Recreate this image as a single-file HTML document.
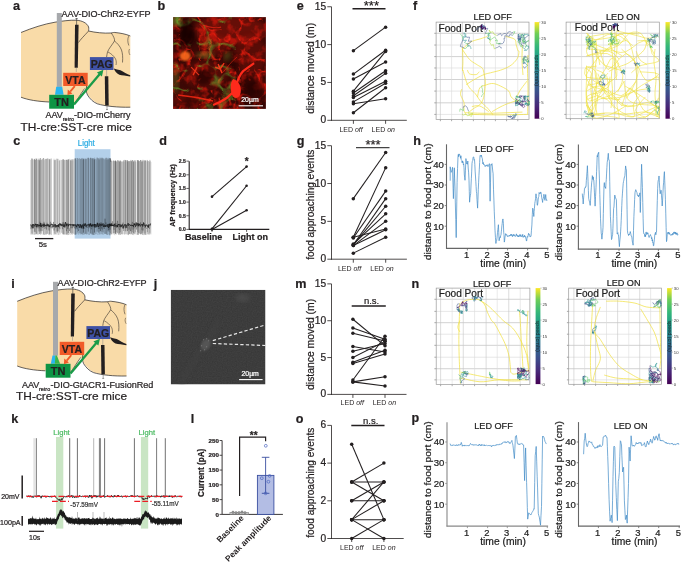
<!DOCTYPE html>
<html><head><meta charset="utf-8"><title>Figure</title>
<style>
html,body{margin:0;padding:0;background:#fff;}
body{width:685px;height:563px;overflow:hidden;}
svg{display:block;font-family:"Liberation Sans", sans-serif;}
</style></head>
<body>
<svg width="685" height="563" viewBox="0 0 685 563">
<defs>
<linearGradient id="vir" x1="0" y1="1" x2="0" y2="0">
<stop offset="0" stop-color="#440154"/><stop offset="0.13" stop-color="#482878"/><stop offset="0.25" stop-color="#3e4989"/>
<stop offset="0.38" stop-color="#31688e"/><stop offset="0.5" stop-color="#26828e"/><stop offset="0.63" stop-color="#1f9e89"/>
<stop offset="0.75" stop-color="#35b779"/><stop offset="0.88" stop-color="#6ece58"/><stop offset="1" stop-color="#fde725"/>
</linearGradient>
<clipPath id="clipB"><rect x="173.1" y="17.1" width="92.8" height="91.8"/></clipPath>
<clipPath id="clipJ"><rect x="170.7" y="289.8" width="94.8" height="94.7"/></clipPath>
<filter id="turbR" x="0" y="0" width="1" height="1" filterUnits="objectBoundingBox" color-interpolation-filters="sRGB">
<feTurbulence type="fractalNoise" baseFrequency="0.11" numOctaves="3" seed="4" result="n"/>
<feColorMatrix in="n" type="matrix" values="0 0 0 0 0.9  0 0 0 0 0.1  0 0 0 0 0.05  3.4 0 0 0 -1.6" result="c"/>
<feGaussianBlur in="c" stdDeviation="0.6"/>
</filter>
<filter id="turbG" x="0" y="0" width="1" height="1" filterUnits="objectBoundingBox" color-interpolation-filters="sRGB">
<feTurbulence type="fractalNoise" baseFrequency="0.07" numOctaves="2" seed="9" result="n"/>
<feColorMatrix in="n" type="matrix" values="0 0 0 0 0.45  0 0 0 0 0.7  0 0 0 0 0.15  0 3.0 0 0 -1.7" result="c"/>
<feGaussianBlur in="c" stdDeviation="0.8"/>
</filter>
<filter id="veinR" x="0" y="0" width="1" height="1" filterUnits="objectBoundingBox" color-interpolation-filters="sRGB">
<feTurbulence type="turbulence" baseFrequency="0.05" numOctaves="3" seed="4" result="n"/>
<feColorMatrix in="n" type="matrix" values="0 0 0 0 0.95  0 0 0 0 0.12  0 0 0 0 0.06  -8 0 0 0 1.25" result="c"/>
<feGaussianBlur in="c" stdDeviation="0.35"/>
</filter>
<filter id="veinG" x="0" y="0" width="1" height="1" filterUnits="objectBoundingBox" color-interpolation-filters="sRGB">
<feTurbulence type="turbulence" baseFrequency="0.045" numOctaves="2" seed="11" result="n"/>
<feColorMatrix in="n" type="matrix" values="0 0 0 0 0.4  0 0 0 0 0.75  0 0 0 0 0.2  -7 0 0 0 1.0" result="c"/>
<feGaussianBlur in="c" stdDeviation="0.4"/>
</filter>
<filter id="turbJ" x="0" y="0" width="1" height="1" filterUnits="objectBoundingBox" color-interpolation-filters="sRGB">
<feTurbulence type="fractalNoise" baseFrequency="0.8" numOctaves="1" seed="2" result="n"/>
<feColorMatrix in="n" type="matrix" values="0 0 0 0 1  0 0 0 0 1  0 0 0 0 1  1 0 0 0 0"/>
</filter>
<filter id="blur05"><feGaussianBlur stdDeviation="0.5"/></filter>
<filter id="blur1"><feGaussianBlur stdDeviation="1"/></filter>
<filter id="blur2"><feGaussianBlur stdDeviation="2"/></filter>
</defs>
<rect x="0" y="0" width="685" height="563" fill="#ffffff"/>
<g transform="translate(0,0)">
<path d="M21,32.5 C32,28 44,24 55,22.2 C62,21 70,20 76,20.2 C82,20.5 87,23 88.6,27 C89,29 88.5,30.5 88.6,31 C95,32.5 104,33.5 111,33 C113,32.6 114,32.3 115,32.5 C120,33 126,34 130.3,36 L130.3,107.2 C118,107.5 105,106 97.3,103.5 C92,100 88,96 86.7,92.4 L84.6,88.5 C80,96 76,101 74,104 L49.2,102 C38,101.5 28,100 21,97.2 Z" fill="#f9dba8" stroke="none"/>
<path d="M21,32.5 C32,28 44,24 55,22.2 C62,21 70,20 76,20.2 C82,20.5 87,23 88.6,27 C89,29 88.5,30.5 88.6,31 C95,32.5 104,33.5 111,33 C113,32.6 114,32.3 115,32.5 C120,33 126,34 130.3,36" fill="none" stroke="#231f20" stroke-width="0.7"/>
<path d="M21,97.2 C28,100 38,101.5 49.2,102" fill="none" stroke="#231f20" stroke-width="0.7"/>
<path d="M74,104 C77,100 80,95 84.6,88.5" fill="none" stroke="#231f20" stroke-width="0.6"/>
<path d="M86.7,86 C86,89 86,92 87.5,95 C90,99 93,102 97.3,103.8 C105,106.2 118,107.5 130.3,107.2" fill="none" stroke="#231f20" stroke-width="0.7"/>
<path d="M88.6,31 C84,36 80,40 78.5,42.5" fill="none" stroke="#231f20" stroke-width="0.6"/>
<path d="M111.3,33 C113.3,36 115,39 114.5,41 C112,45 108.5,49 107.5,52 C107,54 106.8,55.5 106.6,57" fill="none" stroke="#231f20" stroke-width="0.55"/>
<path d="M114.5,41 C117,43 120,46 121.5,50 C122.5,53 123,57 122.5,62.5" fill="none" stroke="#231f20" stroke-width="0.55"/>
<path d="M108,52 C111,53.5 114,56 115.6,59 C116.3,61 116.5,63 116,65" fill="none" stroke="#231f20" stroke-width="0.5"/>
<path d="M128.6,36.2 C127.5,39 127.5,42 128.8,45.5" fill="none" stroke="#231f20" stroke-width="0.5"/>
<path d="M129.5,49 C128.5,51 128.8,53 130,55" fill="none" stroke="#231f20" stroke-width="0.45"/>
<path d="M113.8,68.4 L117,69.5 L120.5,70.2 C123.5,72 127,74 130.2,75.2 L130.2,76.4 C126,75.9 122,75.3 119.3,74.8 C116.5,73 114.6,71 113.8,68.4 Z" fill="#231f20"/>
<line x1="76.60" y1="18.40" x2="76.60" y2="25.00" stroke="#333" stroke-width="0.6" />
<line x1="75.50" y1="18.60" x2="77.70" y2="18.60" stroke="#333" stroke-width="0.7" />
<path d="M75,24.8 L78.6,24.8 L77.8,67.7 L74.6,67.7 Z" fill="#231f20"/>
<line x1="76.30" y1="67.70" x2="76.30" y2="72.00" stroke="#888" stroke-width="0.5" />
<line x1="106.60" y1="70.00" x2="106.60" y2="76.20" stroke="#888" stroke-width="0.5" />
<path d="M104.8,76.2 L108.3,76.2 L108.7,105.4 L105.2,105.4 Z" fill="#231f20"/>
<line x1="107.00" y1="105.40" x2="107.00" y2="110.00" stroke="#555" stroke-width="0.5" />
<line x1="106.00" y1="109.60" x2="108.00" y2="109.60" stroke="#555" stroke-width="0.5" />
<rect x="56.80" y="13.00" width="5.00" height="73.90" fill="#a7a9ac" />
</g>
<g transform="translate(0,0)">
<path d="M56.2,86.8 L62.2,86.8 L63.6,94.8 L55.0,94.8 Z" fill="#29b6f0"/>
<rect x="63.20" y="72.80" width="24.50" height="13.20" fill="#f15a29" />
<text x="75.45" y="83.60" font-size="10.5" text-anchor="middle" font-weight="bold" fill="#231f20" stroke="#231f20" stroke-width="0.22" >VTA</text>
<rect x="89.90" y="57.10" width="23.60" height="12.90" fill="#3f51a5" />
<text x="101.70" y="67.60" font-size="10.5" text-anchor="middle" font-weight="bold" fill="#231f20" stroke="#231f20" stroke-width="0.22" >PAG</text>
<rect x="49.20" y="94.80" width="24.80" height="13.90" fill="#0d9444" />
<text x="61.60" y="106.20" font-size="11" text-anchor="middle" font-weight="bold" fill="#231f20" stroke="#231f20" stroke-width="0.22" >TN</text>
<line x1="74.8" y1="86.2" x2="70.2" y2="91.6" stroke="#f15a29" stroke-width="1.8"/>
<path d="M67.4,95.2 L67.8,89.6 L72.4,93.4 Z" fill="#f15a29"/>
<line x1="74.0" y1="104.6" x2="100.0" y2="73.7" stroke="#1a9b48" stroke-width="2.3"/>
<path d="M103.4,69.7 L101.9,76.6 L96.9,72.4 Z" fill="#1a9b48"/>
</g>
<text x="12.90" y="10.30" font-size="12.6" text-anchor="start" font-weight="bold" fill="#231f20" stroke="#231f20" stroke-width="0.22" >a</text>
<text x="61.50" y="17.40" font-size="9" text-anchor="start" font-weight="normal" fill="#231f20" stroke="#231f20" stroke-width="0.22" textLength="89" lengthAdjust="spacingAndGlyphs" >AAV-DIO-ChR2-EYFP</text>
<text x="45.40" y="117.70" font-size="9" text-anchor="start" font-weight="normal" fill="#231f20" stroke="#231f20" stroke-width="0.22" >AAV</text>
<text x="62.80" y="120.90" font-size="5.4" text-anchor="start" font-weight="normal" fill="#231f20" stroke="#231f20" stroke-width="0.22" textLength="11.2" lengthAdjust="spacingAndGlyphs" >retro</text>
<text x="74.00" y="117.70" font-size="9" text-anchor="start" font-weight="normal" fill="#231f20" stroke="#231f20" stroke-width="0.22" >-DIO-mCherry</text>
<text x="20.60" y="130.90" font-size="11.6" text-anchor="start" font-weight="normal" fill="#231f20" stroke="#231f20" stroke-width="0.22" textLength="111.2" lengthAdjust="spacingAndGlyphs" >TH-cre:SST-cre mice</text>
<g transform="translate(-3.8,268.8)">
<path d="M21,32.5 C32,28 44,24 55,22.2 C62,21 70,20 76,20.2 C82,20.5 87,23 88.6,27 C89,29 88.5,30.5 88.6,31 C95,32.5 104,33.5 111,33 C113,32.6 114,32.3 115,32.5 C120,33 126,34 130.3,36 L130.3,107.2 C118,107.5 105,106 97.3,103.5 C92,100 88,96 86.7,92.4 L84.6,88.5 C80,96 76,101 74,104 L49.2,102 C38,101.5 28,100 21,97.2 Z" fill="#f9dba8" stroke="none"/>
<path d="M21,32.5 C32,28 44,24 55,22.2 C62,21 70,20 76,20.2 C82,20.5 87,23 88.6,27 C89,29 88.5,30.5 88.6,31 C95,32.5 104,33.5 111,33 C113,32.6 114,32.3 115,32.5 C120,33 126,34 130.3,36" fill="none" stroke="#231f20" stroke-width="0.7"/>
<path d="M21,97.2 C28,100 38,101.5 49.2,102" fill="none" stroke="#231f20" stroke-width="0.7"/>
<path d="M74,104 C77,100 80,95 84.6,88.5" fill="none" stroke="#231f20" stroke-width="0.6"/>
<path d="M86.7,86 C86,89 86,92 87.5,95 C90,99 93,102 97.3,103.8 C105,106.2 118,107.5 130.3,107.2" fill="none" stroke="#231f20" stroke-width="0.7"/>
<path d="M88.6,31 C84,36 80,40 78.5,42.5" fill="none" stroke="#231f20" stroke-width="0.6"/>
<path d="M111.3,33 C113.3,36 115,39 114.5,41 C112,45 108.5,49 107.5,52 C107,54 106.8,55.5 106.6,57" fill="none" stroke="#231f20" stroke-width="0.55"/>
<path d="M114.5,41 C117,43 120,46 121.5,50 C122.5,53 123,57 122.5,62.5" fill="none" stroke="#231f20" stroke-width="0.55"/>
<path d="M108,52 C111,53.5 114,56 115.6,59 C116.3,61 116.5,63 116,65" fill="none" stroke="#231f20" stroke-width="0.5"/>
<path d="M128.6,36.2 C127.5,39 127.5,42 128.8,45.5" fill="none" stroke="#231f20" stroke-width="0.5"/>
<path d="M129.5,49 C128.5,51 128.8,53 130,55" fill="none" stroke="#231f20" stroke-width="0.45"/>
<path d="M113.8,68.4 L117,69.5 L120.5,70.2 C123.5,72 127,74 130.2,75.2 L130.2,76.4 C126,75.9 122,75.3 119.3,74.8 C116.5,73 114.6,71 113.8,68.4 Z" fill="#231f20"/>
<line x1="76.60" y1="18.40" x2="76.60" y2="25.00" stroke="#333" stroke-width="0.6" />
<line x1="75.50" y1="18.60" x2="77.70" y2="18.60" stroke="#333" stroke-width="0.7" />
<path d="M75,24.8 L78.6,24.8 L77.8,67.7 L74.6,67.7 Z" fill="#231f20"/>
<line x1="76.30" y1="67.70" x2="76.30" y2="72.00" stroke="#888" stroke-width="0.5" />
<line x1="106.60" y1="70.00" x2="106.60" y2="76.20" stroke="#888" stroke-width="0.5" />
<path d="M104.8,76.2 L108.3,76.2 L108.7,105.4 L105.2,105.4 Z" fill="#231f20"/>
<line x1="107.00" y1="105.40" x2="107.00" y2="110.00" stroke="#555" stroke-width="0.5" />
<line x1="106.00" y1="109.60" x2="108.00" y2="109.60" stroke="#555" stroke-width="0.5" />
<rect x="56.80" y="13.00" width="5.00" height="73.90" fill="#a7a9ac" />
</g>
<g transform="translate(-3.5,269.0)">
<path d="M56.0,86.6 L59.0,86.6 L58.4,94.8 L54.3,94.8 Z" fill="#29b6f0"/>
<path d="M58.9,86.6 L60.4,86.6 L63.6,94.8 L58.3,94.8 Z" fill="#39b54a"/>
<rect x="63.20" y="72.80" width="24.50" height="13.20" fill="#f15a29" />
<text x="75.45" y="83.60" font-size="10.5" text-anchor="middle" font-weight="bold" fill="#231f20" stroke="#231f20" stroke-width="0.22" >VTA</text>
<rect x="89.90" y="57.10" width="23.60" height="12.90" fill="#3f51a5" />
<text x="101.70" y="67.60" font-size="10.5" text-anchor="middle" font-weight="bold" fill="#231f20" stroke="#231f20" stroke-width="0.22" >PAG</text>
<rect x="49.20" y="94.80" width="24.80" height="13.90" fill="#0d9444" />
<text x="61.60" y="106.20" font-size="11" text-anchor="middle" font-weight="bold" fill="#231f20" stroke="#231f20" stroke-width="0.22" >TN</text>
<line x1="74.8" y1="86.2" x2="70.2" y2="91.6" stroke="#f15a29" stroke-width="1.8"/>
<path d="M67.4,95.2 L67.8,89.6 L72.4,93.4 Z" fill="#f15a29"/>
<line x1="74.0" y1="104.6" x2="100.0" y2="73.7" stroke="#1a9b48" stroke-width="2.3"/>
<path d="M103.4,69.7 L101.9,76.6 L96.9,72.4 Z" fill="#1a9b48"/>
</g>
<text x="11.30" y="288.00" font-size="12.6" text-anchor="start" font-weight="bold" fill="#231f20" stroke="#231f20" stroke-width="0.22" >i</text>
<text x="57.60" y="286.10" font-size="9" text-anchor="start" font-weight="normal" fill="#231f20" stroke="#231f20" stroke-width="0.22" textLength="89" lengthAdjust="spacingAndGlyphs" >AAV-DIO-ChR2-EYFP</text>
<text x="22.00" y="387.80" font-size="9" text-anchor="start" font-weight="normal" fill="#231f20" stroke="#231f20" stroke-width="0.22" >AAV</text>
<text x="39.00" y="390.60" font-size="5.4" text-anchor="start" font-weight="normal" fill="#231f20" stroke="#231f20" stroke-width="0.22" textLength="11.2" lengthAdjust="spacingAndGlyphs" >retro</text>
<text x="50.60" y="387.80" font-size="9" text-anchor="start" font-weight="normal" fill="#231f20" stroke="#231f20" stroke-width="0.22" textLength="102.8" lengthAdjust="spacingAndGlyphs" >-DIO-GtACR1-FusionRed</text>
<text x="16.10" y="400.30" font-size="11.6" text-anchor="start" font-weight="normal" fill="#231f20" stroke="#231f20" stroke-width="0.22" textLength="111" lengthAdjust="spacingAndGlyphs" >TH-cre:SST-cre mice</text>
<line x1="331.50" y1="6.75" x2="331.50" y2="120.70" stroke="#231f20" stroke-width="0.8" />
<line x1="331.10" y1="120.30" x2="406.80" y2="120.30" stroke="#231f20" stroke-width="0.8" />
<line x1="327.30" y1="120.30" x2="331.50" y2="120.30" stroke="#231f20" stroke-width="0.8" />
<text x="326.20" y="123.30" font-size="10.2" text-anchor="end" font-weight="normal" fill="#231f20" stroke="#231f20" stroke-width="0.22" >0</text>
<line x1="327.30" y1="82.45" x2="331.50" y2="82.45" stroke="#231f20" stroke-width="0.8" />
<text x="326.20" y="85.45" font-size="10.2" text-anchor="end" font-weight="normal" fill="#231f20" stroke="#231f20" stroke-width="0.22" >5</text>
<line x1="327.30" y1="44.60" x2="331.50" y2="44.60" stroke="#231f20" stroke-width="0.8" />
<text x="326.20" y="47.60" font-size="10.2" text-anchor="end" font-weight="normal" fill="#231f20" stroke="#231f20" stroke-width="0.22" >10</text>
<line x1="327.30" y1="6.75" x2="331.50" y2="6.75" stroke="#231f20" stroke-width="0.8" />
<text x="326.20" y="9.75" font-size="10.2" text-anchor="end" font-weight="normal" fill="#231f20" stroke="#231f20" stroke-width="0.22" >15</text>
<line x1="353.40" y1="120.30" x2="353.40" y2="123.80" stroke="#231f20" stroke-width="0.8" />
<line x1="385.60" y1="120.30" x2="385.60" y2="123.80" stroke="#231f20" stroke-width="0.8" />
<text x="351.10" y="131.70" font-size="7" text-anchor="middle" fill="#231f20">LED <tspan font-style="italic">off</tspan></text>
<text x="383.30" y="131.70" font-size="7" text-anchor="middle" fill="#231f20">LED <tspan font-style="italic">on</tspan></text>
<line x1="353.40" y1="50.66" x2="385.60" y2="27.19" stroke="#231f20" stroke-width="1.05" />
<line x1="353.40" y1="74.12" x2="385.60" y2="50.28" stroke="#231f20" stroke-width="1.05" />
<line x1="353.40" y1="79.04" x2="385.60" y2="62.01" stroke="#231f20" stroke-width="1.05" />
<line x1="353.40" y1="91.16" x2="385.60" y2="51.41" stroke="#231f20" stroke-width="1.05" />
<line x1="353.40" y1="93.05" x2="385.60" y2="70.72" stroke="#231f20" stroke-width="1.05" />
<line x1="353.40" y1="95.70" x2="385.60" y2="73.37" stroke="#231f20" stroke-width="1.05" />
<line x1="353.40" y1="97.59" x2="385.60" y2="81.31" stroke="#231f20" stroke-width="1.05" />
<line x1="353.40" y1="101.90" x2="385.60" y2="83.21" stroke="#231f20" stroke-width="1.05" />
<line x1="353.40" y1="103.65" x2="385.60" y2="98.73" stroke="#231f20" stroke-width="1.05" />
<line x1="353.40" y1="112.73" x2="385.60" y2="87.75" stroke="#231f20" stroke-width="1.05" />
<circle cx="353.40" cy="50.66" r="1.75" fill="#231f20"/>
<circle cx="385.60" cy="27.19" r="1.75" fill="#231f20"/>
<circle cx="353.40" cy="74.12" r="1.75" fill="#231f20"/>
<circle cx="385.60" cy="50.28" r="1.75" fill="#231f20"/>
<circle cx="353.40" cy="79.04" r="1.75" fill="#231f20"/>
<circle cx="385.60" cy="62.01" r="1.75" fill="#231f20"/>
<circle cx="353.40" cy="91.16" r="1.75" fill="#231f20"/>
<circle cx="385.60" cy="51.41" r="1.75" fill="#231f20"/>
<circle cx="353.40" cy="93.05" r="1.75" fill="#231f20"/>
<circle cx="385.60" cy="70.72" r="1.75" fill="#231f20"/>
<circle cx="353.40" cy="95.70" r="1.75" fill="#231f20"/>
<circle cx="385.60" cy="73.37" r="1.75" fill="#231f20"/>
<circle cx="353.40" cy="97.59" r="1.75" fill="#231f20"/>
<circle cx="385.60" cy="81.31" r="1.75" fill="#231f20"/>
<circle cx="353.40" cy="101.90" r="1.75" fill="#231f20"/>
<circle cx="385.60" cy="83.21" r="1.75" fill="#231f20"/>
<circle cx="353.40" cy="103.65" r="1.75" fill="#231f20"/>
<circle cx="385.60" cy="98.73" r="1.75" fill="#231f20"/>
<circle cx="353.40" cy="112.73" r="1.75" fill="#231f20"/>
<circle cx="385.60" cy="87.75" r="1.75" fill="#231f20"/>
<line x1="352.50" y1="8.70" x2="385.50" y2="8.70" stroke="#231f20" stroke-width="1.35" />
<text x="371.40" y="10.40" font-size="13" text-anchor="middle" font-weight="normal" fill="#231f20" stroke="#231f20" stroke-width="0.22" >***</text>
<text transform="translate(314.20,68.30) scale(1.1,1) rotate(-90)" x="0" y="0" font-size="10.4" text-anchor="middle" font-weight="normal" fill="#231f20" stroke="#231f20" stroke-width="0.22" textLength="91" lengthAdjust="spacingAndGlyphs">distance moved (m)</text>
<text x="296.80" y="10.20" font-size="12.6" text-anchor="start" font-weight="bold" fill="#231f20" stroke="#231f20" stroke-width="0.22" >e</text>
<line x1="331.50" y1="145.69" x2="331.50" y2="259.60" stroke="#231f20" stroke-width="0.8" />
<line x1="331.10" y1="259.20" x2="406.90" y2="259.20" stroke="#231f20" stroke-width="0.8" />
<line x1="327.30" y1="259.20" x2="331.50" y2="259.20" stroke="#231f20" stroke-width="0.8" />
<text x="326.20" y="262.20" font-size="10.2" text-anchor="end" font-weight="normal" fill="#231f20" stroke="#231f20" stroke-width="0.22" >0</text>
<line x1="327.30" y1="221.36" x2="331.50" y2="221.36" stroke="#231f20" stroke-width="0.8" />
<text x="326.20" y="224.36" font-size="10.2" text-anchor="end" font-weight="normal" fill="#231f20" stroke="#231f20" stroke-width="0.22" >5</text>
<line x1="327.30" y1="183.53" x2="331.50" y2="183.53" stroke="#231f20" stroke-width="0.8" />
<text x="326.20" y="186.53" font-size="10.2" text-anchor="end" font-weight="normal" fill="#231f20" stroke="#231f20" stroke-width="0.22" >10</text>
<line x1="327.30" y1="145.69" x2="331.50" y2="145.69" stroke="#231f20" stroke-width="0.8" />
<text x="326.20" y="148.69" font-size="10.2" text-anchor="end" font-weight="normal" fill="#231f20" stroke="#231f20" stroke-width="0.22" >15</text>
<line x1="353.30" y1="259.20" x2="353.30" y2="262.70" stroke="#231f20" stroke-width="0.8" />
<line x1="385.70" y1="259.20" x2="385.70" y2="262.70" stroke="#231f20" stroke-width="0.8" />
<text x="349.60" y="271.20" font-size="7" text-anchor="middle" fill="#231f20">LED <tspan font-style="italic">off</tspan></text>
<text x="382.00" y="271.20" font-size="7" text-anchor="middle" fill="#231f20">LED <tspan font-style="italic">on</tspan></text>
<line x1="353.30" y1="198.66" x2="385.70" y2="152.51" stroke="#231f20" stroke-width="1.05" />
<line x1="353.30" y1="237.26" x2="385.70" y2="167.64" stroke="#231f20" stroke-width="1.05" />
<line x1="353.30" y1="238.01" x2="385.70" y2="191.10" stroke="#231f20" stroke-width="1.05" />
<line x1="353.30" y1="244.82" x2="385.70" y2="198.66" stroke="#231f20" stroke-width="1.05" />
<line x1="353.30" y1="244.82" x2="385.70" y2="206.23" stroke="#231f20" stroke-width="1.05" />
<line x1="353.30" y1="244.07" x2="385.70" y2="213.80" stroke="#231f20" stroke-width="1.05" />
<line x1="353.30" y1="245.58" x2="385.70" y2="221.36" stroke="#231f20" stroke-width="1.05" />
<line x1="353.30" y1="237.26" x2="385.70" y2="228.93" stroke="#231f20" stroke-width="1.05" />
<line x1="353.30" y1="245.58" x2="385.70" y2="229.69" stroke="#231f20" stroke-width="1.05" />
<line x1="353.30" y1="253.15" x2="385.70" y2="237.26" stroke="#231f20" stroke-width="1.05" />
<circle cx="353.30" cy="198.66" r="1.75" fill="#231f20"/>
<circle cx="385.70" cy="152.51" r="1.75" fill="#231f20"/>
<circle cx="353.30" cy="237.26" r="1.75" fill="#231f20"/>
<circle cx="385.70" cy="167.64" r="1.75" fill="#231f20"/>
<circle cx="353.30" cy="238.01" r="1.75" fill="#231f20"/>
<circle cx="385.70" cy="191.10" r="1.75" fill="#231f20"/>
<circle cx="353.30" cy="244.82" r="1.75" fill="#231f20"/>
<circle cx="385.70" cy="198.66" r="1.75" fill="#231f20"/>
<circle cx="353.30" cy="244.82" r="1.75" fill="#231f20"/>
<circle cx="385.70" cy="206.23" r="1.75" fill="#231f20"/>
<circle cx="353.30" cy="244.07" r="1.75" fill="#231f20"/>
<circle cx="385.70" cy="213.80" r="1.75" fill="#231f20"/>
<circle cx="353.30" cy="245.58" r="1.75" fill="#231f20"/>
<circle cx="385.70" cy="221.36" r="1.75" fill="#231f20"/>
<circle cx="353.30" cy="237.26" r="1.75" fill="#231f20"/>
<circle cx="385.70" cy="228.93" r="1.75" fill="#231f20"/>
<circle cx="353.30" cy="245.58" r="1.75" fill="#231f20"/>
<circle cx="385.70" cy="229.69" r="1.75" fill="#231f20"/>
<circle cx="353.30" cy="253.15" r="1.75" fill="#231f20"/>
<circle cx="385.70" cy="237.26" r="1.75" fill="#231f20"/>
<line x1="356.00" y1="147.60" x2="389.50" y2="147.60" stroke="#444" stroke-width="1.1" />
<text x="373.05" y="149.30" font-size="13" text-anchor="middle" font-weight="normal" fill="#231f20" stroke="#231f20" stroke-width="0.22" >***</text>
<text transform="translate(314.20,204.80) scale(1.1,1) rotate(-90)" x="0" y="0" font-size="10.4" text-anchor="middle" font-weight="normal" fill="#231f20" stroke="#231f20" stroke-width="0.22" textLength="110" lengthAdjust="spacingAndGlyphs">food approaching events</text>
<text x="296.80" y="144.60" font-size="12.6" text-anchor="start" font-weight="bold" fill="#231f20" stroke="#231f20" stroke-width="0.22" >g</text>
<line x1="331.50" y1="283.89" x2="331.50" y2="394.80" stroke="#231f20" stroke-width="0.8" />
<line x1="331.10" y1="394.40" x2="406.50" y2="394.40" stroke="#231f20" stroke-width="0.8" />
<line x1="327.30" y1="394.40" x2="331.50" y2="394.40" stroke="#231f20" stroke-width="0.8" />
<text x="326.20" y="397.40" font-size="10.2" text-anchor="end" font-weight="normal" fill="#231f20" stroke="#231f20" stroke-width="0.22" >0</text>
<line x1="327.30" y1="357.56" x2="331.50" y2="357.56" stroke="#231f20" stroke-width="0.8" />
<text x="326.20" y="360.56" font-size="10.2" text-anchor="end" font-weight="normal" fill="#231f20" stroke="#231f20" stroke-width="0.22" >5</text>
<line x1="327.30" y1="320.73" x2="331.50" y2="320.73" stroke="#231f20" stroke-width="0.8" />
<text x="326.20" y="323.73" font-size="10.2" text-anchor="end" font-weight="normal" fill="#231f20" stroke="#231f20" stroke-width="0.22" >10</text>
<line x1="327.30" y1="283.89" x2="331.50" y2="283.89" stroke="#231f20" stroke-width="0.8" />
<text x="326.20" y="286.89" font-size="10.2" text-anchor="end" font-weight="normal" fill="#231f20" stroke="#231f20" stroke-width="0.22" >15</text>
<line x1="352.90" y1="394.40" x2="352.90" y2="397.90" stroke="#231f20" stroke-width="0.8" />
<line x1="385.00" y1="394.40" x2="385.00" y2="397.90" stroke="#231f20" stroke-width="0.8" />
<text x="352.30" y="404.80" font-size="7" text-anchor="middle" fill="#231f20">LED <tspan font-style="italic">off</tspan></text>
<text x="384.40" y="404.80" font-size="7" text-anchor="middle" fill="#231f20">LED <tspan font-style="italic">on</tspan></text>
<line x1="352.90" y1="319.26" x2="385.00" y2="345.78" stroke="#231f20" stroke-width="1.05" />
<line x1="352.90" y1="328.10" x2="385.00" y2="339.15" stroke="#231f20" stroke-width="1.05" />
<line x1="352.90" y1="333.25" x2="385.00" y2="340.99" stroke="#231f20" stroke-width="1.05" />
<line x1="352.90" y1="346.51" x2="385.00" y2="352.04" stroke="#231f20" stroke-width="1.05" />
<line x1="352.90" y1="351.30" x2="385.00" y2="343.57" stroke="#231f20" stroke-width="1.05" />
<line x1="352.90" y1="357.56" x2="385.00" y2="341.36" stroke="#231f20" stroke-width="1.05" />
<line x1="352.90" y1="362.35" x2="385.00" y2="350.20" stroke="#231f20" stroke-width="1.05" />
<line x1="352.90" y1="363.46" x2="385.00" y2="353.88" stroke="#231f20" stroke-width="1.05" />
<line x1="352.90" y1="380.03" x2="385.00" y2="336.20" stroke="#231f20" stroke-width="1.05" />
<line x1="352.90" y1="381.88" x2="385.00" y2="376.72" stroke="#231f20" stroke-width="1.05" />
<line x1="352.90" y1="381.88" x2="385.00" y2="385.93" stroke="#231f20" stroke-width="1.05" />
<circle cx="352.90" cy="319.26" r="1.75" fill="#231f20"/>
<circle cx="385.00" cy="345.78" r="1.75" fill="#231f20"/>
<circle cx="352.90" cy="328.10" r="1.75" fill="#231f20"/>
<circle cx="385.00" cy="339.15" r="1.75" fill="#231f20"/>
<circle cx="352.90" cy="333.25" r="1.75" fill="#231f20"/>
<circle cx="385.00" cy="340.99" r="1.75" fill="#231f20"/>
<circle cx="352.90" cy="346.51" r="1.75" fill="#231f20"/>
<circle cx="385.00" cy="352.04" r="1.75" fill="#231f20"/>
<circle cx="352.90" cy="351.30" r="1.75" fill="#231f20"/>
<circle cx="385.00" cy="343.57" r="1.75" fill="#231f20"/>
<circle cx="352.90" cy="357.56" r="1.75" fill="#231f20"/>
<circle cx="385.00" cy="341.36" r="1.75" fill="#231f20"/>
<circle cx="352.90" cy="362.35" r="1.75" fill="#231f20"/>
<circle cx="385.00" cy="350.20" r="1.75" fill="#231f20"/>
<circle cx="352.90" cy="363.46" r="1.75" fill="#231f20"/>
<circle cx="385.00" cy="353.88" r="1.75" fill="#231f20"/>
<circle cx="352.90" cy="380.03" r="1.75" fill="#231f20"/>
<circle cx="385.00" cy="336.20" r="1.75" fill="#231f20"/>
<circle cx="352.90" cy="381.88" r="1.75" fill="#231f20"/>
<circle cx="385.00" cy="376.72" r="1.75" fill="#231f20"/>
<circle cx="352.90" cy="381.88" r="1.75" fill="#231f20"/>
<circle cx="385.00" cy="385.93" r="1.75" fill="#231f20"/>
<line x1="351.70" y1="306.00" x2="385.80" y2="306.00" stroke="#231f20" stroke-width="1.35" />
<text x="371.55" y="304.00" font-size="9.5" text-anchor="middle" font-weight="normal" fill="#231f20" stroke="#231f20" stroke-width="0.22" >n.s.</text>
<text transform="translate(314.20,344.40) scale(1.1,1) rotate(-90)" x="0" y="0" font-size="10.4" text-anchor="middle" font-weight="normal" fill="#231f20" stroke="#231f20" stroke-width="0.22" textLength="91" lengthAdjust="spacingAndGlyphs">distance moved (m)</text>
<text x="295.20" y="288.30" font-size="12.6" text-anchor="start" font-weight="bold" fill="#231f20" stroke="#231f20" stroke-width="0.22" >m</text>
<line x1="331.50" y1="425.40" x2="331.50" y2="538.90" stroke="#231f20" stroke-width="0.8" />
<line x1="331.10" y1="538.50" x2="403.70" y2="538.50" stroke="#231f20" stroke-width="0.8" />
<line x1="327.30" y1="538.50" x2="331.50" y2="538.50" stroke="#231f20" stroke-width="0.8" />
<text x="326.20" y="541.50" font-size="10.2" text-anchor="end" font-weight="normal" fill="#231f20" stroke="#231f20" stroke-width="0.22" >0</text>
<line x1="327.30" y1="500.80" x2="331.50" y2="500.80" stroke="#231f20" stroke-width="0.8" />
<text x="326.20" y="503.80" font-size="10.2" text-anchor="end" font-weight="normal" fill="#231f20" stroke="#231f20" stroke-width="0.22" >2</text>
<line x1="327.30" y1="463.10" x2="331.50" y2="463.10" stroke="#231f20" stroke-width="0.8" />
<text x="326.20" y="466.10" font-size="10.2" text-anchor="end" font-weight="normal" fill="#231f20" stroke="#231f20" stroke-width="0.22" >4</text>
<line x1="327.30" y1="425.40" x2="331.50" y2="425.40" stroke="#231f20" stroke-width="0.8" />
<text x="326.20" y="428.40" font-size="10.2" text-anchor="end" font-weight="normal" fill="#231f20" stroke="#231f20" stroke-width="0.22" >6</text>
<line x1="351.70" y1="538.50" x2="351.70" y2="542.00" stroke="#231f20" stroke-width="0.8" />
<line x1="383.90" y1="538.50" x2="383.90" y2="542.00" stroke="#231f20" stroke-width="0.8" />
<text x="351.70" y="549.70" font-size="7" text-anchor="middle" fill="#231f20">LED <tspan font-style="italic">off</tspan></text>
<text x="383.90" y="549.70" font-size="7" text-anchor="middle" fill="#231f20">LED <tspan font-style="italic">on</tspan></text>
<line x1="351.70" y1="444.25" x2="383.90" y2="519.65" stroke="#231f20" stroke-width="1.05" />
<line x1="351.70" y1="481.95" x2="383.90" y2="463.10" stroke="#231f20" stroke-width="1.05" />
<line x1="351.70" y1="481.95" x2="383.90" y2="481.95" stroke="#231f20" stroke-width="1.05" />
<line x1="351.70" y1="481.95" x2="383.90" y2="500.80" stroke="#231f20" stroke-width="1.05" />
<line x1="351.70" y1="500.80" x2="383.90" y2="500.80" stroke="#231f20" stroke-width="1.05" />
<line x1="351.70" y1="500.80" x2="383.90" y2="481.95" stroke="#231f20" stroke-width="1.05" />
<line x1="351.70" y1="519.65" x2="383.90" y2="481.95" stroke="#231f20" stroke-width="1.05" />
<line x1="351.70" y1="519.65" x2="383.90" y2="500.80" stroke="#231f20" stroke-width="1.05" />
<line x1="351.70" y1="519.65" x2="383.90" y2="519.65" stroke="#231f20" stroke-width="1.05" />
<line x1="351.70" y1="519.65" x2="383.90" y2="538.50" stroke="#231f20" stroke-width="1.05" />
<line x1="351.70" y1="538.50" x2="383.90" y2="519.65" stroke="#231f20" stroke-width="1.05" />
<circle cx="351.70" cy="444.25" r="1.75" fill="#231f20"/>
<circle cx="383.90" cy="519.65" r="1.75" fill="#231f20"/>
<circle cx="351.70" cy="481.95" r="1.75" fill="#231f20"/>
<circle cx="383.90" cy="463.10" r="1.75" fill="#231f20"/>
<circle cx="351.70" cy="481.95" r="1.75" fill="#231f20"/>
<circle cx="383.90" cy="481.95" r="1.75" fill="#231f20"/>
<circle cx="351.70" cy="481.95" r="1.75" fill="#231f20"/>
<circle cx="383.90" cy="500.80" r="1.75" fill="#231f20"/>
<circle cx="351.70" cy="500.80" r="1.75" fill="#231f20"/>
<circle cx="383.90" cy="500.80" r="1.75" fill="#231f20"/>
<circle cx="351.70" cy="500.80" r="1.75" fill="#231f20"/>
<circle cx="383.90" cy="481.95" r="1.75" fill="#231f20"/>
<circle cx="351.70" cy="519.65" r="1.75" fill="#231f20"/>
<circle cx="383.90" cy="481.95" r="1.75" fill="#231f20"/>
<circle cx="351.70" cy="519.65" r="1.75" fill="#231f20"/>
<circle cx="383.90" cy="500.80" r="1.75" fill="#231f20"/>
<circle cx="351.70" cy="519.65" r="1.75" fill="#231f20"/>
<circle cx="383.90" cy="519.65" r="1.75" fill="#231f20"/>
<circle cx="351.70" cy="519.65" r="1.75" fill="#231f20"/>
<circle cx="383.90" cy="538.50" r="1.75" fill="#231f20"/>
<circle cx="351.70" cy="538.50" r="1.75" fill="#231f20"/>
<circle cx="383.90" cy="519.65" r="1.75" fill="#231f20"/>
<line x1="351.30" y1="425.50" x2="384.50" y2="425.50" stroke="#231f20" stroke-width="1.35" />
<text x="370.70" y="423.50" font-size="9.5" text-anchor="middle" font-weight="normal" fill="#231f20" stroke="#231f20" stroke-width="0.22" >n.s.</text>
<text transform="translate(314.20,482.70) scale(1.1,1) rotate(-90)" x="0" y="0" font-size="10.4" text-anchor="middle" font-weight="normal" fill="#231f20" stroke="#231f20" stroke-width="0.22" textLength="110" lengthAdjust="spacingAndGlyphs">food approaching events</text>
<text x="295.70" y="423.00" font-size="12.6" text-anchor="start" font-weight="bold" fill="#231f20" stroke="#231f20" stroke-width="0.22" >o</text>
<line x1="189.20" y1="161.15" x2="189.20" y2="229.40" stroke="#231f20" stroke-width="1.1" />
<line x1="188.90" y1="229.40" x2="269.30" y2="229.40" stroke="#231f20" stroke-width="1.1" />
<line x1="186.40" y1="229.40" x2="188.90" y2="229.40" stroke="#231f20" stroke-width="0.7" />
<text x="185.70" y="231.20" font-size="5" text-anchor="end" font-weight="bold" fill="#231f20" stroke="#231f20" stroke-width="0.22" >0.0</text>
<line x1="186.40" y1="215.75" x2="188.90" y2="215.75" stroke="#231f20" stroke-width="0.7" />
<text x="185.70" y="217.55" font-size="5" text-anchor="end" font-weight="bold" fill="#231f20" stroke="#231f20" stroke-width="0.22" >0.5</text>
<line x1="186.40" y1="202.10" x2="188.90" y2="202.10" stroke="#231f20" stroke-width="0.7" />
<text x="185.70" y="203.90" font-size="5" text-anchor="end" font-weight="bold" fill="#231f20" stroke="#231f20" stroke-width="0.22" >1.0</text>
<line x1="186.40" y1="188.45" x2="188.90" y2="188.45" stroke="#231f20" stroke-width="0.7" />
<text x="185.70" y="190.25" font-size="5" text-anchor="end" font-weight="bold" fill="#231f20" stroke="#231f20" stroke-width="0.22" >1.5</text>
<line x1="186.40" y1="174.80" x2="188.90" y2="174.80" stroke="#231f20" stroke-width="0.7" />
<text x="185.70" y="176.60" font-size="5" text-anchor="end" font-weight="bold" fill="#231f20" stroke="#231f20" stroke-width="0.22" >2.0</text>
<line x1="186.40" y1="161.15" x2="188.90" y2="161.15" stroke="#231f20" stroke-width="0.7" />
<text x="185.70" y="162.95" font-size="5" text-anchor="end" font-weight="bold" fill="#231f20" stroke="#231f20" stroke-width="0.22" >2.5</text>
<line x1="212.00" y1="229.40" x2="212.00" y2="231.90" stroke="#231f20" stroke-width="0.7" />
<line x1="246.60" y1="229.40" x2="246.60" y2="231.90" stroke="#231f20" stroke-width="0.7" />
<line x1="212.00" y1="196.64" x2="246.60" y2="166.61" stroke="#231f20" stroke-width="1.1" />
<circle cx="212.00" cy="196.64" r="1.3" fill="#231f20"/>
<circle cx="246.60" cy="166.61" r="1.3" fill="#231f20"/>
<line x1="212.00" y1="228.85" x2="246.60" y2="185.72" stroke="#231f20" stroke-width="1.1" />
<circle cx="212.00" cy="228.85" r="1.3" fill="#231f20"/>
<circle cx="246.60" cy="185.72" r="1.3" fill="#231f20"/>
<line x1="212.00" y1="229.40" x2="246.60" y2="210.29" stroke="#231f20" stroke-width="1.1" />
<circle cx="212.00" cy="229.40" r="1.3" fill="#231f20"/>
<circle cx="246.60" cy="210.29" r="1.3" fill="#231f20"/>
<text x="246.60" y="164.60" font-size="10" text-anchor="middle" font-weight="bold" fill="#231f20" stroke="#231f20" stroke-width="0.22" >*</text>
<text x="185.00" y="240.30" font-size="9.2" text-anchor="start" font-weight="bold" fill="#231f20" stroke="#231f20" stroke-width="0.22" textLength="37.4" lengthAdjust="spacingAndGlyphs" >Baseline</text>
<text x="232.60" y="240.30" font-size="9.2" text-anchor="start" font-weight="bold" fill="#231f20" stroke="#231f20" stroke-width="0.22" textLength="35.5" lengthAdjust="spacingAndGlyphs" >Light on</text>
<text transform="translate(174.50,195.40) rotate(-90)" x="0" y="0" font-size="7.3" text-anchor="middle" font-weight="bold" fill="#231f20" stroke="#231f20" stroke-width="0.22" textLength="62.8" lengthAdjust="spacingAndGlyphs">AP frequency (Hz)</text>
<text x="159.20" y="145.30" font-size="12.6" text-anchor="start" font-weight="bold" fill="#231f20" stroke="#231f20" stroke-width="0.22" >d</text>
<text x="13.20" y="144.80" font-size="12.6" text-anchor="start" font-weight="bold" fill="#231f20" stroke="#231f20" stroke-width="0.22" >c</text>
<line x1="31.00" y1="160.02" x2="31.00" y2="234.46" stroke="rgb(140,140,140)" stroke-width="0.5782536776510856" />
<line x1="31.46" y1="159.03" x2="31.46" y2="234.57" stroke="rgb(228,228,228)" stroke-width="1.045291040111195" />
<line x1="32.30" y1="159.21" x2="32.30" y2="234.36" stroke="rgb(160,160,160)" stroke-width="0.8245843313774233" />
<line x1="32.96" y1="159.91" x2="32.96" y2="234.53" stroke="rgb(204,204,204)" stroke-width="0.8809163949711132" />
<line x1="33.66" y1="160.11" x2="33.66" y2="233.86" stroke="rgb(220,220,220)" stroke-width="0.5956399638573687" />
<line x1="34.14" y1="159.58" x2="34.14" y2="235.03" stroke="rgb(196,196,196)" stroke-width="0.7836494531992801" />
<line x1="34.77" y1="159.76" x2="34.77" y2="234.42" stroke="rgb(176,176,176)" stroke-width="0.7369780424004464" />
<line x1="35.36" y1="158.30" x2="35.36" y2="234.10" stroke="rgb(188,188,188)" stroke-width="0.5584725858385263" />
<line x1="35.80" y1="159.88" x2="35.80" y2="234.39" stroke="rgb(176,176,176)" stroke-width="0.9673835514186991" />
<line x1="36.58" y1="158.90" x2="36.58" y2="234.13" stroke="rgb(188,188,188)" stroke-width="0.8204618509936665" />
<line x1="37.23" y1="160.18" x2="37.23" y2="234.74" stroke="rgb(228,228,228)" stroke-width="1.0138403398380533" />
<line x1="38.04" y1="159.99" x2="38.04" y2="234.60" stroke="rgb(188,188,188)" stroke-width="1.078779768385437" />
<line x1="38.91" y1="160.17" x2="38.91" y2="234.17" stroke="rgb(204,204,204)" stroke-width="0.8797855429274198" />
<line x1="39.61" y1="160.18" x2="39.61" y2="233.92" stroke="rgb(160,160,160)" stroke-width="1.0123654930536081" />
<line x1="40.42" y1="158.04" x2="40.42" y2="234.40" stroke="rgb(176,176,176)" stroke-width="1.0382576949183586" />
<line x1="41.25" y1="159.35" x2="41.25" y2="233.86" stroke="rgb(220,220,220)" stroke-width="0.526514036677726" />
<line x1="41.67" y1="160.03" x2="41.67" y2="234.19" stroke="rgb(188,188,188)" stroke-width="0.8305108646194874" />
<line x1="42.34" y1="158.17" x2="42.34" y2="234.64" stroke="rgb(228,228,228)" stroke-width="0.6858020320858035" />
<line x1="43.38" y1="158.09" x2="43.38" y2="235.01" stroke="rgb(196,196,196)" stroke-width="0.5937193946081388" />
<line x1="43.86" y1="158.83" x2="43.86" y2="234.44" stroke="rgb(212,212,212)" stroke-width="1.037995784856561" />
<line x1="44.69" y1="160.14" x2="44.69" y2="234.94" stroke="rgb(140,140,140)" stroke-width="0.5615436954205906" />
<line x1="45.14" y1="158.96" x2="45.14" y2="234.16" stroke="rgb(204,204,204)" stroke-width="1.0618615417231032" />
<line x1="45.99" y1="158.91" x2="45.99" y2="234.61" stroke="rgb(188,188,188)" stroke-width="0.5068744918185314" />
<line x1="47.10" y1="158.73" x2="47.10" y2="234.29" stroke="rgb(228,228,228)" stroke-width="0.8801197094947448" />
<line x1="47.81" y1="158.05" x2="47.81" y2="233.88" stroke="rgb(196,196,196)" stroke-width="0.9428205735512206" />
<line x1="48.56" y1="159.00" x2="48.56" y2="234.63" stroke="rgb(188,188,188)" stroke-width="0.6506733669100822" />
<line x1="49.08" y1="159.67" x2="49.08" y2="234.98" stroke="rgb(188,188,188)" stroke-width="0.6111476271420895" />
<line x1="49.57" y1="159.79" x2="49.57" y2="235.16" stroke="rgb(176,176,176)" stroke-width="0.5629230354976955" />
<line x1="50.02" y1="158.49" x2="50.02" y2="234.93" stroke="rgb(212,212,212)" stroke-width="0.6860100172460558" />
<line x1="50.57" y1="159.43" x2="50.57" y2="233.94" stroke="rgb(212,212,212)" stroke-width="0.9068381671692476" />
<line x1="51.29" y1="158.49" x2="51.29" y2="234.93" stroke="rgb(188,188,188)" stroke-width="0.9049564383933197" />
<line x1="31.96" y1="158.16" x2="31.96" y2="233.60" stroke="#555" stroke-width="0.5" />
<line x1="34.38" y1="158.90" x2="34.38" y2="231.79" stroke="#444" stroke-width="0.5" />
<line x1="35.43" y1="159.92" x2="35.43" y2="232.10" stroke="#777" stroke-width="0.5" />
<line x1="36.72" y1="158.56" x2="36.72" y2="233.83" stroke="#444" stroke-width="0.5" />
<line x1="39.01" y1="158.69" x2="39.01" y2="231.45" stroke="#333" stroke-width="0.5" />
<line x1="40.84" y1="159.70" x2="40.84" y2="232.63" stroke="#666" stroke-width="0.5" />
<line x1="42.31" y1="159.14" x2="42.31" y2="231.12" stroke="#666" stroke-width="0.5" />
<line x1="43.56" y1="158.01" x2="43.56" y2="234.30" stroke="#777" stroke-width="0.5" />
<line x1="46.14" y1="158.87" x2="46.14" y2="234.33" stroke="#555" stroke-width="0.5" />
<line x1="47.19" y1="158.91" x2="47.19" y2="233.64" stroke="#777" stroke-width="0.5" />
<line x1="49.73" y1="159.09" x2="49.73" y2="234.11" stroke="#444" stroke-width="0.5" />
<line x1="54.00" y1="158.70" x2="54.00" y2="235.07" stroke="rgb(220,220,220)" stroke-width="0.986115127404931" />
<line x1="54.79" y1="160.58" x2="54.79" y2="234.61" stroke="rgb(204,204,204)" stroke-width="1.0379402989904292" />
<line x1="56.39" y1="158.64" x2="56.39" y2="234.55" stroke="rgb(196,196,196)" stroke-width="0.6434277236293082" />
<line x1="57.76" y1="160.50" x2="57.76" y2="234.47" stroke="rgb(212,212,212)" stroke-width="0.6514849065482187" />
<line x1="58.28" y1="158.87" x2="58.28" y2="235.04" stroke="rgb(188,188,188)" stroke-width="0.6324819037199035" />
<line x1="58.79" y1="160.63" x2="58.79" y2="234.93" stroke="rgb(204,204,204)" stroke-width="0.9750031513292738" />
<line x1="59.57" y1="159.86" x2="59.57" y2="234.36" stroke="rgb(228,228,228)" stroke-width="0.7925008056846583" />
<line x1="60.20" y1="159.76" x2="60.20" y2="234.39" stroke="rgb(204,204,204)" stroke-width="0.6611516667220999" />
<line x1="60.73" y1="160.31" x2="60.73" y2="233.86" stroke="rgb(228,228,228)" stroke-width="1.0142134653992962" />
<line x1="62.94" y1="159.29" x2="62.94" y2="234.29" stroke="rgb(160,160,160)" stroke-width="0.6895377464162186" />
<line x1="63.49" y1="159.02" x2="63.49" y2="234.26" stroke="rgb(196,196,196)" stroke-width="0.7165007513683906" />
<line x1="64.07" y1="160.19" x2="64.07" y2="234.91" stroke="rgb(140,140,140)" stroke-width="0.5020933511080272" />
<line x1="64.47" y1="159.93" x2="64.47" y2="234.90" stroke="rgb(228,228,228)" stroke-width="0.7239647453761899" />
<line x1="65.05" y1="159.55" x2="65.05" y2="234.32" stroke="rgb(228,228,228)" stroke-width="0.8737559060150548" />
<line x1="65.75" y1="160.13" x2="65.75" y2="234.45" stroke="rgb(188,188,188)" stroke-width="0.7523083386583136" />
<line x1="66.35" y1="159.90" x2="66.35" y2="234.92" stroke="rgb(140,140,140)" stroke-width="0.6620544583879522" />
<line x1="66.88" y1="160.66" x2="66.88" y2="234.32" stroke="rgb(212,212,212)" stroke-width="1.0278015719119955" />
<line x1="67.70" y1="160.12" x2="67.70" y2="235.11" stroke="rgb(196,196,196)" stroke-width="0.5728705829269135" />
<line x1="68.16" y1="160.07" x2="68.16" y2="234.83" stroke="rgb(140,140,140)" stroke-width="0.9754816310544143" />
<line x1="68.94" y1="160.18" x2="68.94" y2="234.46" stroke="rgb(220,220,220)" stroke-width="0.9869724791694825" />
<line x1="69.73" y1="158.80" x2="69.73" y2="233.94" stroke="rgb(176,176,176)" stroke-width="0.5265877166116524" />
<line x1="70.15" y1="159.35" x2="70.15" y2="234.99" stroke="rgb(212,212,212)" stroke-width="0.99166788022289" />
<line x1="71.40" y1="160.36" x2="71.40" y2="233.85" stroke="rgb(196,196,196)" stroke-width="0.8474458514126335" />
<line x1="72.08" y1="159.12" x2="72.08" y2="234.58" stroke="rgb(140,140,140)" stroke-width="0.817404119887164" />
<line x1="73.41" y1="159.13" x2="73.41" y2="234.05" stroke="rgb(212,212,212)" stroke-width="0.996835598695298" />
<line x1="54.25" y1="159.83" x2="54.25" y2="233.64" stroke="#666" stroke-width="0.5" />
<line x1="55.65" y1="159.80" x2="55.65" y2="234.29" stroke="#777" stroke-width="0.5" />
<line x1="57.32" y1="158.77" x2="57.32" y2="232.75" stroke="#666" stroke-width="0.5" />
<line x1="59.67" y1="160.53" x2="59.67" y2="232.45" stroke="#777" stroke-width="0.5" />
<line x1="61.88" y1="159.95" x2="61.88" y2="232.81" stroke="#666" stroke-width="0.5" />
<line x1="63.13" y1="159.40" x2="63.13" y2="234.11" stroke="#555" stroke-width="0.5" />
<line x1="64.29" y1="160.10" x2="64.29" y2="234.21" stroke="#777" stroke-width="0.5" />
<line x1="66.81" y1="159.77" x2="66.81" y2="234.00" stroke="#555" stroke-width="0.5" />
<line x1="68.24" y1="159.00" x2="68.24" y2="233.05" stroke="#333" stroke-width="0.5" />
<line x1="70.73" y1="160.30" x2="70.73" y2="232.88" stroke="#333" stroke-width="0.5" />
<line x1="72.81" y1="160.31" x2="72.81" y2="233.08" stroke="#777" stroke-width="0.5" />
<line x1="74.80" y1="158.19" x2="74.80" y2="234.93" stroke="rgb(204,204,204)" stroke-width="0.6843363926848386" />
<line x1="75.35" y1="158.66" x2="75.35" y2="235.01" stroke="rgb(188,188,188)" stroke-width="0.6432952030988432" />
<line x1="75.86" y1="158.05" x2="75.86" y2="234.61" stroke="rgb(160,160,160)" stroke-width="0.920893229241672" />
<line x1="76.60" y1="159.78" x2="76.60" y2="233.90" stroke="rgb(140,140,140)" stroke-width="0.516662130421248" />
<line x1="77.01" y1="158.11" x2="77.01" y2="234.13" stroke="rgb(228,228,228)" stroke-width="0.7804371248672582" />
<line x1="77.64" y1="159.48" x2="77.64" y2="234.14" stroke="rgb(220,220,220)" stroke-width="1.0752288172425561" />
<line x1="78.50" y1="158.97" x2="78.50" y2="234.75" stroke="rgb(196,196,196)" stroke-width="0.5824878522180873" />
<line x1="79.83" y1="158.53" x2="79.83" y2="234.82" stroke="rgb(228,228,228)" stroke-width="0.6880500548329967" />
<line x1="80.83" y1="158.60" x2="80.83" y2="234.83" stroke="rgb(196,196,196)" stroke-width="0.521675317093705" />
<line x1="81.24" y1="158.56" x2="81.24" y2="234.48" stroke="rgb(228,228,228)" stroke-width="0.7008811622774733" />
<line x1="81.80" y1="158.80" x2="81.80" y2="233.97" stroke="rgb(160,160,160)" stroke-width="0.7345519995335881" />
<line x1="82.39" y1="159.55" x2="82.39" y2="235.07" stroke="rgb(176,176,176)" stroke-width="0.5675174032379057" />
<line x1="83.72" y1="158.25" x2="83.72" y2="234.75" stroke="rgb(188,188,188)" stroke-width="0.9543939968216945" />
<line x1="84.48" y1="159.68" x2="84.48" y2="234.27" stroke="rgb(196,196,196)" stroke-width="0.5642995272019045" />
<line x1="84.93" y1="158.69" x2="84.93" y2="234.29" stroke="rgb(140,140,140)" stroke-width="0.5679776310930357" />
<line x1="85.39" y1="159.21" x2="85.39" y2="234.01" stroke="rgb(212,212,212)" stroke-width="0.8875006302252463" />
<line x1="86.10" y1="159.65" x2="86.10" y2="234.00" stroke="rgb(160,160,160)" stroke-width="0.5738784928987137" />
<line x1="86.56" y1="159.02" x2="86.56" y2="234.44" stroke="rgb(176,176,176)" stroke-width="0.8329542963232084" />
<line x1="87.22" y1="157.84" x2="87.22" y2="234.05" stroke="rgb(212,212,212)" stroke-width="0.923280276664777" />
<line x1="87.96" y1="158.18" x2="87.96" y2="234.34" stroke="rgb(176,176,176)" stroke-width="0.7155334074788748" />
<line x1="88.53" y1="158.20" x2="88.53" y2="234.77" stroke="rgb(228,228,228)" stroke-width="0.7872193969996801" />
<line x1="89.16" y1="158.59" x2="89.16" y2="234.93" stroke="rgb(188,188,188)" stroke-width="1.0670260104686269" />
<line x1="90.66" y1="157.82" x2="90.66" y2="233.96" stroke="rgb(212,212,212)" stroke-width="0.6622925084387608" />
<line x1="91.19" y1="158.02" x2="91.19" y2="234.38" stroke="rgb(220,220,220)" stroke-width="0.6109075577475436" />
<line x1="91.68" y1="157.92" x2="91.68" y2="234.36" stroke="rgb(212,212,212)" stroke-width="0.8551497784609827" />
<line x1="92.37" y1="157.99" x2="92.37" y2="235.02" stroke="rgb(140,140,140)" stroke-width="0.6021987865941295" />
<line x1="92.85" y1="159.37" x2="92.85" y2="235.05" stroke="rgb(196,196,196)" stroke-width="0.5180524729592971" />
<line x1="93.26" y1="159.59" x2="93.26" y2="234.23" stroke="rgb(176,176,176)" stroke-width="0.6895684997108864" />
<line x1="93.82" y1="158.26" x2="93.82" y2="235.00" stroke="rgb(140,140,140)" stroke-width="0.911978081048769" />
<line x1="94.55" y1="157.61" x2="94.55" y2="234.88" stroke="rgb(204,204,204)" stroke-width="0.9361006303163171" />
<line x1="95.29" y1="158.98" x2="95.29" y2="234.08" stroke="rgb(160,160,160)" stroke-width="0.6038647242947206" />
<line x1="95.78" y1="158.70" x2="95.78" y2="234.70" stroke="rgb(204,204,204)" stroke-width="0.5222373581501369" />
<line x1="96.19" y1="159.56" x2="96.19" y2="233.99" stroke="rgb(196,196,196)" stroke-width="1.075413127202589" />
<line x1="97.06" y1="158.96" x2="97.06" y2="234.51" stroke="rgb(228,228,228)" stroke-width="0.5153102697129592" />
<line x1="97.47" y1="158.31" x2="97.47" y2="235.02" stroke="rgb(228,228,228)" stroke-width="1.05789354446368" />
<line x1="98.31" y1="159.45" x2="98.31" y2="234.89" stroke="rgb(212,212,212)" stroke-width="0.5483088636023903" />
<line x1="99.19" y1="159.50" x2="99.19" y2="234.41" stroke="rgb(204,204,204)" stroke-width="1.0590439784378003" />
<line x1="100.04" y1="159.33" x2="100.04" y2="234.37" stroke="rgb(160,160,160)" stroke-width="0.6894860600342846" />
<line x1="100.59" y1="158.64" x2="100.59" y2="233.90" stroke="rgb(212,212,212)" stroke-width="0.7348965085915031" />
<line x1="101.18" y1="158.27" x2="101.18" y2="234.45" stroke="rgb(204,204,204)" stroke-width="0.889545362393642" />
<line x1="101.89" y1="158.60" x2="101.89" y2="233.85" stroke="rgb(176,176,176)" stroke-width="0.7630234115448105" />
<line x1="102.50" y1="158.40" x2="102.50" y2="234.36" stroke="rgb(188,188,188)" stroke-width="0.768647232037773" />
<line x1="103.12" y1="158.41" x2="103.12" y2="235.00" stroke="rgb(204,204,204)" stroke-width="0.6552040075503898" />
<line x1="103.64" y1="157.98" x2="103.64" y2="234.37" stroke="rgb(212,212,212)" stroke-width="0.6255724520484822" />
<line x1="104.14" y1="158.94" x2="104.14" y2="234.42" stroke="rgb(228,228,228)" stroke-width="0.5835553040060522" />
<line x1="104.61" y1="158.30" x2="104.61" y2="233.85" stroke="rgb(228,228,228)" stroke-width="0.741864628112419" />
<line x1="105.20" y1="158.47" x2="105.20" y2="233.84" stroke="rgb(204,204,204)" stroke-width="0.7419819371661663" />
<line x1="105.79" y1="158.46" x2="105.79" y2="234.07" stroke="rgb(204,204,204)" stroke-width="0.6449376617115923" />
<line x1="106.31" y1="157.87" x2="106.31" y2="233.87" stroke="rgb(220,220,220)" stroke-width="0.7078154530198331" />
<line x1="106.88" y1="159.67" x2="106.88" y2="234.90" stroke="rgb(196,196,196)" stroke-width="1.088772504573342" />
<line x1="107.75" y1="158.18" x2="107.75" y2="234.94" stroke="rgb(160,160,160)" stroke-width="0.6499836633851636" />
<line x1="108.27" y1="157.72" x2="108.27" y2="234.41" stroke="rgb(188,188,188)" stroke-width="0.6902265776412899" />
<line x1="109.53" y1="158.71" x2="109.53" y2="234.47" stroke="rgb(220,220,220)" stroke-width="0.5114448391065028" />
<line x1="109.94" y1="158.04" x2="109.94" y2="235.16" stroke="rgb(140,140,140)" stroke-width="1.0401805087830591" />
<line x1="110.77" y1="159.67" x2="110.77" y2="233.85" stroke="rgb(160,160,160)" stroke-width="1.050425371609069" />
<line x1="75.10" y1="158.81" x2="75.10" y2="234.31" stroke="#444" stroke-width="0.5" />
<line x1="77.62" y1="157.97" x2="77.62" y2="232.45" stroke="#777" stroke-width="0.5" />
<line x1="79.24" y1="158.27" x2="79.24" y2="233.38" stroke="#666" stroke-width="0.5" />
<line x1="80.52" y1="159.08" x2="80.52" y2="233.57" stroke="#777" stroke-width="0.5" />
<line x1="82.10" y1="157.97" x2="82.10" y2="233.81" stroke="#666" stroke-width="0.5" />
<line x1="83.47" y1="159.16" x2="83.47" y2="232.68" stroke="#333" stroke-width="0.5" />
<line x1="85.78" y1="158.61" x2="85.78" y2="233.63" stroke="#666" stroke-width="0.5" />
<line x1="88.30" y1="157.69" x2="88.30" y2="231.60" stroke="#444" stroke-width="0.5" />
<line x1="90.61" y1="157.78" x2="90.61" y2="233.42" stroke="#444" stroke-width="0.5" />
<line x1="92.13" y1="158.80" x2="92.13" y2="233.80" stroke="#444" stroke-width="0.5" />
<line x1="94.53" y1="159.34" x2="94.53" y2="232.57" stroke="#333" stroke-width="0.5" />
<line x1="97.13" y1="157.60" x2="97.13" y2="231.68" stroke="#444" stroke-width="0.5" />
<line x1="98.67" y1="158.22" x2="98.67" y2="232.58" stroke="#555" stroke-width="0.5" />
<line x1="100.05" y1="157.70" x2="100.05" y2="231.53" stroke="#555" stroke-width="0.5" />
<line x1="101.99" y1="157.62" x2="101.99" y2="231.80" stroke="#555" stroke-width="0.5" />
<line x1="103.34" y1="158.72" x2="103.34" y2="232.47" stroke="#777" stroke-width="0.5" />
<line x1="104.85" y1="159.37" x2="104.85" y2="233.74" stroke="#666" stroke-width="0.5" />
<line x1="106.14" y1="157.76" x2="106.14" y2="233.89" stroke="#444" stroke-width="0.5" />
<line x1="108.09" y1="159.32" x2="108.09" y2="231.35" stroke="#333" stroke-width="0.5" />
<line x1="109.23" y1="158.53" x2="109.23" y2="231.78" stroke="#777" stroke-width="0.5" />
<line x1="110.41" y1="158.57" x2="110.41" y2="233.34" stroke="#333" stroke-width="0.5" />
<line x1="111.00" y1="161.88" x2="111.00" y2="234.42" stroke="rgb(220,220,220)" stroke-width="0.6751198567541489" />
<line x1="111.54" y1="160.82" x2="111.54" y2="234.82" stroke="rgb(220,220,220)" stroke-width="0.8235092312435283" />
<line x1="112.77" y1="161.31" x2="112.77" y2="234.31" stroke="rgb(220,220,220)" stroke-width="1.0543589750798157" />
<line x1="113.62" y1="160.27" x2="113.62" y2="234.29" stroke="rgb(220,220,220)" stroke-width="0.8635215827168212" />
<line x1="114.31" y1="160.77" x2="114.31" y2="234.15" stroke="rgb(188,188,188)" stroke-width="0.6416843269653454" />
<line x1="114.82" y1="161.72" x2="114.82" y2="235.18" stroke="rgb(204,204,204)" stroke-width="0.9358177626970459" />
<line x1="115.57" y1="160.61" x2="115.57" y2="234.07" stroke="rgb(140,140,140)" stroke-width="1.0115394208672936" />
<line x1="116.38" y1="161.50" x2="116.38" y2="234.37" stroke="rgb(176,176,176)" stroke-width="0.790514425458211" />
<line x1="117.01" y1="161.86" x2="117.01" y2="234.06" stroke="rgb(228,228,228)" stroke-width="0.675226220298474" />
<line x1="118.31" y1="160.84" x2="118.31" y2="234.07" stroke="rgb(140,140,140)" stroke-width="0.5368198393549826" />
<line x1="118.74" y1="160.56" x2="118.74" y2="234.84" stroke="rgb(160,160,160)" stroke-width="0.7594366939557708" />
<line x1="119.35" y1="160.78" x2="119.35" y2="235.07" stroke="rgb(196,196,196)" stroke-width="0.5857743670196607" />
<line x1="119.82" y1="161.48" x2="119.82" y2="234.78" stroke="rgb(204,204,204)" stroke-width="0.591926931533108" />
<line x1="120.29" y1="160.75" x2="120.29" y2="235.12" stroke="rgb(188,188,188)" stroke-width="1.0656897596777037" />
<line x1="121.14" y1="161.90" x2="121.14" y2="234.20" stroke="rgb(140,140,140)" stroke-width="0.633568051575337" />
<line x1="122.24" y1="161.85" x2="122.24" y2="234.53" stroke="rgb(196,196,196)" stroke-width="0.9485066409823444" />
<line x1="123.71" y1="159.91" x2="123.71" y2="234.09" stroke="rgb(228,228,228)" stroke-width="0.5994376418744506" />
<line x1="124.19" y1="161.92" x2="124.19" y2="234.31" stroke="rgb(160,160,160)" stroke-width="0.7129367782739832" />
<line x1="124.76" y1="159.83" x2="124.76" y2="234.41" stroke="rgb(160,160,160)" stroke-width="0.6110235880557029" />
<line x1="125.25" y1="161.58" x2="125.25" y2="234.43" stroke="rgb(228,228,228)" stroke-width="0.8620920637816891" />
<line x1="125.94" y1="160.37" x2="125.94" y2="233.86" stroke="rgb(160,160,160)" stroke-width="0.7509311753044731" />
<line x1="126.54" y1="161.58" x2="126.54" y2="234.15" stroke="rgb(212,212,212)" stroke-width="1.0475313503803891" />
<line x1="127.38" y1="161.63" x2="127.38" y2="234.57" stroke="rgb(176,176,176)" stroke-width="0.8052981127079224" />
<line x1="128.02" y1="160.87" x2="128.02" y2="233.88" stroke="rgb(212,212,212)" stroke-width="0.527217340545565" />
<line x1="128.44" y1="161.26" x2="128.44" y2="235.10" stroke="rgb(160,160,160)" stroke-width="0.7804921620538952" />
<line x1="129.07" y1="160.94" x2="129.07" y2="234.04" stroke="rgb(140,140,140)" stroke-width="0.748656544257945" />
<line x1="129.67" y1="161.00" x2="129.67" y2="234.37" stroke="rgb(212,212,212)" stroke-width="1.0952678896435417" />
<line x1="130.54" y1="160.36" x2="130.54" y2="234.20" stroke="rgb(160,160,160)" stroke-width="0.6670630058777908" />
<line x1="131.08" y1="159.88" x2="131.08" y2="234.48" stroke="rgb(188,188,188)" stroke-width="0.5837906294554401" />
<line x1="131.54" y1="161.15" x2="131.54" y2="233.84" stroke="rgb(160,160,160)" stroke-width="1.0587955277510122" />
<line x1="132.39" y1="160.08" x2="132.39" y2="234.90" stroke="rgb(140,140,140)" stroke-width="0.5696317307096148" />
<line x1="132.85" y1="161.27" x2="132.85" y2="234.32" stroke="rgb(196,196,196)" stroke-width="0.561474484660565" />
<line x1="133.30" y1="161.83" x2="133.30" y2="234.05" stroke="rgb(160,160,160)" stroke-width="0.6170522375913394" />
<line x1="133.79" y1="160.40" x2="133.79" y2="235.13" stroke="rgb(176,176,176)" stroke-width="0.6897177132187746" />
<line x1="134.34" y1="161.02" x2="134.34" y2="233.85" stroke="rgb(188,188,188)" stroke-width="0.8663392114305573" />
<line x1="135.03" y1="159.97" x2="135.03" y2="234.12" stroke="rgb(176,176,176)" stroke-width="1.088102632311145" />
<line x1="135.90" y1="160.05" x2="135.90" y2="234.69" stroke="rgb(220,220,220)" stroke-width="0.9189140492361028" />
<line x1="136.64" y1="161.94" x2="136.64" y2="234.77" stroke="rgb(228,228,228)" stroke-width="1.0652775270440977" />
<line x1="137.49" y1="160.44" x2="137.49" y2="234.58" stroke="rgb(160,160,160)" stroke-width="0.7770594206505858" />
<line x1="138.11" y1="160.12" x2="138.11" y2="235.07" stroke="rgb(160,160,160)" stroke-width="1.0745399318697002" />
<line x1="138.97" y1="161.22" x2="138.97" y2="234.00" stroke="rgb(160,160,160)" stroke-width="0.9047584849489043" />
<line x1="140.48" y1="160.09" x2="140.48" y2="234.01" stroke="rgb(204,204,204)" stroke-width="0.8891883842171422" />
<line x1="141.19" y1="160.64" x2="141.19" y2="233.95" stroke="rgb(212,212,212)" stroke-width="0.8208300182861232" />
<line x1="141.84" y1="160.09" x2="141.84" y2="234.00" stroke="rgb(228,228,228)" stroke-width="0.6684606124660939" />
<line x1="142.38" y1="161.13" x2="142.38" y2="235.11" stroke="rgb(188,188,188)" stroke-width="1.0627348270191137" />
<line x1="143.81" y1="160.58" x2="143.81" y2="235.13" stroke="rgb(160,160,160)" stroke-width="0.6475682738317208" />
<line x1="144.33" y1="161.43" x2="144.33" y2="234.54" stroke="rgb(188,188,188)" stroke-width="0.7836319447517799" />
<line x1="144.96" y1="160.82" x2="144.96" y2="234.55" stroke="rgb(160,160,160)" stroke-width="0.8413215864035487" />
<line x1="145.63" y1="160.64" x2="145.63" y2="234.86" stroke="rgb(140,140,140)" stroke-width="0.7737495549007192" />
<line x1="146.25" y1="161.69" x2="146.25" y2="235.14" stroke="rgb(212,212,212)" stroke-width="0.6804413510715234" />
<line x1="146.80" y1="161.13" x2="146.80" y2="233.88" stroke="rgb(204,204,204)" stroke-width="0.5782348828899744" />
<line x1="147.26" y1="159.83" x2="147.26" y2="235.02" stroke="rgb(212,212,212)" stroke-width="0.5687412198188934" />
<line x1="147.71" y1="161.49" x2="147.71" y2="233.93" stroke="rgb(188,188,188)" stroke-width="0.8151393116877235" />
<line x1="148.37" y1="161.10" x2="148.37" y2="234.11" stroke="rgb(160,160,160)" stroke-width="0.6955128050431818" />
<line x1="148.92" y1="161.10" x2="148.92" y2="234.78" stroke="rgb(188,188,188)" stroke-width="0.8820318191563854" />
<line x1="149.63" y1="161.64" x2="149.63" y2="234.20" stroke="rgb(188,188,188)" stroke-width="1.0173116610516888" />
<line x1="150.44" y1="161.12" x2="150.44" y2="234.11" stroke="rgb(196,196,196)" stroke-width="0.6094181915663741" />
<line x1="150.93" y1="161.93" x2="150.93" y2="234.43" stroke="rgb(204,204,204)" stroke-width="0.6694354449274098" />
<line x1="111.48" y1="160.86" x2="111.48" y2="234.06" stroke="#777" stroke-width="0.5" />
<line x1="113.32" y1="160.68" x2="113.32" y2="233.16" stroke="#444" stroke-width="0.5" />
<line x1="114.99" y1="160.90" x2="114.99" y2="233.14" stroke="#333" stroke-width="0.5" />
<line x1="116.09" y1="161.51" x2="116.09" y2="232.34" stroke="#444" stroke-width="0.5" />
<line x1="117.67" y1="160.23" x2="117.67" y2="232.92" stroke="#444" stroke-width="0.5" />
<line x1="119.36" y1="161.53" x2="119.36" y2="233.49" stroke="#333" stroke-width="0.5" />
<line x1="120.38" y1="160.54" x2="120.38" y2="232.30" stroke="#666" stroke-width="0.5" />
<line x1="121.98" y1="161.10" x2="121.98" y2="234.06" stroke="#777" stroke-width="0.5" />
<line x1="123.77" y1="160.45" x2="123.77" y2="231.00" stroke="#444" stroke-width="0.5" />
<line x1="125.75" y1="160.08" x2="125.75" y2="231.29" stroke="#333" stroke-width="0.5" />
<line x1="127.45" y1="160.19" x2="127.45" y2="231.10" stroke="#333" stroke-width="0.5" />
<line x1="129.30" y1="161.27" x2="129.30" y2="233.90" stroke="#555" stroke-width="0.5" />
<line x1="131.01" y1="161.16" x2="131.01" y2="231.42" stroke="#666" stroke-width="0.5" />
<line x1="132.37" y1="160.08" x2="132.37" y2="232.07" stroke="#777" stroke-width="0.5" />
<line x1="133.67" y1="161.45" x2="133.67" y2="233.10" stroke="#444" stroke-width="0.5" />
<line x1="135.36" y1="161.39" x2="135.36" y2="232.34" stroke="#666" stroke-width="0.5" />
<line x1="137.70" y1="160.17" x2="137.70" y2="231.96" stroke="#666" stroke-width="0.5" />
<line x1="139.02" y1="161.07" x2="139.02" y2="233.05" stroke="#333" stroke-width="0.5" />
<line x1="140.72" y1="159.99" x2="140.72" y2="234.43" stroke="#444" stroke-width="0.5" />
<line x1="141.82" y1="161.55" x2="141.82" y2="233.61" stroke="#333" stroke-width="0.5" />
<line x1="142.93" y1="159.82" x2="142.93" y2="232.68" stroke="#666" stroke-width="0.5" />
<line x1="144.94" y1="159.99" x2="144.94" y2="233.31" stroke="#666" stroke-width="0.5" />
<line x1="147.35" y1="160.25" x2="147.35" y2="232.13" stroke="#666" stroke-width="0.5" />
<line x1="149.88" y1="159.90" x2="149.88" y2="232.81" stroke="#777" stroke-width="0.5" />
<polyline points="30.50,224.88 30.85,225.09 31.20,225.44 31.55,226.53 31.90,226.16 32.25,224.23 32.60,224.63 32.95,228.35 33.30,224.59 33.65,224.15 34.00,225.57 34.35,226.19 34.70,225.77 35.05,224.95 35.40,223.80 35.75,225.00 36.10,224.15 36.45,226.79 36.80,227.13 37.15,224.14 37.50,225.24 37.85,224.56 38.20,226.39 38.55,225.73 38.90,225.03 39.25,225.97 39.60,225.83 39.95,224.75 40.30,226.44 40.65,222.97 41.00,227.08 41.35,226.96 41.70,224.69 42.05,225.76 42.40,225.42 42.75,225.58 43.10,224.22 43.45,225.31 43.80,226.54 44.15,223.63 44.50,226.34 44.85,225.69 45.20,224.77 45.55,225.74 45.90,225.30 46.25,226.16 46.60,224.96 46.95,224.36 47.30,225.89 47.65,225.80 48.00,223.97 48.35,225.80 48.70,225.35 49.05,227.01 49.40,225.65 49.75,226.90 50.10,224.77 50.45,224.87 50.80,225.31 51.15,224.20 51.50,223.86 51.85,224.94 52.20,224.48 52.55,224.44 52.90,227.12 53.25,225.97 53.60,226.11 53.95,224.31 54.30,224.54 54.65,224.89 55.00,226.65 55.35,224.31 55.70,225.66 56.05,227.30 56.40,226.31 56.75,225.21 57.10,226.56 57.45,225.26 57.80,226.06 58.15,226.88 58.50,224.35 58.85,226.81 59.20,224.85 59.55,225.04 59.90,223.19 60.25,224.92 60.60,223.94 60.95,225.49 61.30,226.08 61.65,224.39 62.00,223.85 62.35,225.37 62.70,225.63 63.05,224.64 63.40,226.85 63.75,226.33 64.10,224.42 64.45,225.00 64.80,227.08 65.15,223.87 65.50,222.13 65.85,224.45 66.20,226.24 66.55,223.73 66.90,225.26 67.25,225.46 67.60,224.52 67.95,223.68 68.30,224.56 68.65,226.31 69.00,224.54 69.35,224.96 69.70,224.84 70.05,223.96 70.40,224.90 70.75,225.65 71.10,224.39 71.45,224.98 71.80,225.19 72.15,224.63 72.50,224.73 72.85,225.75 73.20,224.09 73.55,226.09 73.90,225.59 74.25,225.53 74.60,224.57 74.95,225.38 75.30,224.63 75.65,225.28 76.00,226.40 76.35,226.11 76.70,227.26 77.05,224.27 77.40,224.20 77.75,225.19 78.10,226.11 78.45,225.66 78.80,224.27 79.15,227.71 79.50,227.28 79.85,227.10 80.20,224.14 80.55,225.47 80.90,225.08 81.25,228.11 81.60,225.86 81.95,226.62 82.30,224.57 82.65,225.25 83.00,225.84 83.35,228.45 83.70,225.75 84.05,223.57 84.40,225.71 84.75,225.01 85.10,224.77 85.45,223.54 85.80,225.49 86.15,226.50 86.50,226.27 86.85,225.14 87.20,225.35 87.55,224.64 87.90,224.87 88.25,224.54 88.60,224.24 88.95,225.24 89.30,226.55 89.65,223.98 90.00,223.62 90.35,225.26 90.70,223.51 91.05,226.17 91.40,225.24 91.75,226.68 92.10,224.36 92.45,224.74 92.80,225.94 93.15,225.49 93.50,224.82 93.85,224.71 94.20,225.37 94.55,224.00 94.90,227.34 95.25,224.68 95.60,225.15 95.95,224.25 96.30,226.65 96.65,225.68 97.00,225.23 97.35,222.82 97.70,225.49 98.05,225.92 98.40,227.09 98.75,225.08 99.10,223.51 99.45,225.47 99.80,226.11 100.15,226.41 100.50,224.57 100.85,223.99 101.20,225.62 101.55,225.81 101.90,223.68 102.25,223.69 102.60,225.38 102.95,225.40 103.30,226.97 103.65,226.26 104.00,224.36 104.35,226.07 104.70,226.81 105.05,225.24 105.40,225.16 105.75,227.00 106.10,226.19 106.45,225.31 106.80,225.09 107.15,224.66 107.50,226.60 107.85,225.57 108.20,223.92 108.55,227.89 108.90,226.89 109.25,226.48 109.60,223.78 109.95,226.58 110.30,223.76 110.65,225.85 111.00,224.94 111.35,226.00 111.70,223.41 112.05,225.88 112.40,224.85 112.75,225.96 113.10,224.87 113.45,225.55 113.80,224.72 114.15,226.61 114.50,223.88 114.85,224.88 115.20,225.24 115.55,225.54 115.90,226.29 116.25,225.47 116.60,225.77 116.95,226.65 117.30,225.12 117.65,227.15 118.00,224.00 118.35,224.34 118.70,225.18 119.05,223.97 119.40,224.45 119.75,225.72 120.10,227.11 120.45,226.05 120.80,224.80 121.15,225.30 121.50,226.60 121.85,224.65 122.20,224.46 122.55,224.47 122.90,228.32 123.25,228.37 123.60,225.82 123.95,226.21 124.30,225.86 124.65,225.30 125.00,224.04 125.35,225.30 125.70,225.34 126.05,227.80 126.40,225.16 126.75,225.39 127.10,225.19 127.45,225.32 127.80,224.73 128.15,223.16 128.50,225.59 128.85,225.11 129.20,224.88 129.55,224.46 129.90,224.38 130.25,225.46 130.60,225.10 130.95,225.85 131.30,224.97 131.65,224.96 132.00,225.62 132.35,225.23 132.70,226.00 133.05,225.14 133.40,226.87 133.75,226.21 134.10,223.45 134.45,224.94 134.80,223.75 135.15,225.22 135.50,226.73 135.85,226.12 136.20,222.49 136.55,225.08 136.90,225.71 137.25,225.32 137.60,224.18 137.95,223.05 138.30,223.77 138.65,226.12 139.00,224.28 139.35,224.89 139.70,223.84 140.05,225.62 140.40,226.22 140.75,225.47 141.10,225.24 141.45,224.45 141.80,224.46 142.15,225.44 142.50,224.30 142.85,226.54 143.20,225.19 143.55,222.54 143.90,224.57 144.25,225.41 144.60,225.10 144.95,225.63 145.30,225.40 145.65,226.75 146.00,224.67 146.35,224.77 146.70,225.51 147.05,225.75 147.40,225.86 147.75,226.47 148.10,225.23 148.45,227.58 148.80,224.38 149.15,224.90 149.50,225.01 149.85,225.43 150.20,225.10 150.55,223.48" fill="none" stroke="#111" stroke-width="0.7" stroke-linejoin="round" />
<polyline points="30.50,224.18 31.00,229.17 31.50,226.28 32.00,228.03 32.50,226.70 33.00,227.94 33.50,224.02 34.00,224.55 34.50,226.36 35.00,225.48 35.50,226.76 36.00,224.00 36.50,224.62 37.00,228.30 37.50,225.16 38.00,227.10 38.50,223.99 39.00,228.44 39.50,225.44 40.00,221.73 40.50,228.09 41.00,230.85 41.50,227.58 42.00,223.20 42.50,227.69 43.00,226.35 43.50,227.28 44.00,221.85 44.50,228.63 45.00,228.55 45.50,228.23 46.00,225.90 46.50,229.44 47.00,222.72 47.50,225.37 48.00,226.99 48.50,227.39 49.00,230.54 49.50,224.81 50.00,227.40 50.50,221.77 51.00,228.27 51.50,226.49 52.00,226.92 52.50,228.32 53.00,225.90 53.50,221.98 54.00,230.46 54.50,226.31 55.00,227.41 55.50,227.75 56.00,225.43 56.50,227.42 57.00,231.60 57.50,227.11 58.00,231.19 58.50,225.57 59.00,228.12 59.50,227.09 60.00,229.19 60.50,224.44 61.00,225.68 61.50,224.65 62.00,226.41 62.50,229.18 63.00,222.13 63.50,226.58 64.00,222.43 64.50,228.01 65.00,227.22 65.50,226.87 66.00,227.72 66.50,231.18 67.00,225.56 67.50,228.91 68.00,225.06 68.50,228.23 69.00,228.05 69.50,230.98 70.00,228.15 70.50,226.32 71.00,228.31 71.50,227.89 72.00,226.01 72.50,228.18 73.00,225.61 73.50,225.97 74.00,225.60 74.50,228.28 75.00,225.18 75.50,224.70 76.00,229.15 76.50,225.11 77.00,225.57 77.50,228.55 78.00,228.53 78.50,230.90 79.00,227.19 79.50,225.75 80.00,227.62 80.50,225.99 81.00,227.45 81.50,225.38 82.00,229.02 82.50,224.85 83.00,227.60 83.50,225.86 84.00,228.96 84.50,226.92 85.00,224.18 85.50,226.78 86.00,223.99 86.50,227.48 87.00,227.42 87.50,227.95 88.00,224.45 88.50,224.54 89.00,228.28 89.50,227.71 90.00,224.74 90.50,225.15 91.00,228.10 91.50,229.25 92.00,226.69 92.50,223.95 93.00,226.84 93.50,224.13 94.00,227.25 94.50,226.20 95.00,225.12 95.50,227.58 96.00,226.37 96.50,227.41 97.00,225.48 97.50,226.98 98.00,224.86 98.50,228.92 99.00,227.80 99.50,228.76 100.00,222.90 100.50,230.90 101.00,222.21 101.50,228.53 102.00,227.20 102.50,229.39 103.00,228.80 103.50,223.04 104.00,227.59 104.50,228.81 105.00,218.67 105.50,224.51 106.00,222.48 106.50,225.64 107.00,226.23 107.50,227.24 108.00,225.89 108.50,230.06 109.00,228.63 109.50,225.88 110.00,229.68 110.50,227.99 111.00,226.77 111.50,226.37 112.00,225.90 112.50,221.33 113.00,226.15 113.50,227.26 114.00,229.85 114.50,226.38 115.00,223.44 115.50,226.85 116.00,223.11 116.50,227.93 117.00,226.63 117.50,220.83 118.00,225.18 118.50,227.10 119.00,229.36 119.50,229.45 120.00,229.58 120.50,223.98 121.00,227.40 121.50,225.92 122.00,225.46 122.50,225.98 123.00,222.59 123.50,227.64 124.00,225.12 124.50,226.63 125.00,227.81 125.50,228.41 126.00,225.10 126.50,224.45 127.00,228.20 127.50,225.89 128.00,224.67 128.50,224.56 129.00,229.71 129.50,226.81 130.00,224.68 130.50,231.02 131.00,228.75 131.50,226.12 132.00,223.57 132.50,221.91 133.00,229.63 133.50,225.11 134.00,227.15 134.50,228.15 135.00,227.71 135.50,224.81 136.00,225.26 136.50,229.51 137.00,225.46 137.50,223.38 138.00,227.34 138.50,224.05 139.00,224.68 139.50,223.82 140.00,226.58 140.50,222.36 141.00,226.73 141.50,227.88 142.00,230.11 142.50,225.22 143.00,230.58 143.50,228.77 144.00,227.62 144.50,223.25 145.00,227.72 145.50,227.01 146.00,228.14 146.50,228.40 147.00,228.59 147.50,226.44 148.00,226.47 148.50,227.14 149.00,227.82 149.50,228.84 150.00,225.86 150.50,224.83" fill="none" stroke="#333" stroke-width="0.4" stroke-linejoin="round" opacity="0.7"/>
<rect x="74.7" y="149.2" width="35.8" height="89.4" fill="#b3d0ea" style="mix-blend-mode:multiply"/>
<text x="86.30" y="145.90" font-size="8.4" text-anchor="middle" font-weight="normal" fill="#29abe2" stroke="#29abe2" stroke-width="0.22" textLength="17.0" lengthAdjust="spacingAndGlyphs" >Light</text>
<line x1="35.00" y1="238.60" x2="53.30" y2="238.60" stroke="#231f20" stroke-width="1.3" />
<text x="38.70" y="246.50" font-size="7.8" text-anchor="start" font-weight="normal" fill="#231f20" stroke="#231f20" stroke-width="0.22" >5s</text>
<text x="11.30" y="423.00" font-size="12.6" text-anchor="start" font-weight="bold" fill="#231f20" stroke="#231f20" stroke-width="0.22" >k</text>
<rect x="56.00" y="437.00" width="7.30" height="91.60" fill="#c9e5c4" />
<rect x="140.90" y="437.00" width="7.30" height="91.60" fill="#c9e5c4" />
<text x="61.50" y="434.60" font-size="7.6" text-anchor="middle" font-weight="normal" fill="#4dbb63" stroke="#4dbb63" stroke-width="0.22" >Light</text>
<text x="146.80" y="434.60" font-size="7.6" text-anchor="middle" font-weight="normal" fill="#4dbb63" stroke="#4dbb63" stroke-width="0.22" >Light</text>
<polyline points="26.70,495.73 27.10,496.61 27.50,496.95 27.90,496.12 28.30,495.67 28.70,496.36 29.10,496.66 29.50,497.00 29.90,495.73 30.30,495.69 30.70,496.79 31.10,496.66 31.50,497.24 31.90,496.94 32.30,496.34 32.70,496.25 33.10,497.81 33.50,496.24 33.90,495.97 34.30,495.77 34.70,496.45 35.10,496.48 35.50,496.21 35.90,496.37 36.30,496.55 36.70,496.78 37.10,497.00 37.50,496.52 37.90,495.42 38.30,496.79 38.70,495.62 39.10,496.31 39.50,495.59 39.90,496.40 40.30,495.97 40.70,496.52 41.10,498.22 41.50,496.37 41.90,496.86 42.30,495.67 42.70,496.24 43.10,496.76 43.50,496.35 43.90,496.60 44.30,496.46 44.70,495.85 45.10,496.71 45.50,495.95 45.90,497.43 46.30,496.12 46.70,496.78 47.10,496.40 47.50,496.92 47.90,496.07 48.30,496.95 48.70,496.33 49.10,497.09 49.50,496.74 49.90,496.48 50.30,495.97 50.70,496.82 51.10,496.66 51.50,497.30 51.90,496.19 52.30,496.71 52.70,496.68 53.10,496.56 53.50,496.51 53.90,496.50 54.30,496.07 54.70,495.84 55.10,496.18 55.50,496.72 55.90,497.69 56.30,497.85 56.70,498.32 57.10,498.58 57.50,498.91 57.90,498.95 58.30,499.56 58.70,500.34 59.10,499.36 59.50,499.27 59.90,500.78 60.30,499.82 60.70,500.14 61.10,499.94 61.50,498.63 61.90,500.34 62.30,499.67 62.70,498.44 63.10,498.36 63.50,497.60 63.90,496.60 64.30,496.57 64.70,496.61 65.10,497.01 65.50,496.79 65.90,496.43 66.30,497.15 66.70,495.98 67.10,496.84 67.50,497.01 67.90,496.24 68.30,495.42 68.70,495.90 69.10,496.53 69.50,496.69 69.90,497.25 70.30,495.85 70.70,496.40 71.10,496.76 71.50,496.31 71.90,495.10 72.30,496.84 72.70,497.67 73.10,496.95 73.50,495.90 73.90,496.17 74.30,496.52 74.70,497.77 75.10,496.74 75.50,496.46 75.90,497.26 76.30,496.36 76.70,497.42 77.10,496.02 77.50,496.14 77.90,496.80 78.30,497.18 78.70,496.76 79.10,496.57 79.50,495.40 79.90,496.01 80.30,496.06 80.70,496.11 81.10,496.72 81.50,496.22 81.90,496.83 82.30,496.45 82.70,496.22 83.10,496.46 83.50,496.64 83.90,496.87 84.30,496.14 84.70,496.27 85.10,495.65 85.50,497.28 85.90,497.20 86.30,496.30 86.70,496.14 87.10,495.72 87.50,496.49 87.90,496.51 88.30,497.60 88.70,496.54 89.10,495.97 89.50,495.06 89.90,497.18 90.30,496.50 90.70,495.51 91.10,496.50 91.50,495.52 91.90,498.31 92.30,497.02 92.70,496.71 93.10,496.30 93.50,495.22 93.90,496.33 94.30,495.54 94.70,496.73 95.10,495.22 95.50,495.90 95.90,497.07 96.30,497.30 96.70,495.75 97.10,495.56 97.50,496.88 97.90,496.87 98.30,495.86 98.70,496.02 99.10,496.02 99.50,495.75 99.90,496.03 100.30,497.09 100.70,496.78 101.10,497.53 101.50,496.35 101.90,496.33 102.30,495.86 102.70,496.33 103.10,495.68 103.50,495.42 103.90,496.78 104.30,497.19 104.70,496.86 105.10,497.13 105.50,496.54 105.90,496.00 106.30,496.45 106.70,496.19 107.10,495.79 107.50,495.47 107.90,495.58 108.30,496.40 108.70,496.48 109.10,496.14 109.50,497.19 109.90,496.50 110.30,496.72 110.70,497.07 111.10,495.95 111.50,495.32 111.90,496.81 112.30,496.02 112.70,497.12 113.10,496.59 113.50,496.95 113.90,496.82 114.30,495.26 114.70,496.80 115.10,496.03 115.50,495.98 115.90,496.16 116.30,496.82 116.70,496.89 117.10,496.96 117.50,495.49 117.90,496.08 118.30,495.09 118.70,496.34 119.10,496.73 119.50,495.98 119.90,496.53 120.30,496.53 120.70,496.95 121.10,495.95 121.50,495.94 121.90,495.98 122.30,497.36 122.70,497.00 123.10,496.33 123.50,496.52 123.90,496.46 124.30,496.51 124.70,496.29 125.10,496.22 125.50,495.71 125.90,496.05 126.30,497.31 126.70,496.70 127.10,496.44 127.50,496.28 127.90,496.43 128.30,496.59 128.70,496.04 129.10,496.51 129.50,496.53 129.90,495.99 130.30,495.97 130.70,495.85 131.10,495.82 131.50,496.89 131.90,495.10 132.30,496.25 132.70,496.06 133.10,496.06 133.50,496.45 133.90,497.02 134.30,496.44 134.70,496.32 135.10,496.06 135.50,496.33 135.90,496.90 136.30,496.18 136.70,495.77 137.10,495.70 137.50,495.79 137.90,495.64 138.30,497.00 138.70,496.60 139.10,496.27 139.50,497.20 139.90,496.04 140.30,496.81 140.70,497.08 141.10,496.25 141.50,496.69 141.90,497.46 142.30,498.85 142.70,499.39 143.10,498.28 143.50,499.75 143.90,499.11 144.30,499.17 144.70,499.09 145.10,499.14 145.50,498.17 145.90,498.41 146.30,498.00 146.70,498.62 147.10,499.12 147.50,499.05 147.90,496.92 148.30,495.69 148.70,496.18 149.10,495.88 149.50,497.49 149.90,496.71 150.30,496.00 150.70,496.91 151.10,496.69 151.50,495.51 151.90,496.11 152.30,496.27 152.70,496.41 153.10,496.47 153.50,496.21 153.90,496.50 154.30,496.08 154.70,495.91 155.10,497.23 155.50,496.60 155.90,496.64 156.30,495.52 156.70,496.31 157.10,496.85 157.50,495.69 157.90,497.00 158.30,496.19 158.70,496.62 159.10,496.33 159.50,496.52 159.90,497.06 160.30,496.18 160.70,497.26 161.10,495.97 161.50,495.89 161.90,496.79 162.30,495.81 162.70,496.20 163.10,496.90 163.50,497.07 163.90,495.42 164.30,496.68 164.70,497.44 165.10,497.06 165.50,496.27 165.90,496.07 166.30,496.24 166.70,495.77 167.10,496.25 167.50,496.30 167.90,496.32 168.30,497.05 168.70,496.27 169.10,495.60 169.50,496.98 169.90,495.81 170.30,496.15 170.70,496.33 171.10,496.21 171.50,495.85 171.90,496.26 172.30,497.60 172.70,496.07 173.10,496.33 173.50,497.02 173.90,496.81 174.30,496.82 174.70,496.87 175.10,495.32 175.50,495.92 175.90,496.47 176.30,496.67 176.70,497.11 177.10,496.66 177.50,496.27 177.90,496.42 178.30,496.28 178.70,496.54 179.10,496.77 179.50,496.21 179.90,495.95 180.30,495.93 180.70,497.00 181.10,497.10 181.50,496.95 181.90,496.87" fill="none" stroke="#1a1a1a" stroke-width="0.9" stroke-linejoin="round" />
<line x1="34.10" y1="438.20" x2="34.10" y2="497.50" stroke="#bbb" stroke-width="0.7" />
<line x1="36.30" y1="438.20" x2="36.30" y2="497.50" stroke="#333" stroke-width="0.7" />
<line x1="69.70" y1="438.20" x2="69.70" y2="497.50" stroke="#222" stroke-width="0.7" />
<line x1="77.40" y1="438.20" x2="77.40" y2="497.50" stroke="#333" stroke-width="0.7" />
<line x1="93.70" y1="438.20" x2="93.70" y2="497.50" stroke="#999" stroke-width="0.7" />
<line x1="99.40" y1="438.20" x2="99.40" y2="497.50" stroke="#555" stroke-width="0.7" />
<line x1="100.30" y1="438.20" x2="100.30" y2="497.50" stroke="#333" stroke-width="0.7" />
<line x1="104.60" y1="438.20" x2="104.60" y2="497.50" stroke="#333" stroke-width="0.7" />
<line x1="134.40" y1="438.20" x2="134.40" y2="497.50" stroke="#333" stroke-width="0.7" />
<line x1="156.60" y1="438.20" x2="156.60" y2="497.50" stroke="#444" stroke-width="0.7" />
<line x1="165.30" y1="438.20" x2="165.30" y2="497.50" stroke="#333" stroke-width="0.7" />
<line x1="26.5" y1="496.4" x2="182.5" y2="496.4" stroke="#ec1c24" stroke-width="1.35" stroke-dasharray="5.8,2.2"/>
<line x1="52" y1="501.4" x2="69" y2="501.4" stroke="#ec1c24" stroke-width="1.35" stroke-dasharray="5.8,2.2"/>
<line x1="134.3" y1="501.4" x2="151.7" y2="501.4" stroke="#ec1c24" stroke-width="1.35" stroke-dasharray="5.8,2.2"/>
<text x="70.30" y="506.60" font-size="7" text-anchor="start" font-weight="normal" fill="#333" stroke="#333" stroke-width="0.22" textLength="27.6" lengthAdjust="spacingAndGlyphs" >-57.59mV</text>
<text x="151.70" y="506.00" font-size="7" text-anchor="start" font-weight="normal" fill="#333" stroke="#333" stroke-width="0.22" textLength="27.0" lengthAdjust="spacingAndGlyphs" >-55.11mV</text>
<path d="M28.00,518.48 L28.40,518.67 L28.80,519.18 L29.20,518.60 L29.60,519.28 L30.00,517.91 L30.40,518.37 L30.80,518.18 L31.20,518.77 L31.60,517.40 L32.00,518.85 L32.40,517.12 L32.80,515.54 L33.20,519.02 L33.60,517.63 L34.00,518.90 L34.40,518.40 L34.80,518.85 L35.20,518.44 L35.60,519.32 L36.00,517.19 L36.40,519.29 L36.80,519.33 L37.20,519.37 L37.60,519.01 L38.00,519.21 L38.40,518.98 L38.80,519.14 L39.20,518.72 L39.60,516.57 L40.00,519.18 L40.40,518.37 L40.80,518.96 L41.20,518.31 L41.60,519.29 L42.00,519.29 L42.40,517.38 L42.80,518.30 L43.20,518.28 L43.60,518.78 L44.00,519.38 L44.40,518.17 L44.80,517.30 L45.20,518.59 L45.60,518.64 L46.00,519.18 L46.40,516.98 L46.80,517.49 L47.20,518.37 L47.60,518.03 L48.00,517.63 L48.40,518.28 L48.80,518.99 L49.20,518.36 L49.60,519.33 L50.00,518.22 L50.40,516.77 L50.80,518.54 L51.20,518.20 L51.60,519.17 L52.00,519.40 L52.40,517.62 L52.80,519.37 L53.20,518.20 L53.60,518.29 L54.00,519.17 L54.40,519.05 L54.80,517.01 L55.20,518.99 L55.60,519.11 L56.00,519.11 L56.40,518.10 L56.80,516.68 L57.20,516.22 L57.60,515.01 L58.00,514.02 L58.40,513.95 L58.80,512.84 L59.20,511.98 L59.60,510.53 L60.00,509.71 L60.40,508.93 L60.80,510.37 L61.20,510.30 L61.60,509.33 L62.00,509.69 L62.40,511.16 L62.80,511.57 L63.20,510.79 L63.60,511.24 L64.00,511.96 L64.40,512.63 L64.80,512.69 L65.20,514.54 L65.60,515.38 L66.00,515.35 L66.40,516.28 L66.80,516.90 L67.20,516.74 L67.60,517.36 L68.00,517.27 L68.40,516.71 L68.80,518.18 L69.20,517.57 L69.60,516.99 L70.00,517.13 L70.40,518.06 L70.80,517.52 L71.20,518.05 L71.60,518.25 L72.00,515.95 L72.40,517.93 L72.80,519.02 L73.20,518.01 L73.60,518.83 L74.00,519.11 L74.40,518.39 L74.80,518.78 L75.20,518.38 L75.60,518.32 L76.00,517.21 L76.40,519.07 L76.80,517.90 L77.20,518.59 L77.60,518.96 L78.00,518.37 L78.40,516.64 L78.80,518.13 L79.20,516.89 L79.60,518.91 L80.00,518.09 L80.40,519.16 L80.80,518.89 L81.20,518.53 L81.60,518.96 L82.00,517.81 L82.40,518.93 L82.80,517.72 L83.20,518.80 L83.60,518.01 L84.00,518.99 L84.40,518.01 L84.80,518.12 L85.20,518.79 L85.60,518.51 L86.00,518.39 L86.40,518.47 L86.80,518.36 L87.20,518.62 L87.60,518.73 L88.00,518.07 L88.40,518.09 L88.80,518.19 L89.20,517.74 L89.60,518.79 L90.00,519.21 L90.40,519.01 L90.80,519.07 L91.20,519.02 L91.60,518.84 L92.00,519.17 L92.40,517.05 L92.80,518.61 L93.20,517.97 L93.60,518.73 L94.00,517.56 L94.40,519.15 L94.80,518.78 L95.20,519.07 L95.60,519.35 L96.00,517.70 L96.40,518.82 L96.80,517.95 L97.20,517.81 L97.60,517.41 L98.00,518.99 L98.40,519.14 L98.80,518.31 L99.20,519.10 L99.60,516.03 L100.00,518.93 L100.40,518.29 L100.80,516.59 L101.20,519.06 L101.60,518.35 L102.00,518.72 L102.40,518.93 L102.80,518.19 L103.20,519.28 L103.60,518.69 L104.00,517.66 L104.40,518.96 L104.80,518.58 L105.20,517.76 L105.60,518.12 L106.00,518.25 L106.40,517.11 L106.80,518.88 L107.20,518.59 L107.60,519.32 L108.00,518.58 L108.40,518.37 L108.80,519.17 L109.20,516.09 L109.60,518.72 L110.00,519.32 L110.40,517.98 L110.80,517.94 L111.20,518.86 L111.60,518.63 L112.00,518.43 L112.40,516.77 L112.80,518.05 L113.20,517.87 L113.60,519.38 L114.00,517.72 L114.40,518.97 L114.80,518.91 L115.20,519.25 L115.60,519.00 L116.00,518.67 L116.40,518.29 L116.80,519.16 L117.20,518.73 L117.60,519.04 L118.00,517.66 L118.40,518.52 L118.80,518.97 L119.20,519.04 L119.60,518.11 L120.00,518.72 L120.40,518.72 L120.80,517.99 L121.20,519.32 L121.60,518.62 L122.00,518.92 L122.40,519.18 L122.80,518.69 L123.20,518.79 L123.60,518.44 L124.00,518.45 L124.40,518.38 L124.80,518.67 L125.20,518.42 L125.60,518.92 L126.00,518.43 L126.40,518.97 L126.80,519.02 L127.20,517.85 L127.60,518.39 L128.00,518.14 L128.40,518.98 L128.80,518.93 L129.20,519.16 L129.60,518.84 L130.00,519.28 L130.40,517.37 L130.80,518.75 L131.20,519.30 L131.60,518.40 L132.00,519.18 L132.40,518.13 L132.80,519.29 L133.20,518.07 L133.60,518.74 L134.00,519.29 L134.40,518.05 L134.80,517.83 L135.20,518.61 L135.60,518.36 L136.00,518.05 L136.40,519.29 L136.80,517.36 L137.20,516.90 L137.60,518.88 L138.00,518.99 L138.40,518.61 L138.80,517.18 L139.20,518.46 L139.60,517.32 L140.00,517.61 L140.40,519.02 L140.80,518.88 L141.20,516.79 L141.60,516.63 L142.00,515.86 L142.40,514.27 L142.80,514.33 L143.20,514.34 L143.60,514.00 L144.00,513.14 L144.40,512.19 L144.80,511.33 L145.20,510.33 L145.60,510.84 L146.00,511.72 L146.40,510.94 L146.80,511.54 L147.20,512.38 L147.60,512.77 L148.00,512.55 L148.40,512.16 L148.80,512.63 L149.20,513.56 L149.60,514.50 L150.00,514.30 L150.40,514.42 L150.80,516.35 L151.20,515.19 L151.60,516.71 L152.00,516.66 L152.40,517.64 L152.80,517.08 L153.20,517.91 L153.60,516.06 L154.00,517.05 L154.40,517.71 L154.80,518.51 L155.20,517.99 L155.60,518.89 L156.00,518.43 L156.40,518.90 L156.80,518.04 L157.20,518.71 L157.60,517.64 L158.00,517.29 L158.40,518.28 L158.80,517.45 L159.20,518.29 L159.60,518.15 L160.00,518.34 L160.40,519.30 L160.80,518.40 L161.20,518.98 L161.60,518.10 L162.00,518.73 L162.40,519.18 L162.80,518.91 L163.20,518.16 L163.60,518.15 L164.00,519.25 L164.40,516.99 L164.80,518.94 L165.20,518.51 L165.60,519.27 L166.00,516.91 L166.40,517.90 L166.80,517.28 L167.20,519.23 L167.60,518.45 L168.00,518.09 L168.40,518.82 L168.80,516.95 L169.20,519.25 L169.60,518.47 L170.00,518.69 L170.40,518.67 L170.80,517.73 L171.20,518.23 L171.60,518.42 L172.00,518.48 L172.40,518.67 L172.80,517.85 L173.20,517.72 L173.60,518.91 L174.00,519.33 L174.40,518.87 L174.80,517.42 L175.20,518.93 L175.60,518.57 L176.00,518.04 L176.40,517.24 L176.80,519.38 L177.20,518.96 L177.60,517.72 L178.00,519.40 L178.40,518.85 L178.80,518.16 L179.20,518.10 L179.60,519.32 L180.00,518.18 L180.40,519.20 L180.80,518.75 L181.20,518.89 L181.60,518.71 L182.00,517.50 L182.00,523.71 L181.60,524.04 L181.20,525.36 L180.80,524.23 L180.40,523.72 L180.00,524.25 L179.60,524.14 L179.20,525.72 L178.80,523.87 L178.40,524.62 L178.00,525.09 L177.60,524.29 L177.20,525.50 L176.80,525.38 L176.40,523.89 L176.00,524.51 L175.60,523.85 L175.20,523.63 L174.80,524.37 L174.40,523.61 L174.00,524.33 L173.60,523.93 L173.20,524.85 L172.80,526.25 L172.40,523.86 L172.00,525.06 L171.60,523.72 L171.20,524.70 L170.80,524.73 L170.40,524.59 L170.00,523.94 L169.60,523.78 L169.20,523.75 L168.80,524.02 L168.40,524.46 L168.00,523.73 L167.60,525.39 L167.20,523.74 L166.80,524.09 L166.40,524.40 L166.00,524.05 L165.60,526.21 L165.20,524.25 L164.80,524.12 L164.40,524.16 L164.00,524.28 L163.60,524.31 L163.20,526.34 L162.80,524.02 L162.40,525.86 L162.00,523.84 L161.60,524.37 L161.20,525.13 L160.80,523.70 L160.40,523.55 L160.00,523.53 L159.60,524.46 L159.20,525.05 L158.80,525.62 L158.40,523.74 L158.00,525.14 L157.60,524.47 L157.20,525.75 L156.80,523.32 L156.40,523.61 L156.00,523.98 L155.60,524.71 L155.20,524.14 L154.80,523.80 L154.40,523.19 L154.00,522.74 L153.60,522.76 L153.20,522.80 L152.80,522.42 L152.40,524.23 L152.00,523.15 L151.60,523.73 L151.20,522.22 L150.80,522.01 L150.40,523.99 L150.00,519.77 L149.60,520.11 L149.20,519.25 L148.80,518.81 L148.40,516.89 L148.00,517.35 L147.60,517.98 L147.20,517.72 L146.80,517.20 L146.40,516.99 L146.00,516.50 L145.60,516.11 L145.20,517.20 L144.80,517.18 L144.40,517.11 L144.00,520.07 L143.60,519.01 L143.20,519.58 L142.80,520.31 L142.40,520.83 L142.00,522.05 L141.60,523.66 L141.20,523.45 L140.80,526.28 L140.40,524.40 L140.00,524.96 L139.60,525.17 L139.20,525.71 L138.80,524.39 L138.40,524.81 L138.00,525.11 L137.60,524.31 L137.20,524.11 L136.80,524.46 L136.40,524.05 L136.00,524.92 L135.60,524.69 L135.20,524.38 L134.80,524.74 L134.40,524.62 L134.00,524.29 L133.60,525.54 L133.20,524.44 L132.80,524.47 L132.40,524.58 L132.00,524.41 L131.60,525.53 L131.20,524.99 L130.80,523.77 L130.40,524.34 L130.00,523.82 L129.60,525.18 L129.20,524.62 L128.80,523.96 L128.40,523.91 L128.00,524.27 L127.60,524.37 L127.20,524.08 L126.80,524.36 L126.40,523.91 L126.00,523.82 L125.60,523.76 L125.20,524.93 L124.80,523.71 L124.40,523.63 L124.00,524.87 L123.60,523.90 L123.20,524.58 L122.80,524.28 L122.40,523.83 L122.00,526.99 L121.60,524.72 L121.20,523.80 L120.80,524.67 L120.40,524.37 L120.00,526.39 L119.60,524.47 L119.20,524.67 L118.80,525.31 L118.40,524.43 L118.00,523.96 L117.60,524.74 L117.20,524.89 L116.80,523.95 L116.40,524.02 L116.00,523.88 L115.60,524.18 L115.20,525.01 L114.80,524.83 L114.40,523.70 L114.00,524.36 L113.60,524.76 L113.20,525.64 L112.80,524.70 L112.40,523.74 L112.00,525.86 L111.60,524.50 L111.20,523.97 L110.80,523.95 L110.40,523.94 L110.00,524.96 L109.60,524.84 L109.20,524.04 L108.80,524.11 L108.40,524.90 L108.00,523.94 L107.60,526.14 L107.20,524.37 L106.80,526.24 L106.40,524.46 L106.00,523.75 L105.60,524.11 L105.20,524.12 L104.80,524.47 L104.40,523.95 L104.00,524.25 L103.60,523.76 L103.20,523.91 L102.80,524.11 L102.40,525.68 L102.00,524.73 L101.60,523.71 L101.20,524.79 L100.80,524.48 L100.40,524.36 L100.00,523.93 L99.60,524.07 L99.20,523.79 L98.80,524.14 L98.40,523.97 L98.00,525.31 L97.60,525.12 L97.20,524.76 L96.80,524.81 L96.40,524.35 L96.00,524.57 L95.60,523.91 L95.20,524.96 L94.80,525.21 L94.40,524.39 L94.00,525.45 L93.60,523.95 L93.20,524.09 L92.80,524.73 L92.40,524.94 L92.00,523.79 L91.60,523.99 L91.20,525.45 L90.80,523.73 L90.40,525.16 L90.00,524.97 L89.60,524.91 L89.20,524.25 L88.80,524.42 L88.40,524.33 L88.00,524.00 L87.60,524.08 L87.20,524.46 L86.80,524.29 L86.40,523.61 L86.00,525.74 L85.60,524.06 L85.20,523.90 L84.80,524.61 L84.40,525.87 L84.00,523.96 L83.60,523.96 L83.20,524.70 L82.80,523.72 L82.40,523.86 L82.00,524.40 L81.60,523.96 L81.20,523.66 L80.80,523.95 L80.40,524.75 L80.00,523.98 L79.60,525.42 L79.20,524.52 L78.80,523.63 L78.40,524.19 L78.00,525.44 L77.60,523.94 L77.20,524.30 L76.80,523.62 L76.40,524.08 L76.00,524.01 L75.60,523.56 L75.20,523.73 L74.80,524.34 L74.40,524.92 L74.00,524.83 L73.60,523.80 L73.20,523.72 L72.80,523.47 L72.40,523.65 L72.00,525.17 L71.60,523.19 L71.20,523.12 L70.80,524.33 L70.40,523.50 L70.00,523.39 L69.60,523.05 L69.20,524.33 L68.80,522.50 L68.40,524.96 L68.00,522.27 L67.60,522.79 L67.20,522.34 L66.80,522.73 L66.40,521.39 L66.00,520.50 L65.60,520.77 L65.20,519.44 L64.80,520.11 L64.40,517.41 L64.00,518.86 L63.60,516.79 L63.20,517.19 L62.80,518.10 L62.40,518.35 L62.00,515.39 L61.60,516.87 L61.20,515.85 L60.80,514.75 L60.40,514.89 L60.00,515.44 L59.60,516.19 L59.20,517.02 L58.80,518.89 L58.40,519.48 L58.00,519.64 L57.60,520.88 L57.20,521.79 L56.80,524.38 L56.40,524.22 L56.00,523.52 L55.60,525.17 L55.20,524.99 L54.80,524.85 L54.40,523.61 L54.00,523.96 L53.60,524.29 L53.20,523.65 L52.80,524.95 L52.40,523.83 L52.00,524.16 L51.60,525.18 L51.20,524.67 L50.80,524.37 L50.40,524.10 L50.00,523.90 L49.60,524.59 L49.20,524.63 L48.80,524.27 L48.40,523.67 L48.00,523.71 L47.60,524.24 L47.20,525.40 L46.80,524.04 L46.40,523.67 L46.00,523.73 L45.60,525.58 L45.20,524.66 L44.80,524.37 L44.40,524.21 L44.00,525.15 L43.60,523.79 L43.20,523.82 L42.80,523.68 L42.40,524.11 L42.00,524.24 L41.60,523.74 L41.20,524.76 L40.80,524.17 L40.40,525.42 L40.00,526.10 L39.60,524.04 L39.20,525.40 L38.80,523.90 L38.40,524.16 L38.00,524.85 L37.60,523.84 L37.20,523.76 L36.80,525.27 L36.40,525.45 L36.00,524.13 L35.60,524.60 L35.20,524.33 L34.80,524.97 L34.40,523.74 L34.00,524.17 L33.60,523.63 L33.20,523.72 L32.80,524.05 L32.40,524.38 L32.00,524.59 L31.60,524.38 L31.20,523.72 L30.80,524.10 L30.40,524.50 L30.00,524.47 L29.60,524.04 L29.20,524.24 L28.80,524.41 L28.40,524.76 L28.00,523.60 Z" fill="#1a1a1a"/>
<line x1="77.50" y1="512.00" x2="77.50" y2="521.00" stroke="#555" stroke-width="0.4" />
<line x1="93.00" y1="512.00" x2="93.00" y2="521.00" stroke="#555" stroke-width="0.4" />
<line x1="104.00" y1="512.00" x2="104.00" y2="521.00" stroke="#555" stroke-width="0.4" />
<line x1="22.20" y1="475.60" x2="22.20" y2="498.60" stroke="#231f20" stroke-width="1.5" />
<line x1="22.20" y1="515.90" x2="22.20" y2="525.70" stroke="#231f20" stroke-width="1.5" />
<text x="1.20" y="498.60" font-size="7" text-anchor="start" font-weight="normal" fill="#231f20" stroke="#231f20" stroke-width="0.22" textLength="18.3" lengthAdjust="spacingAndGlyphs" >20mV</text>
<text x="0.00" y="525.30" font-size="7" text-anchor="start" font-weight="normal" fill="#231f20" stroke="#231f20" stroke-width="0.22" textLength="20.6" lengthAdjust="spacingAndGlyphs" >100pA</text>
<line x1="29.00" y1="531.30" x2="44.00" y2="531.30" stroke="#231f20" stroke-width="1.2" />
<text x="29.00" y="539.50" font-size="7" text-anchor="start" font-weight="normal" fill="#231f20" stroke="#231f20" stroke-width="0.22" >10s</text>
<text x="190.80" y="423.20" font-size="12.6" text-anchor="start" font-weight="bold" fill="#231f20" stroke="#231f20" stroke-width="0.22" >l</text>
<line x1="222.10" y1="440.50" x2="222.10" y2="514.40" stroke="#231f20" stroke-width="0.9" />
<line x1="222.10" y1="514.40" x2="282.90" y2="514.40" stroke="#231f20" stroke-width="0.9" />
<line x1="219.60" y1="514.40" x2="222.10" y2="514.40" stroke="#231f20" stroke-width="0.8" />
<text x="218.90" y="516.60" font-size="6.2" text-anchor="end" font-weight="bold" fill="#231f20" stroke="#231f20" stroke-width="0.22" >0</text>
<line x1="219.60" y1="499.62" x2="222.10" y2="499.62" stroke="#231f20" stroke-width="0.8" />
<text x="218.90" y="501.82" font-size="6.2" text-anchor="end" font-weight="bold" fill="#231f20" stroke="#231f20" stroke-width="0.22" >50</text>
<line x1="219.60" y1="484.84" x2="222.10" y2="484.84" stroke="#231f20" stroke-width="0.8" />
<text x="218.90" y="487.04" font-size="6.2" text-anchor="end" font-weight="bold" fill="#231f20" stroke="#231f20" stroke-width="0.22" >100</text>
<line x1="219.60" y1="470.06" x2="222.10" y2="470.06" stroke="#231f20" stroke-width="0.8" />
<text x="218.90" y="472.26" font-size="6.2" text-anchor="end" font-weight="bold" fill="#231f20" stroke="#231f20" stroke-width="0.22" >150</text>
<line x1="219.60" y1="455.28" x2="222.10" y2="455.28" stroke="#231f20" stroke-width="0.8" />
<text x="218.90" y="457.48" font-size="6.2" text-anchor="end" font-weight="bold" fill="#231f20" stroke="#231f20" stroke-width="0.22" >200</text>
<line x1="219.60" y1="440.50" x2="222.10" y2="440.50" stroke="#231f20" stroke-width="0.8" />
<text x="218.90" y="442.70" font-size="6.2" text-anchor="end" font-weight="bold" fill="#231f20" stroke="#231f20" stroke-width="0.22" >250</text>
<rect x="229.90" y="512.33" width="18.80" height="2.07" fill="#c8c8c8" stroke="#777" stroke-width="0.5"/>
<circle cx="233" cy="512.29" r="1.2" fill="#999" stroke="#666" stroke-width="0.4"/>
<circle cx="236" cy="512.72" r="1.2" fill="#999" stroke="#666" stroke-width="0.4"/>
<circle cx="239" cy="512.63" r="1.2" fill="#999" stroke="#666" stroke-width="0.4"/>
<circle cx="242" cy="512.07" r="1.2" fill="#999" stroke="#666" stroke-width="0.4"/>
<circle cx="245" cy="512.74" r="1.2" fill="#999" stroke="#666" stroke-width="0.4"/>
<rect x="257.40" y="475.38" width="16.50" height="39.02" fill="#b3bde4" stroke="#3a4fa0" stroke-width="0.9"/>
<line x1="265.60" y1="457.30" x2="265.60" y2="493.30" stroke="#3a4fa0" stroke-width="0.9" />
<line x1="261.80" y1="457.30" x2="269.40" y2="457.30" stroke="#3a4fa0" stroke-width="0.9" />
<line x1="261.80" y1="493.30" x2="269.40" y2="493.30" stroke="#3a4fa0" stroke-width="0.9" />
<circle cx="265.8" cy="445.8" r="1.4" fill="none" stroke="#4a64c0" stroke-width="0.7"/>
<circle cx="261.8" cy="478.2" r="1.4" fill="none" stroke="#4a64c0" stroke-width="0.7"/>
<circle cx="269.6" cy="475.9" r="1.4" fill="none" stroke="#4a64c0" stroke-width="0.7"/>
<circle cx="268.4" cy="481.7" r="1.4" fill="none" stroke="#4a64c0" stroke-width="0.7"/>
<circle cx="265.6" cy="493.3" r="1.4" fill="none" stroke="#4a64c0" stroke-width="0.7"/>
<polyline points="239.6,496.1 239.6,437.1 265.6,437.1 265.6,441.2" fill="none" stroke="#231f20" stroke-width="1.2" stroke-linejoin="miter"/>
<text x="253.70" y="438.90" font-size="10" text-anchor="middle" font-weight="bold" fill="#231f20" stroke="#231f20" stroke-width="0.22" >**</text>
<text transform="translate(203.50,472.80) rotate(-90)" x="0" y="0" font-size="8.2" text-anchor="middle" font-weight="bold" fill="#231f20" stroke="#231f20" stroke-width="0.22" textLength="48.3" lengthAdjust="spacingAndGlyphs">Current (pA)</text>
<text transform="translate(244.4,518.7) rotate(-45)" x="0" y="0" font-size="8.4" font-weight="bold" text-anchor="end" fill="#231f20">Baseline</text>
<text transform="translate(271.9,518.7) rotate(-45)" x="0" y="0" font-size="8.4" font-weight="bold" text-anchor="end" fill="#231f20">Peak amplitude</text>
<line x1="446.50" y1="144.30" x2="446.50" y2="248.90" stroke="#666" stroke-width="1.1" />
<line x1="446.00" y1="248.40" x2="548.50" y2="248.40" stroke="#666" stroke-width="1.1" />
<line x1="444.70" y1="226.20" x2="446.50" y2="226.20" stroke="#666" stroke-width="0.8" />
<text x="443.90" y="229.60" font-size="9.6" text-anchor="end" font-weight="normal" fill="#222" stroke="#222" stroke-width="0.22" >10</text>
<line x1="444.70" y1="205.60" x2="446.50" y2="205.60" stroke="#666" stroke-width="0.8" />
<text x="443.90" y="209.00" font-size="9.6" text-anchor="end" font-weight="normal" fill="#222" stroke="#222" stroke-width="0.22" >20</text>
<line x1="444.70" y1="185.00" x2="446.50" y2="185.00" stroke="#666" stroke-width="0.8" />
<text x="443.90" y="188.40" font-size="9.6" text-anchor="end" font-weight="normal" fill="#222" stroke="#222" stroke-width="0.22" >30</text>
<line x1="444.70" y1="164.40" x2="446.50" y2="164.40" stroke="#666" stroke-width="0.8" />
<text x="443.90" y="167.80" font-size="9.6" text-anchor="end" font-weight="normal" fill="#222" stroke="#222" stroke-width="0.22" >40</text>
<line x1="467.40" y1="248.40" x2="467.40" y2="250.40" stroke="#666" stroke-width="0.8" />
<text x="466.60" y="257.70" font-size="9.4" text-anchor="middle" font-weight="normal" fill="#222" stroke="#222" stroke-width="0.22" >1</text>
<line x1="487.80" y1="248.40" x2="487.80" y2="250.40" stroke="#666" stroke-width="0.8" />
<text x="487.00" y="257.70" font-size="9.4" text-anchor="middle" font-weight="normal" fill="#222" stroke="#222" stroke-width="0.22" >2</text>
<line x1="507.60" y1="248.40" x2="507.60" y2="250.40" stroke="#666" stroke-width="0.8" />
<text x="506.80" y="257.70" font-size="9.4" text-anchor="middle" font-weight="normal" fill="#222" stroke="#222" stroke-width="0.22" >3</text>
<line x1="527.60" y1="248.40" x2="527.60" y2="250.40" stroke="#666" stroke-width="0.8" />
<text x="526.80" y="257.70" font-size="9.4" text-anchor="middle" font-weight="normal" fill="#222" stroke="#222" stroke-width="0.22" >4</text>
<line x1="547.70" y1="248.40" x2="547.70" y2="250.40" stroke="#666" stroke-width="0.8" />
<text x="546.90" y="257.70" font-size="9.4" text-anchor="middle" font-weight="normal" fill="#222" stroke="#222" stroke-width="0.22" >5</text>
<text x="494.30" y="151.90" font-size="9.1" text-anchor="middle" font-weight="normal" fill="#222" stroke="#222" stroke-width="0.22" >LED OFF</text>
<text x="503.25" y="267.10" font-size="10.3" text-anchor="middle" font-weight="normal" fill="#222" stroke="#222" stroke-width="0.22" >time (min)</text>
<text transform="translate(430.80,201.85) rotate(-90)" x="0" y="0" font-size="9.8" text-anchor="middle" font-weight="normal" fill="#222" stroke="#222" stroke-width="0.22" textLength="117" lengthAdjust="spacingAndGlyphs">distance to food port (cm)</text>
<polyline points="450.20,180.70 450.20,166.80 450.52,169.16 450.85,170.33 451.18,172.35 451.50,171.74 451.83,171.06 452.17,169.19 452.50,167.33 452.95,182.94 453.40,198.64 453.70,188.28 454.00,177.15 454.30,167.78 454.63,178.11 454.97,186.92 455.30,202.07 455.75,219.30 456.20,237.63 456.50,219.87 456.80,201.17 457.10,182.35 457.55,168.48 458.00,156.37 458.32,154.44 458.64,156.74 458.96,153.92 459.28,154.49 459.60,154.32 459.93,155.67 460.25,156.43 460.57,158.26 460.90,155.73 461.20,159.41 461.50,159.97 461.80,160.34 462.10,162.73 462.40,161.09 462.70,162.51 463.03,161.68 463.37,164.70 463.70,163.92 464.02,167.69 464.35,174.96 464.68,177.19 465.00,180.27 465.45,170.24 465.90,158.57 466.27,160.76 466.63,163.93 467.00,163.46 467.40,164.23 467.80,161.00 468.20,167.99 468.60,172.17 469.00,180.08 469.30,191.51 469.60,202.21 469.97,197.86 470.33,195.76 470.70,193.33 471.02,185.02 471.35,178.74 471.68,171.93 472.00,163.53 472.35,161.31 472.70,160.55 473.05,157.69 473.40,156.86 473.77,157.06 474.13,160.09 474.50,159.63 474.82,164.49 475.15,171.12 475.48,176.03 475.80,181.32 476.10,186.42 476.40,191.57 476.70,193.26 477.00,199.54 477.30,203.80 477.60,208.15 477.93,200.32 478.27,189.69 478.60,182.79 478.95,175.45 479.30,169.24 479.65,162.41 480.00,155.79 480.35,155.14 480.70,155.52 481.05,156.59 481.40,155.16 481.70,156.54 482.00,157.84 482.30,158.46 482.60,161.02 482.90,163.93 483.20,162.43 483.52,164.52 483.83,164.84 484.15,164.32 484.47,164.93 484.78,165.64 485.10,166.54 485.42,165.80 485.74,166.22 486.06,165.10 486.38,165.65 486.70,165.14 487.02,165.34 487.34,164.74 487.66,165.88 487.98,166.67 488.30,165.30 488.67,165.08 489.03,164.81 489.40,163.67 489.75,183.16 490.10,201.19 490.50,182.14 490.90,164.52 491.27,165.19 491.63,164.17 492.00,163.66 492.37,166.96 492.73,170.98 493.10,173.43 493.50,189.18 493.90,200.13 494.27,211.85 494.63,219.80 495.00,230.17 495.45,237.46 495.90,243.48 496.23,241.37 496.57,240.95 496.90,238.89 497.20,236.01 497.50,232.73 497.80,229.67 498.10,227.36 498.40,224.70 498.75,232.60 499.10,240.77 499.42,239.01 499.73,237.53 500.05,236.77 500.37,237.58 500.68,235.65 501.00,234.80 501.30,231.84 501.60,229.12 501.90,225.71 502.20,223.65 502.50,220.32 502.95,218.93 503.40,223.27 503.70,232.26 504.00,234.63 504.30,242.11 504.63,240.50 504.97,237.06 505.30,235.80 505.64,233.68 505.98,233.91 506.31,235.10 506.65,234.83 506.99,234.75 507.32,236.46 507.66,236.42 508.00,236.41 508.32,235.88 508.63,236.34 508.95,235.84 509.27,235.14 509.58,236.11 509.90,235.83 510.22,235.42 510.53,235.83 510.85,234.05 511.17,234.77 511.48,234.28 511.80,235.80 512.11,235.17 512.42,236.74 512.73,236.37 513.03,234.73 513.34,234.20 513.65,235.74 513.96,235.16 514.27,235.39 514.58,234.69 514.88,236.31 515.19,236.05 515.50,236.36 515.82,236.24 516.13,235.10 516.45,233.86 516.77,235.59 517.08,235.22 517.40,235.27 517.72,236.57 518.03,235.58 518.35,236.98 518.67,235.75 518.98,236.16 519.30,235.96 519.61,236.25 519.92,234.42 520.23,236.56 520.54,235.71 520.86,234.76 521.17,236.22 521.48,236.01 521.79,236.88 522.10,236.41 522.41,236.11 522.72,234.34 523.03,237.34 523.34,237.20 523.66,236.59 523.97,236.33 524.28,237.04 524.59,235.19 524.90,236.63 525.20,236.70 525.50,236.46 525.80,238.38 526.10,239.05 526.40,240.95 526.70,240.95 527.02,237.74 527.33,236.50 527.65,237.28 527.97,236.25 528.28,234.67 528.60,233.29 528.94,234.83 529.29,234.36 529.63,235.18 529.97,236.98 530.31,236.81 530.66,236.32 531.00,236.39 531.45,230.23 531.90,224.96 532.30,214.54 532.70,208.16 533.07,208.99 533.43,212.61 533.80,216.53 534.12,211.48 534.45,208.50 534.77,203.51 535.10,201.60 535.55,198.74 536.00,193.81 536.30,196.63 536.60,198.15 536.90,198.64 537.20,205.11 537.50,205.27 537.83,202.87 538.15,199.90 538.47,197.13 538.80,196.53 539.12,192.46 539.43,193.52 539.75,193.12 540.07,193.01 540.38,193.53 540.70,191.95 541.02,192.80 541.33,194.38 541.65,197.21 541.97,199.06 542.28,200.33 542.60,202.44 542.92,198.88 543.25,198.59 543.58,196.67 543.90,194.25 544.27,195.92 544.63,199.59 545.00,200.39 545.35,197.93 545.70,194.52 546.10,198.84 546.50,199.09 546.90,201.00" fill="none" stroke="#3f8ac6" stroke-width="0.7" stroke-linejoin="round" />
<text x="413.30" y="144.60" font-size="12.6" text-anchor="start" font-weight="bold" fill="#231f20" stroke="#231f20" stroke-width="0.22" >h</text>
<line x1="578.40" y1="144.60" x2="578.40" y2="249.60" stroke="#666" stroke-width="1.1" />
<line x1="577.90" y1="249.10" x2="679.40" y2="249.10" stroke="#666" stroke-width="1.1" />
<line x1="576.60" y1="226.20" x2="578.40" y2="226.20" stroke="#666" stroke-width="0.8" />
<text x="575.80" y="229.60" font-size="9.6" text-anchor="end" font-weight="normal" fill="#222" stroke="#222" stroke-width="0.22" >10</text>
<line x1="576.60" y1="205.60" x2="578.40" y2="205.60" stroke="#666" stroke-width="0.8" />
<text x="575.80" y="209.00" font-size="9.6" text-anchor="end" font-weight="normal" fill="#222" stroke="#222" stroke-width="0.22" >20</text>
<line x1="576.60" y1="185.00" x2="578.40" y2="185.00" stroke="#666" stroke-width="0.8" />
<text x="575.80" y="188.40" font-size="9.6" text-anchor="end" font-weight="normal" fill="#222" stroke="#222" stroke-width="0.22" >30</text>
<line x1="576.60" y1="164.40" x2="578.40" y2="164.40" stroke="#666" stroke-width="0.8" />
<text x="575.80" y="167.80" font-size="9.6" text-anchor="end" font-weight="normal" fill="#222" stroke="#222" stroke-width="0.22" >40</text>
<line x1="598.60" y1="249.10" x2="598.60" y2="251.10" stroke="#666" stroke-width="0.8" />
<text x="597.80" y="258.40" font-size="9.4" text-anchor="middle" font-weight="normal" fill="#222" stroke="#222" stroke-width="0.22" >1</text>
<line x1="619.00" y1="249.10" x2="619.00" y2="251.10" stroke="#666" stroke-width="0.8" />
<text x="618.20" y="258.40" font-size="9.4" text-anchor="middle" font-weight="normal" fill="#222" stroke="#222" stroke-width="0.22" >2</text>
<line x1="638.50" y1="249.10" x2="638.50" y2="251.10" stroke="#666" stroke-width="0.8" />
<text x="637.70" y="258.40" font-size="9.4" text-anchor="middle" font-weight="normal" fill="#222" stroke="#222" stroke-width="0.22" >3</text>
<line x1="658.40" y1="249.10" x2="658.40" y2="251.10" stroke="#666" stroke-width="0.8" />
<text x="657.60" y="258.40" font-size="9.4" text-anchor="middle" font-weight="normal" fill="#222" stroke="#222" stroke-width="0.22" >4</text>
<line x1="678.60" y1="249.10" x2="678.60" y2="251.10" stroke="#666" stroke-width="0.8" />
<text x="677.80" y="258.40" font-size="9.4" text-anchor="middle" font-weight="normal" fill="#222" stroke="#222" stroke-width="0.22" >5</text>
<text x="631.70" y="151.90" font-size="9.1" text-anchor="middle" font-weight="normal" fill="#222" stroke="#222" stroke-width="0.22" >LED ON</text>
<text x="634.30" y="267.20" font-size="10.3" text-anchor="middle" font-weight="normal" fill="#222" stroke="#222" stroke-width="0.22" >time (min)</text>
<text transform="translate(562.30,202.35) rotate(-90)" x="0" y="0" font-size="9.8" text-anchor="middle" font-weight="normal" fill="#222" stroke="#222" stroke-width="0.22" textLength="117" lengthAdjust="spacingAndGlyphs">distance to food port (cm)</text>
<polyline points="582.30,193.59 582.60,197.83 582.90,199.06 583.20,203.99 583.53,199.14 583.85,195.41 584.17,193.63 584.50,188.34 584.80,187.74 585.10,188.02 585.40,187.95 585.70,186.49 586.00,186.63 586.35,180.42 586.70,176.17 587.05,171.31 587.40,165.70 587.73,173.52 588.05,181.39 588.38,190.61 588.70,198.64 589.00,199.79 589.30,201.42 589.60,201.44 589.90,203.85 590.20,205.41 590.57,200.21 590.93,193.11 591.30,187.84 591.63,182.85 591.97,180.68 592.30,175.62 592.60,176.74 592.90,179.43 593.20,176.88 593.50,180.00 593.80,180.00 594.12,185.79 594.45,192.86 594.77,199.30 595.10,206.14 595.55,196.49 596.00,187.67 596.30,179.68 596.60,171.36 596.90,164.23 597.20,155.59 597.50,156.82 597.80,153.74 598.10,154.00 598.40,153.68 598.70,152.22 599.07,169.31 599.43,178.93 599.80,194.35 600.17,205.46 600.53,218.76 600.90,226.81 601.23,233.13 601.57,235.08 601.90,239.16 602.27,235.13 602.63,232.74 603.00,227.58 603.33,213.63 603.67,199.12 604.00,185.56 604.34,182.60 604.68,186.99 605.02,187.33 605.36,186.90 605.70,188.47 606.00,182.68 606.30,179.48 606.60,173.09 606.90,167.61 607.20,162.49 607.57,159.65 607.93,156.81 608.30,153.31 608.67,159.52 609.03,159.51 609.40,161.55 609.73,181.72 610.07,198.73 610.40,216.24 610.77,223.52 611.13,231.37 611.50,239.60 611.87,238.74 612.23,236.03 612.60,234.66 612.93,228.25 613.27,218.48 613.60,208.61 613.97,206.96 614.33,200.93 614.70,195.07 615.04,195.62 615.38,198.03 615.72,198.09 616.06,198.97 616.40,199.83 616.80,216.49 617.20,233.90 617.53,233.03 617.85,232.65 618.17,235.08 618.50,235.06 618.95,241.06 619.40,246.68 619.70,242.27 620.00,239.12 620.30,236.03 620.60,231.88 620.90,226.68 621.20,220.49 621.50,212.60 621.80,205.41 622.10,198.57 622.47,193.13 622.83,188.14 623.20,183.54 623.54,181.44 623.88,180.11 624.22,177.38 624.56,177.42 624.90,175.44 625.25,170.66 625.60,165.93 626.00,168.49 626.40,169.99 626.73,188.91 627.07,209.70 627.40,230.19 627.80,233.44 628.20,234.18 628.55,235.54 628.90,234.03 629.25,234.78 629.60,233.63 629.95,233.04 630.30,231.57 630.60,233.12 630.90,234.34 631.20,236.01 631.50,236.48 631.80,236.47 632.12,239.59 632.45,242.24 632.77,243.34 633.10,245.20 633.50,230.40 633.90,216.63 634.27,208.55 634.63,199.40 635.00,192.74 635.37,190.93 635.73,189.66 636.10,190.42 636.50,191.81 636.90,192.18 637.30,194.67 637.60,195.47 637.90,194.86 638.20,195.75 638.50,196.88 638.80,195.09 639.17,195.56 639.53,194.50 639.90,192.85 640.30,212.49 640.62,201.49 640.95,187.92 641.27,176.71 641.60,164.24 642.00,176.14 642.40,187.51 642.77,202.57 643.13,218.77 643.50,232.09 643.84,233.77 644.18,234.20 644.52,233.91 644.86,236.74 645.20,235.06 645.55,236.58 645.90,232.49 646.25,231.93 646.60,234.48 646.95,233.82 647.30,232.62 647.60,233.69 647.90,232.87 648.20,234.85 648.50,235.33 648.80,236.90 649.14,237.48 649.48,236.31 649.82,236.17 650.16,234.79 650.50,234.61 650.84,235.96 651.18,236.47 651.52,238.72 651.86,237.65 652.20,241.00 652.50,239.68 652.80,242.77 653.10,242.38 653.40,245.82 653.70,245.72 654.07,242.43 654.43,239.20 654.80,234.43 655.14,233.64 655.48,232.34 655.82,234.84 656.16,232.69 656.50,232.37 656.90,215.82 657.30,200.59 657.65,188.74 658.00,182.02 658.33,180.04 658.67,179.48 659.00,175.98 659.37,182.18 659.73,188.22 660.10,193.80 660.47,193.14 660.83,190.23 661.20,190.35 661.53,195.87 661.87,200.39 662.20,206.00 662.57,200.91 662.93,193.39 663.30,185.97 663.67,182.23 664.03,175.27 664.40,171.67 664.73,180.41 665.07,189.55 665.40,199.24 665.77,213.16 666.13,227.44 666.50,241.64 666.87,239.94 667.23,234.72 667.60,232.71 667.90,232.65 668.20,232.09 668.50,233.42 668.80,232.23 669.10,234.34 669.40,232.87 669.70,233.46 670.05,234.37 670.40,235.02 670.75,235.27 671.10,235.44 671.45,234.63 671.80,234.14 672.11,235.19 672.43,234.67 672.74,233.24 673.06,234.68 673.37,233.68 673.69,232.34 674.00,233.30 674.30,231.85 674.60,232.40 674.90,233.69 675.20,232.07 675.50,233.65 675.80,232.54 676.10,234.56 676.40,233.35 676.70,234.26 677.00,232.85 677.30,233.99 677.60,235.25 677.90,234.91 678.20,234.60" fill="none" stroke="#3f8ac6" stroke-width="0.7" stroke-linejoin="round" />
<line x1="447.00" y1="422.30" x2="447.00" y2="526.60" stroke="#888" stroke-width="1.1" />
<line x1="446.50" y1="526.10" x2="548.10" y2="526.10" stroke="#888" stroke-width="1.1" />
<line x1="445.20" y1="504.17" x2="447.00" y2="504.17" stroke="#888" stroke-width="0.8" />
<text x="444.40" y="507.57" font-size="9.6" text-anchor="end" font-weight="normal" fill="#222" stroke="#222" stroke-width="0.22" >10</text>
<line x1="445.20" y1="483.44" x2="447.00" y2="483.44" stroke="#888" stroke-width="0.8" />
<text x="444.40" y="486.84" font-size="9.6" text-anchor="end" font-weight="normal" fill="#222" stroke="#222" stroke-width="0.22" >20</text>
<line x1="445.20" y1="462.71" x2="447.00" y2="462.71" stroke="#888" stroke-width="0.8" />
<text x="444.40" y="466.11" font-size="9.6" text-anchor="end" font-weight="normal" fill="#222" stroke="#222" stroke-width="0.22" >30</text>
<line x1="445.20" y1="441.98" x2="447.00" y2="441.98" stroke="#888" stroke-width="0.8" />
<text x="444.40" y="445.38" font-size="9.6" text-anchor="end" font-weight="normal" fill="#222" stroke="#222" stroke-width="0.22" >40</text>
<line x1="467.40" y1="526.10" x2="467.40" y2="528.10" stroke="#888" stroke-width="0.8" />
<text x="466.60" y="535.50" font-size="9.4" text-anchor="middle" font-weight="normal" fill="#222" stroke="#222" stroke-width="0.22" >1</text>
<line x1="487.60" y1="526.10" x2="487.60" y2="528.10" stroke="#888" stroke-width="0.8" />
<text x="486.80" y="535.50" font-size="9.4" text-anchor="middle" font-weight="normal" fill="#222" stroke="#222" stroke-width="0.22" >2</text>
<line x1="507.30" y1="526.10" x2="507.30" y2="528.10" stroke="#888" stroke-width="0.8" />
<text x="506.50" y="535.50" font-size="9.4" text-anchor="middle" font-weight="normal" fill="#222" stroke="#222" stroke-width="0.22" >3</text>
<line x1="527.30" y1="526.10" x2="527.30" y2="528.10" stroke="#888" stroke-width="0.8" />
<text x="526.50" y="535.50" font-size="9.4" text-anchor="middle" font-weight="normal" fill="#222" stroke="#222" stroke-width="0.22" >4</text>
<line x1="547.30" y1="526.10" x2="547.30" y2="528.10" stroke="#888" stroke-width="0.8" />
<text x="546.50" y="535.50" font-size="9.4" text-anchor="middle" font-weight="normal" fill="#222" stroke="#222" stroke-width="0.22" >5</text>
<text x="493.50" y="428.90" font-size="9.1" text-anchor="middle" font-weight="normal" fill="#222" stroke="#222" stroke-width="0.22" >LED OFF</text>
<text x="503.05" y="544.60" font-size="10.3" text-anchor="middle" font-weight="normal" fill="#222" stroke="#222" stroke-width="0.22" >time (min)</text>
<text transform="translate(430.80,479.70) rotate(-90)" x="0" y="0" font-size="9.8" text-anchor="middle" font-weight="normal" fill="#222" stroke="#222" stroke-width="0.22" textLength="117" lengthAdjust="spacingAndGlyphs">distance to food port (cm)</text>
<polyline points="450.10,443.61 450.70,445.36 451.06,445.04 451.41,445.32 451.77,445.52 452.12,445.34 452.48,445.75 452.83,444.89 453.19,445.22 453.54,444.95 453.90,444.93 454.26,445.14 454.61,445.28 454.97,445.35 455.32,445.38 455.68,445.98 456.03,445.50 456.39,444.64 456.74,445.27 457.10,444.98 457.46,445.02 457.81,445.66 458.17,445.12 458.52,444.52 458.88,445.31 459.23,445.10 459.59,444.79 459.94,444.88 460.30,444.98 460.80,443.89 461.30,442.45 461.80,444.13 462.30,446.24 462.66,445.32 463.02,445.32 463.38,445.51 463.74,445.98 464.10,445.35 464.46,446.10 464.82,445.14 465.18,445.24 465.54,445.58 465.90,445.30 466.26,445.38 466.62,445.76 466.98,445.85 467.34,445.64 467.70,445.50 468.06,446.07 468.42,445.74 468.78,445.52 469.14,446.03 469.50,445.28 470.00,444.46 470.50,443.43 471.00,444.00 471.50,444.60 471.85,444.94 472.20,444.64 472.56,444.63 472.91,444.50 473.26,445.33 473.61,444.69 473.96,445.30 474.31,445.04 474.67,444.83 475.02,445.17 475.37,445.05 475.72,445.01 476.07,444.50 476.42,445.02 476.78,445.32 477.13,445.19 477.48,445.38 477.83,445.57 478.18,445.21 478.53,445.77 478.89,444.56 479.24,445.02 479.59,444.23 479.94,445.42 480.29,445.18 480.64,445.75 481.00,445.04 481.35,444.48 481.70,445.65 482.05,444.74 482.40,444.78 482.76,445.18 483.11,445.47 483.46,445.09 483.81,445.35 484.16,444.64 484.51,445.92 484.87,445.30 485.22,445.38 485.57,445.56 485.92,445.42 486.27,445.45 486.62,445.07 486.98,445.37 487.33,445.57 487.68,445.80 488.03,445.41 488.38,445.49 488.73,445.59 489.09,445.69 489.44,445.58 489.79,445.43 490.14,445.35 490.49,445.94 490.84,445.66 491.20,445.58 491.55,446.80 491.90,445.91 492.26,445.84 492.63,445.54 492.99,445.07 493.36,445.76 493.72,445.27 494.09,445.27 494.45,445.55 494.82,445.49 495.18,445.15 495.55,445.02 495.91,445.69 496.28,445.09 496.64,444.48 497.01,445.04 497.37,444.77 497.74,444.67 498.10,444.84 498.46,444.59 498.83,445.12 499.19,444.40 499.55,444.32 499.92,444.55 500.28,443.86 500.65,444.32 501.01,443.85 501.37,444.20 501.74,443.39 502.10,443.75 502.52,442.62 502.94,442.61 503.36,442.35 503.78,442.09 504.20,442.19 504.60,442.36 505.00,441.47 505.40,441.90 505.80,442.82 506.20,442.75 506.55,441.94 506.90,442.40 507.25,441.66 507.60,441.57 507.95,441.24 508.30,441.41 508.70,442.63 509.10,442.31 509.50,442.48 509.90,443.74 510.30,443.04 510.70,442.47 511.10,441.76 511.50,441.32 511.90,440.39 512.27,442.71 512.63,443.80 513.00,445.80 513.47,450.11 513.93,454.17 514.40,458.56 514.90,448.13 515.40,436.60 515.90,436.41 516.40,435.43 516.90,439.55 517.40,443.57 517.75,443.89 518.10,443.81 518.45,444.32 518.80,443.70 519.15,444.75 519.50,444.29 519.90,444.57 520.30,444.04 520.70,443.85 521.10,443.52 521.50,444.07 521.85,443.49 522.20,443.71 522.55,444.48 522.90,444.76 523.25,444.95 523.60,444.86 524.10,462.52 524.60,480.62 525.10,463.64 525.60,447.91 526.10,465.25 526.60,482.35 526.97,494.14 527.33,507.50 527.70,519.14 528.20,516.12 528.70,512.87 529.10,513.07 529.50,513.71 529.90,514.27 530.30,514.31 530.70,515.04 531.12,514.58 531.54,513.51 531.96,512.51 532.38,512.09 532.80,511.22 533.15,510.72 533.50,509.62 533.85,508.77 534.20,509.18 534.70,482.37 535.20,455.67 535.70,451.37 536.20,446.44 536.70,461.19 537.20,476.83 537.57,487.91 537.93,501.03 538.30,513.35 538.80,515.62 539.30,517.09 539.70,519.91 540.10,522.15 540.50,525.21 541.00,515.27 541.50,506.60 541.87,483.32 542.23,459.83 542.60,436.23 543.07,437.14 543.53,436.51 544.00,437.45 544.50,439.31 545.00,441.51 545.47,442.22 545.93,443.58 546.40,443.60" fill="none" stroke="#3f8ac6" stroke-width="0.7" stroke-linejoin="round" />
<text x="411.50" y="422.30" font-size="12.6" text-anchor="start" font-weight="bold" fill="#231f20" stroke="#231f20" stroke-width="0.22" >p</text>
<line x1="578.50" y1="422.10" x2="578.50" y2="526.60" stroke="#666" stroke-width="1.1" />
<line x1="578.00" y1="526.10" x2="680.00" y2="526.10" stroke="#666" stroke-width="1.1" />
<line x1="576.70" y1="504.17" x2="578.50" y2="504.17" stroke="#666" stroke-width="0.8" />
<text x="575.90" y="507.57" font-size="9.6" text-anchor="end" font-weight="normal" fill="#222" stroke="#222" stroke-width="0.22" >10</text>
<line x1="576.70" y1="483.44" x2="578.50" y2="483.44" stroke="#666" stroke-width="0.8" />
<text x="575.90" y="486.84" font-size="9.6" text-anchor="end" font-weight="normal" fill="#222" stroke="#222" stroke-width="0.22" >20</text>
<line x1="576.70" y1="462.71" x2="578.50" y2="462.71" stroke="#666" stroke-width="0.8" />
<text x="575.90" y="466.11" font-size="9.6" text-anchor="end" font-weight="normal" fill="#222" stroke="#222" stroke-width="0.22" >30</text>
<line x1="576.70" y1="441.98" x2="578.50" y2="441.98" stroke="#666" stroke-width="0.8" />
<text x="575.90" y="445.38" font-size="9.6" text-anchor="end" font-weight="normal" fill="#222" stroke="#222" stroke-width="0.22" >40</text>
<line x1="598.40" y1="526.10" x2="598.40" y2="528.10" stroke="#666" stroke-width="0.8" />
<text x="597.60" y="535.50" font-size="9.4" text-anchor="middle" font-weight="normal" fill="#222" stroke="#222" stroke-width="0.22" >1</text>
<line x1="618.60" y1="526.10" x2="618.60" y2="528.10" stroke="#666" stroke-width="0.8" />
<text x="617.80" y="535.50" font-size="9.4" text-anchor="middle" font-weight="normal" fill="#222" stroke="#222" stroke-width="0.22" >2</text>
<line x1="638.70" y1="526.10" x2="638.70" y2="528.10" stroke="#666" stroke-width="0.8" />
<text x="637.90" y="535.50" font-size="9.4" text-anchor="middle" font-weight="normal" fill="#222" stroke="#222" stroke-width="0.22" >3</text>
<line x1="658.70" y1="526.10" x2="658.70" y2="528.10" stroke="#666" stroke-width="0.8" />
<text x="657.90" y="535.50" font-size="9.4" text-anchor="middle" font-weight="normal" fill="#222" stroke="#222" stroke-width="0.22" >4</text>
<line x1="679.20" y1="526.10" x2="679.20" y2="528.10" stroke="#666" stroke-width="0.8" />
<text x="678.40" y="535.50" font-size="9.4" text-anchor="middle" font-weight="normal" fill="#222" stroke="#222" stroke-width="0.22" >5</text>
<text x="630.60" y="428.90" font-size="9.1" text-anchor="middle" font-weight="normal" fill="#222" stroke="#222" stroke-width="0.22" >LED ON</text>
<text x="634.50" y="544.60" font-size="10.3" text-anchor="middle" font-weight="normal" fill="#222" stroke="#222" stroke-width="0.22" >time (min)</text>
<text transform="translate(562.30,479.60) rotate(-90)" x="0" y="0" font-size="9.8" text-anchor="middle" font-weight="normal" fill="#222" stroke="#222" stroke-width="0.22" textLength="117" lengthAdjust="spacingAndGlyphs">distance to food port (cm)</text>
<polyline points="583.60,454.21 584.20,440.93 584.70,438.28 585.20,433.25 585.70,438.93 586.20,442.47 586.70,445.65 587.20,446.70 587.62,445.90 588.05,443.60 588.48,442.67 588.90,440.96 589.37,441.23 589.83,442.17 590.30,441.97 590.65,442.30 591.00,442.70 591.35,442.25 591.70,441.89 592.12,444.32 592.55,444.38 592.98,445.18 593.40,446.68 593.80,446.56 594.20,446.85 594.60,447.08 595.00,448.49 595.40,447.71 595.80,447.57 596.20,447.60 596.60,448.05 597.00,446.71 597.40,446.29 597.75,447.67 598.10,445.54 598.45,445.92 598.80,446.27 599.15,446.91 599.50,445.13 599.90,444.64 600.30,446.43 600.70,446.09 601.10,446.41 601.48,446.48 601.85,446.01 602.23,445.70 602.60,444.98 603.20,437.04 603.60,437.05 604.00,436.22 604.40,435.87 604.80,436.37 605.20,436.14 605.60,435.28 606.07,436.10 606.53,437.39 607.00,437.35 607.37,446.77 607.73,456.57 608.10,465.98 608.60,483.35 609.10,499.73 609.60,511.77 610.10,521.20 610.50,518.63 610.90,517.52 611.30,515.15 611.70,518.56 612.10,522.62 612.55,500.28 613.00,476.48 613.40,461.69 613.80,446.68 614.30,446.14 614.80,447.44 615.30,467.44 615.80,485.55 616.30,497.52 616.80,509.55 617.40,520.62 617.85,501.49 618.30,481.35 618.80,478.38 619.30,472.38 619.80,456.68 620.30,440.75 620.70,441.34 621.10,443.18 621.50,444.99 621.87,455.39 622.23,462.85 622.60,471.98 623.10,469.42 623.60,467.29 624.00,484.10 624.40,500.83 624.90,510.27 625.40,519.53 625.90,518.13 626.40,515.13 626.80,519.72 627.20,523.15 627.63,509.96 628.07,497.54 628.50,483.62 629.10,447.18 629.60,453.80 630.10,461.04 630.60,449.20 631.10,435.78 631.60,441.07 632.10,445.72 632.45,445.91 632.80,445.71 633.15,445.96 633.50,445.05 633.85,445.83 634.20,445.96 634.60,446.22 635.00,445.33 635.40,444.77 635.80,444.18 636.20,442.45 636.62,443.33 637.04,443.98 637.46,443.20 637.88,443.94 638.30,443.52 638.70,442.59 639.10,443.26 639.50,442.59 639.90,442.85 640.30,442.37 640.70,443.36 641.10,442.73 641.50,445.44 641.90,445.68 642.30,445.42 642.65,444.81 643.00,444.94 643.35,444.94 643.70,444.48 644.05,444.13 644.40,442.62 644.80,444.06 645.20,446.32 645.60,446.79 646.00,446.94 646.47,445.20 646.93,442.84 647.40,440.99 647.77,442.87 648.15,442.94 648.52,444.39 648.90,444.69 649.30,442.56 649.70,441.72 650.10,441.94 650.50,439.11 650.90,439.89 651.30,441.98 651.70,442.32 652.10,443.20 652.48,442.40 652.85,439.20 653.23,438.76 653.60,436.46 654.10,438.04 654.60,440.09 655.00,440.06 655.40,438.38 655.80,436.49 656.20,435.83 656.58,437.85 656.95,438.27 657.33,437.87 657.70,440.34 658.17,437.15 658.63,434.96 659.10,433.73 659.50,436.51 659.90,439.09 660.30,441.03 660.66,440.37 661.01,440.38 661.37,440.01 661.73,440.81 662.09,440.62 662.44,441.14 662.80,440.45 663.20,441.14 663.60,441.25 664.00,441.38 664.40,441.69 664.80,442.08 665.17,442.09 665.55,443.07 665.92,442.92 666.29,442.29 666.66,443.32 667.04,443.29 667.41,443.98 667.78,443.23 668.15,443.31 668.53,443.16 668.90,443.66 669.27,443.89 669.65,443.76 670.02,443.58 670.39,444.03 670.76,443.83 671.14,443.94 671.51,443.38 671.88,444.00 672.25,443.42 672.63,443.53 673.00,444.08 673.36,445.09 673.72,444.53 674.08,444.04 674.44,443.96 674.79,444.56 675.15,444.78 675.51,444.71 675.87,444.00 676.23,444.20 676.59,443.95 676.95,443.98 677.31,443.70 677.66,444.03 678.02,443.06 678.38,443.56 678.74,444.41 679.10,444.20" fill="none" stroke="#3f8ac6" stroke-width="0.7" stroke-linejoin="round" />
<rect x="436.10" y="22.10" width="92.90" height="97.50" fill="#ffffff" />
<line x1="436.10" y1="33.29" x2="529.00" y2="33.29" stroke="#b4b4b4" stroke-width="0.6" />
<line x1="434.30" y1="33.29" x2="436.10" y2="33.29" stroke="#555" stroke-width="0.5" />
<line x1="436.10" y1="45.04" x2="529.00" y2="45.04" stroke="#d6d6d6" stroke-width="0.6" />
<line x1="434.30" y1="45.04" x2="436.10" y2="45.04" stroke="#555" stroke-width="0.5" />
<line x1="436.10" y1="56.60" x2="529.00" y2="56.60" stroke="#b4b4b4" stroke-width="0.6" />
<line x1="434.30" y1="56.60" x2="436.10" y2="56.60" stroke="#555" stroke-width="0.5" />
<line x1="436.10" y1="67.97" x2="529.00" y2="67.97" stroke="#d6d6d6" stroke-width="0.6" />
<line x1="434.30" y1="67.97" x2="436.10" y2="67.97" stroke="#555" stroke-width="0.5" />
<line x1="436.10" y1="79.53" x2="529.00" y2="79.53" stroke="#b4b4b4" stroke-width="0.6" />
<line x1="434.30" y1="79.53" x2="436.10" y2="79.53" stroke="#555" stroke-width="0.5" />
<line x1="436.10" y1="91.09" x2="529.00" y2="91.09" stroke="#d6d6d6" stroke-width="0.6" />
<line x1="434.30" y1="91.09" x2="436.10" y2="91.09" stroke="#555" stroke-width="0.5" />
<line x1="436.10" y1="102.84" x2="529.00" y2="102.84" stroke="#b4b4b4" stroke-width="0.6" />
<line x1="434.30" y1="102.84" x2="436.10" y2="102.84" stroke="#555" stroke-width="0.5" />
<line x1="436.10" y1="114.40" x2="529.00" y2="114.40" stroke="#d6d6d6" stroke-width="0.6" />
<line x1="434.30" y1="114.40" x2="436.10" y2="114.40" stroke="#555" stroke-width="0.5" />
<line x1="440.39" y1="22.10" x2="440.39" y2="119.60" stroke="#c6c6c6" stroke-width="0.6" />
<line x1="440.39" y1="119.60" x2="440.39" y2="121.20" stroke="#555" stroke-width="0.5" />
<line x1="451.58" y1="22.10" x2="451.58" y2="119.60" stroke="#dcdcdc" stroke-width="0.6" />
<line x1="451.58" y1="119.60" x2="451.58" y2="121.20" stroke="#555" stroke-width="0.5" />
<line x1="462.39" y1="22.10" x2="462.39" y2="119.60" stroke="#c6c6c6" stroke-width="0.6" />
<line x1="462.39" y1="119.60" x2="462.39" y2="121.20" stroke="#555" stroke-width="0.5" />
<line x1="473.39" y1="22.10" x2="473.39" y2="119.60" stroke="#dcdcdc" stroke-width="0.6" />
<line x1="473.39" y1="119.60" x2="473.39" y2="121.20" stroke="#555" stroke-width="0.5" />
<line x1="484.58" y1="22.10" x2="484.58" y2="119.60" stroke="#c6c6c6" stroke-width="0.6" />
<line x1="484.58" y1="119.60" x2="484.58" y2="121.20" stroke="#555" stroke-width="0.5" />
<line x1="495.40" y1="22.10" x2="495.40" y2="119.60" stroke="#dcdcdc" stroke-width="0.6" />
<line x1="495.40" y1="119.60" x2="495.40" y2="121.20" stroke="#555" stroke-width="0.5" />
<line x1="506.59" y1="22.10" x2="506.59" y2="119.60" stroke="#c6c6c6" stroke-width="0.6" />
<line x1="506.59" y1="119.60" x2="506.59" y2="121.20" stroke="#555" stroke-width="0.5" />
<line x1="517.77" y1="22.10" x2="517.77" y2="119.60" stroke="#dcdcdc" stroke-width="0.6" />
<line x1="517.77" y1="119.60" x2="517.77" y2="121.20" stroke="#555" stroke-width="0.5" />
<rect x="436.10" y="22.10" width="92.90" height="97.50" fill="none" stroke="#999" stroke-width="0.7"/>
<rect x="534.60" y="22.10" width="4.60" height="96.60" fill="url(#vir)"/>
<line x1="539.20" y1="22.10" x2="540.40" y2="22.10" stroke="#555" stroke-width="0.4" />
<text x="541.30" y="23.60" font-size="4.2" text-anchor="start" font-weight="normal" fill="#333" stroke="#333" stroke-width="0" >30</text>
<line x1="539.20" y1="38.20" x2="540.40" y2="38.20" stroke="#555" stroke-width="0.4" />
<text x="541.30" y="39.70" font-size="4.2" text-anchor="start" font-weight="normal" fill="#333" stroke="#333" stroke-width="0" >25</text>
<line x1="539.20" y1="54.30" x2="540.40" y2="54.30" stroke="#555" stroke-width="0.4" />
<text x="541.30" y="55.80" font-size="4.2" text-anchor="start" font-weight="normal" fill="#333" stroke="#333" stroke-width="0" >20</text>
<line x1="539.20" y1="70.40" x2="540.40" y2="70.40" stroke="#555" stroke-width="0.4" />
<text x="541.30" y="71.90" font-size="4.2" text-anchor="start" font-weight="normal" fill="#333" stroke="#333" stroke-width="0" >15</text>
<line x1="539.20" y1="86.50" x2="540.40" y2="86.50" stroke="#555" stroke-width="0.4" />
<text x="541.30" y="88.00" font-size="4.2" text-anchor="start" font-weight="normal" fill="#333" stroke="#333" stroke-width="0" >10</text>
<line x1="539.20" y1="102.60" x2="540.40" y2="102.60" stroke="#555" stroke-width="0.4" />
<text x="541.30" y="104.10" font-size="4.2" text-anchor="start" font-weight="normal" fill="#333" stroke="#333" stroke-width="0" >5</text>
<line x1="539.20" y1="118.70" x2="540.40" y2="118.70" stroke="#555" stroke-width="0.4" />
<text x="541.30" y="120.20" font-size="4.2" text-anchor="start" font-weight="normal" fill="#333" stroke="#333" stroke-width="0" >0</text>
<text transform="translate(535.40,70.40) rotate(90)" x="0" y="0" font-size="5.4" text-anchor="middle" fill="#1a1a1a" opacity="0.85">speed (cm/s)</text>
<text x="492.60" y="20.30" font-size="9.1" text-anchor="middle" font-weight="normal" fill="#222" stroke="#222" stroke-width="0.22" >LED OFF</text>
<text x="438.60" y="31.70" font-size="10.1" text-anchor="start" font-weight="normal" fill="#222" stroke="#222" stroke-width="0.22" >Food Port</text>
<polyline points="462.30,49.30 463.42,48.24 464.97,46.71 466.81,44.98 468.78,43.32 470.70,42.00 472.66,41.07 474.78,40.34 476.92,39.76 478.96,39.23 480.80,38.70 482.48,38.14 484.08,37.60 485.53,37.11 486.73,36.70 487.60,36.40" fill="none" stroke="#f0e03c" stroke-width="0.7" stroke-linejoin="round" />
<polyline points="462.50,47.10 462.57,49.19 462.67,52.19 462.78,55.61 462.86,58.95 462.90,61.70 462.86,63.90 462.76,65.87 462.64,67.58 462.54,68.97 462.50,70.00 462.54,70.53 462.62,70.60 462.73,70.40 462.83,70.13 462.90,70.00" fill="none" stroke="#f0e03c" stroke-width="0.7" stroke-linejoin="round" />
<polyline points="462.30,49.30 463.28,50.76 464.67,52.87 466.29,55.27 467.98,57.60 469.60,59.50 471.19,60.93 472.86,62.14 474.52,63.18 476.10,64.11 477.50,65.00 478.74,65.77 479.87,66.38 480.88,66.95 481.76,67.58 482.50,68.40 483.08,69.54 483.50,70.94 483.80,72.37 484.02,73.63 484.20,74.50" fill="none" stroke="#f0e03c" stroke-width="0.7" stroke-linejoin="round" />
<polyline points="505.60,36.40 506.94,36.73 508.91,37.18 511.10,37.74 513.13,38.41 514.60,39.20 515.39,40.16 515.77,41.28 515.91,42.49 515.99,43.72 516.20,44.90 516.54,46.10 516.90,47.36 517.26,48.59 517.60,49.67 517.90,50.50 518.20,50.92 518.51,51.00 518.78,50.97 518.96,51.09 519.00,51.60 518.93,52.58 518.78,53.87 518.50,55.34 518.06,56.86 517.40,58.30 516.50,59.69 515.39,61.12 514.10,62.54 512.69,63.89 511.20,65.10 509.60,66.17 507.85,67.15 506.01,68.03 504.12,68.85 502.20,69.60 500.22,70.28 498.13,70.88 496.03,71.41 494.00,71.91 492.10,72.40 490.40,72.83 488.83,73.18 487.33,73.52 485.82,73.94 484.20,74.50 482.47,75.23 480.68,76.07 478.85,77.01 477.02,77.99 475.20,79.00 473.26,80.14 471.17,81.43 469.15,82.71 467.42,83.82 466.20,84.60" fill="none" stroke="#f0e03c" stroke-width="0.7" stroke-linejoin="round" />
<polyline points="462.90,70.00 463.35,71.59 463.98,73.88 464.71,76.50 465.48,79.06 466.20,81.20 466.84,82.86 467.45,84.29 468.08,85.58 468.78,86.79 469.60,88.00 470.58,89.16 471.68,90.22 472.85,91.25 474.04,92.35 475.20,93.60 476.30,95.05 477.38,96.65 478.47,98.32 479.60,99.96 480.80,101.50 482.10,102.92 483.49,104.26 484.91,105.57 486.30,106.87 487.60,108.20 488.89,109.66 490.20,111.24 491.42,112.76 492.46,114.07 493.20,115.00" fill="none" stroke="#f0e03c" stroke-width="0.7" stroke-linejoin="round" />
<polyline points="467.40,70.00 467.63,70.58 467.91,71.44 468.29,72.39 468.84,73.27 469.60,73.90 470.71,74.29 472.14,74.54 473.68,74.66 475.13,74.65 476.30,74.50 477.17,74.11 477.87,73.49 478.43,72.78 478.87,72.14 479.20,71.70" fill="none" stroke="#f0e03c" stroke-width="0.7" stroke-linejoin="round" />
<polyline points="484.20,74.50 484.38,75.37 484.64,76.59 484.92,78.03 485.16,79.61 485.30,81.20 485.32,82.85 485.27,84.63 485.16,86.49 485.00,88.36 484.80,90.20 484.56,92.05 484.29,93.96 483.96,95.84 483.57,97.62 483.10,99.20 482.56,100.57 481.97,101.79 481.30,102.88 480.55,103.88 479.70,104.80 478.70,105.62 477.57,106.32 476.37,106.95 475.18,107.56 474.10,108.20 473.06,108.93 472.00,109.72 471.02,110.48 470.19,111.14 469.60,111.60" fill="none" stroke="#f0e03c" stroke-width="0.7" stroke-linejoin="round" />
<polyline points="477.50,97.00 477.74,95.68 478.06,93.75 478.47,91.59 479.01,89.55 479.70,88.00 480.57,87.03 481.58,86.38 482.73,85.94 483.98,85.59 485.30,85.20 486.72,84.71 488.24,84.20 489.85,83.76 491.51,83.50 493.20,83.50 494.97,83.84 496.83,84.44 498.71,85.22 500.53,86.07 502.20,86.90 503.76,87.70 505.26,88.53 506.65,89.40 507.88,90.32 508.90,91.30 509.59,92.38 509.98,93.54 510.25,94.74 510.60,95.92 511.20,97.00 512.20,98.05 513.47,99.10 514.80,100.08 515.99,100.91 516.80,101.50" fill="none" stroke="#f0e03c" stroke-width="0.7" stroke-linejoin="round" />
<polyline points="461.70,89.10 461.48,89.82 461.12,90.83 460.77,92.03 460.55,93.34 460.60,94.70 461.05,96.13 461.80,97.70 462.67,99.34 463.47,100.99 464.00,102.60 464.18,104.22 464.14,105.89 464.00,107.52 463.91,109.05 464.00,110.40 464.33,111.58 464.83,112.65 465.37,113.58 465.87,114.34 466.20,114.90" fill="none" stroke="#f0e03c" stroke-width="0.7" stroke-linejoin="round" />
<polyline points="465.10,112.70 468.15,112.81 472.36,112.98 477.40,113.16 482.96,113.29 488.70,113.30 495.33,113.16 503.07,112.89 510.86,112.58 517.66,112.29 522.40,112.10" fill="none" stroke="#f0e03c" stroke-width="0.7" stroke-linejoin="round" />
<polyline points="469.60,114.40 473.79,114.48 479.74,114.61 486.63,114.75 493.66,114.86 500.00,114.90 506.03,114.86 512.30,114.75 518.24,114.61 523.30,114.48 526.90,114.40" fill="none" stroke="#f0e03c" stroke-width="0.7" stroke-linejoin="round" />
<polyline points="471.90,106.50 472.94,106.33 474.40,106.04 476.12,105.78 477.94,105.72 479.70,106.00 481.57,106.82 483.65,108.07 485.69,109.47 487.46,110.74 488.70,111.60" fill="none" stroke="#f0e03c" stroke-width="0.7" stroke-linejoin="round" />
<polyline points="492.10,111.60 493.47,110.81 495.41,109.69 497.68,108.39 500.02,107.11 502.20,106.00 504.27,105.06 506.40,104.17 508.50,103.36 510.50,102.63 512.30,102.00 513.96,101.49 515.55,101.07 516.97,100.75 518.14,100.49 519.00,100.30" fill="none" stroke="#f0e03c" stroke-width="0.7" stroke-linejoin="round" />
<polyline points="526.90,81.20 525.94,82.46 524.54,84.26 522.96,86.33 521.44,88.40 520.20,90.20 519.25,91.81 518.44,93.40 517.76,94.88 517.21,96.11 516.80,97.00" fill="none" stroke="#f0e03c" stroke-width="0.7" stroke-linejoin="round" />
<polyline points="528.00,55.00 527.92,56.96 527.79,59.68 527.65,62.92 527.54,66.44 527.50,70.00 527.55,73.60 527.67,77.40 527.82,81.40 527.94,85.60 528.00,90.00 527.97,95.08 527.89,100.84 527.77,106.56 527.67,111.52 527.60,115.00" fill="none" stroke="#f0e03c" stroke-width="0.7" stroke-linejoin="round" />
<polyline points="522.40,45.00 522.32,47.04 522.20,49.92 522.08,53.28 522.00,56.76 522.00,60.00 522.13,63.24 522.35,66.72 522.60,70.08 522.84,72.96 523.00,75.00" fill="none" stroke="#f0e03c" stroke-width="0.7" stroke-linejoin="round" />
<polyline points="460.36,34.43 461.79,35.27 462.39,36.76 462.59,38.18 462.97,39.40" fill="none" stroke="#5ec962" stroke-width="0.5" stroke-linejoin="round" />
<polyline points="462.97,39.40 461.90,42.22 461.26,43.40 460.94,44.26 460.34,46.49 461.03,46.80 463.26,47.16 464.14,48.61" fill="none" stroke="#3b528b" stroke-width="0.5" stroke-linejoin="round" />
<polyline points="464.14,48.61 466.12,48.21 467.18,46.49 468.39,45.85" fill="none" stroke="#5ec962" stroke-width="0.5" stroke-linejoin="round" />
<polyline points="468.39,45.85 467.50,43.38 469.28,43.42 471.76,41.08 468.22,41.21 469.27,38.55" fill="none" stroke="#3b528b" stroke-width="0.5" stroke-linejoin="round" />
<polyline points="469.27,38.55 469.50,37.14 466.68,37.32 465.74,35.83" fill="none" stroke="#3b528b" stroke-width="0.5" stroke-linejoin="round" />
<polyline points="465.74,35.83 465.81,34.10 463.88,32.76 464.18,34.47" fill="none" stroke="#21918c" stroke-width="0.5" stroke-linejoin="round" />
<polyline points="464.18,34.47 465.92,37.02 463.99,37.16 463.92,36.18" fill="none" stroke="#21918c" stroke-width="0.5" stroke-linejoin="round" />
<polyline points="463.92,36.18 463.20,39.36 463.57,40.55 466.47,40.02 464.53,42.53" fill="none" stroke="#21918c" stroke-width="0.5" stroke-linejoin="round" />
<polyline points="464.53,42.53 467.25,43.88 467.31,44.11 467.79,46.26" fill="none" stroke="#5ec962" stroke-width="0.5" stroke-linejoin="round" />
<polyline points="467.79,46.26 469.83,45.70 470.79,47.54 471.00,49.00" fill="none" stroke="#21918c" stroke-width="0.5" stroke-linejoin="round" />
<polyline points="476.09,29.81 479.59,27.18 480.39,27.48 482.05,28.16 484.12,28.96 487.81,28.33 485.88,31.90 485.50,33.74" fill="none" stroke="#3b528b" stroke-width="0.5" stroke-linejoin="round" />
<polyline points="485.50,33.74 489.29,32.86 488.18,35.91 489.66,34.86 490.44,37.47 489.86,40.29 494.68,36.92 496.40,39.45" fill="none" stroke="#5ec962" stroke-width="0.5" stroke-linejoin="round" />
<polyline points="496.40,39.45 495.32,40.82 497.41,40.13 496.52,43.55 500.56,43.31 498.33,43.92" fill="none" stroke="#5ec962" stroke-width="0.5" stroke-linejoin="round" />
<polyline points="498.33,43.92 500.23,43.91 502.70,43.50 503.38,42.99 504.37,40.37 503.87,38.49" fill="none" stroke="#3b528b" stroke-width="0.5" stroke-linejoin="round" />
<polyline points="503.87,38.49 504.87,38.33 504.77,35.71 508.10,35.99 509.18,36.60 509.78,34.52 512.75,35.33" fill="none" stroke="#3b528b" stroke-width="0.5" stroke-linejoin="round" />
<polyline points="512.75,35.33 513.49,34.28 515.04,31.61 512.98,32.14" fill="none" stroke="#5ec962" stroke-width="0.5" stroke-linejoin="round" />
<polyline points="512.98,32.14 511.69,33.21 510.33,31.52 508.05,32.13 506.82,34.43" fill="none" stroke="#3b528b" stroke-width="0.5" stroke-linejoin="round" />
<polyline points="506.82,34.43 505.17,33.58 503.88,33.55 501.62,35.71 500.57,33.56 497.70,35.11 496.90,35.48" fill="none" stroke="#3b528b" stroke-width="0.5" stroke-linejoin="round" />
<polyline points="496.90,35.48 495.21,34.75 494.18,34.57 492.85,31.74 490.78,32.35 489.05,30.09 490.59,32.89" fill="none" stroke="#b0dd2f" stroke-width="0.5" stroke-linejoin="round" />
<polyline points="490.59,32.89 488.29,33.96 488.07,35.54 489.95,39.98 487.33,37.45 487.70,38.47 489.13,38.82" fill="none" stroke="#21918c" stroke-width="0.5" stroke-linejoin="round" />
<polyline points="489.13,38.82 490.35,40.64 489.78,42.72 490.74,43.88 491.68,45.54 493.24,44.32 494.39,49.13 495.36,48.09" fill="none" stroke="#b0dd2f" stroke-width="0.5" stroke-linejoin="round" />
<polyline points="495.36,48.09 497.22,47.53 499.61,46.08 500.55,47.71" fill="none" stroke="#3b528b" stroke-width="0.5" stroke-linejoin="round" />
<polyline points="500.55,47.71 502.00,48.00" fill="none" stroke="#3b528b" stroke-width="0.5" stroke-linejoin="round" />
<polyline points="522.06,44.44 520.74,44.94 521.87,45.78 521.04,47.12 520.20,45.17 519.17,43.43 519.23,42.53" fill="none" stroke="#5ec962" stroke-width="0.5" stroke-linejoin="round" />
<polyline points="519.23,42.53 518.59,42.46 518.09,42.36 518.00,40.95 519.36,40.76 520.85,41.17" fill="none" stroke="#5ec962" stroke-width="0.5" stroke-linejoin="round" />
<polyline points="520.85,41.17 520.32,42.86 520.08,44.15 519.94,44.21 519.85,43.64" fill="none" stroke="#5ec962" stroke-width="0.5" stroke-linejoin="round" />
<polyline points="519.85,43.64 518.90,41.44 520.73,41.33 520.61,39.96 518.32,39.42 518.00,38.40 518.00,37.51" fill="none" stroke="#3b528b" stroke-width="0.5" stroke-linejoin="round" />
<polyline points="518.00,37.51 518.00,36.18 518.20,36.03 519.01,36.17 518.00,38.80" fill="none" stroke="#3b528b" stroke-width="0.5" stroke-linejoin="round" />
<polyline points="518.00,38.80 518.00,38.93 520.75,38.42 520.74,38.59 520.26,40.00 519.17,39.75 518.00,38.96" fill="none" stroke="#3b528b" stroke-width="0.5" stroke-linejoin="round" />
<polyline points="518.00,38.96 518.98,40.53 518.00,40.46 520.08,39.52 519.60,38.35 522.25,37.47 521.26,36.43 521.56,35.00" fill="none" stroke="#21918c" stroke-width="0.5" stroke-linejoin="round" />
<polyline points="521.56,35.00 519.99,34.00 519.87,34.19 519.30,34.00" fill="none" stroke="#5ec962" stroke-width="0.5" stroke-linejoin="round" />
<polyline points="519.30,34.00 518.00,35.27 518.46,34.00 518.00,36.24 520.95,35.71 522.03,34.05 523.15,35.90" fill="none" stroke="#2c728e" stroke-width="0.5" stroke-linejoin="round" />
<polyline points="523.15,35.90 523.93,36.78 524.52,37.59 524.83,38.37" fill="none" stroke="#2c728e" stroke-width="0.5" stroke-linejoin="round" />
<polyline points="524.83,38.37 524.45,40.74 524.64,42.01 523.43,43.13" fill="none" stroke="#5ec962" stroke-width="0.5" stroke-linejoin="round" />
<polyline points="523.43,43.13 522.96,40.98 522.77,39.49 522.03,38.11 521.66,35.55 522.39,34.00 523.11,34.00" fill="none" stroke="#5ec962" stroke-width="0.5" stroke-linejoin="round" />
<polyline points="523.11,34.00 523.09,35.02 523.84,36.06 524.03,35.64 523.26,35.60 523.23,35.65 522.88,36.66" fill="none" stroke="#2c728e" stroke-width="0.5" stroke-linejoin="round" />
<polyline points="522.88,36.66 523.21,37.87 524.05,38.30 526.18,37.40 527.14,36.09 528.29,35.25 529.00,35.80" fill="none" stroke="#3b528b" stroke-width="0.5" stroke-linejoin="round" />
<polyline points="529.00,35.80 527.77,34.13 525.92,34.53 524.09,34.00 525.07,34.88" fill="none" stroke="#21918c" stroke-width="0.5" stroke-linejoin="round" />
<polyline points="525.07,34.88 523.78,36.65 523.13,38.40 523.57,39.57 522.92,41.66 523.78,42.33 524.38,41.36 525.81,41.87" fill="none" stroke="#5ec962" stroke-width="0.5" stroke-linejoin="round" />
<polyline points="525.81,41.87 525.33,43.65 523.20,43.56 521.77,42.42 521.21,43.23 521.74,44.90 522.61,45.48 523.54,45.69" fill="none" stroke="#3b528b" stroke-width="0.5" stroke-linejoin="round" />
<polyline points="523.54,45.69 522.60,47.41 525.42,49.17 524.40,50.47 524.40,50.46 526.71,50.39 527.19,48.91" fill="none" stroke="#21918c" stroke-width="0.5" stroke-linejoin="round" />
<polyline points="527.19,48.91 527.39,48.79 528.69,48.16 528.51,45.93 527.50,46.37 526.76,45.32 525.50,47.49" fill="none" stroke="#21918c" stroke-width="0.5" stroke-linejoin="round" />
<polyline points="525.50,47.49 524.84,46.78 526.82,45.49 525.87,45.07" fill="none" stroke="#5ec962" stroke-width="0.5" stroke-linejoin="round" />
<polyline points="525.87,45.07 525.74,43.18 527.03,41.48 527.12,41.38 529.00,40.60 527.53,41.18" fill="none" stroke="#5ec962" stroke-width="0.5" stroke-linejoin="round" />
<polyline points="527.53,41.18 524.84,42.57 523.89,41.66 522.69,40.09" fill="none" stroke="#2c728e" stroke-width="0.5" stroke-linejoin="round" />
<polyline points="522.69,40.09 524.17,38.46 525.59,40.79 524.41,41.93" fill="none" stroke="#2c728e" stroke-width="0.5" stroke-linejoin="round" />
<polyline points="524.41,41.93 522.92,42.24 522.54,40.13 520.88,39.48" fill="none" stroke="#5ec962" stroke-width="0.5" stroke-linejoin="round" />
<polyline points="520.88,39.48 520.11,39.06 520.38,37.10 518.65,38.01 519.57,39.47 521.45,37.14 520.20,36.57 518.98,35.99" fill="none" stroke="#3b528b" stroke-width="0.5" stroke-linejoin="round" />
<polyline points="518.98,35.99 518.00,36.46" fill="none" stroke="#3b528b" stroke-width="0.5" stroke-linejoin="round" />
<polyline points="525.47,59.86 524.92,60.61 526.31,60.98 528.56,61.67 528.51,59.89 528.13,59.99" fill="none" stroke="#5ec962" stroke-width="0.5" stroke-linejoin="round" />
<polyline points="528.13,59.99 528.86,62.08 529.00,62.08 528.67,61.97 526.87,62.21 526.68,60.65 525.10,59.74" fill="none" stroke="#21918c" stroke-width="0.5" stroke-linejoin="round" />
<polyline points="525.10,59.74 523.31,60.33 523.00,58.58 525.21,57.49 525.91,56.33 524.41,56.06 523.85,57.20" fill="none" stroke="#3b528b" stroke-width="0.5" stroke-linejoin="round" />
<polyline points="523.85,57.20 524.17,58.05 524.15,59.07 523.00,59.52 523.69,61.01" fill="none" stroke="#3b528b" stroke-width="0.5" stroke-linejoin="round" />
<polyline points="523.69,61.01 524.51,63.41 523.03,63.78 523.33,62.82 523.00,62.72" fill="none" stroke="#3b528b" stroke-width="0.5" stroke-linejoin="round" />
<polyline points="523.00,62.72 523.00,60.54 523.26,57.92 525.03,57.35 527.07,57.37" fill="none" stroke="#5ec962" stroke-width="0.5" stroke-linejoin="round" />
<polyline points="527.07,57.37 527.82,58.26 528.07,59.13 526.93,59.56 526.95,59.01" fill="none" stroke="#3b528b" stroke-width="0.5" stroke-linejoin="round" />
<polyline points="526.95,59.01 525.27,59.59 525.08,59.47 525.16,59.27 524.74,58.60 523.66,60.63 523.10,62.32" fill="none" stroke="#5ec962" stroke-width="0.5" stroke-linejoin="round" />
<polyline points="523.10,62.32 525.01,62.22 525.85,64.01 527.43,65.22 525.93,66.95" fill="none" stroke="#21918c" stroke-width="0.5" stroke-linejoin="round" />
<polyline points="525.93,66.95 524.34,68.13 523.24,66.21" fill="none" stroke="#3b528b" stroke-width="0.5" stroke-linejoin="round" />
<polyline points="520.65,102.63 521.93,104.51 520.14,105.12 519.24,103.75 518.79,102.75 517.06,102.45 516.17,104.14" fill="none" stroke="#440154" stroke-width="0.5" stroke-linejoin="round" />
<polyline points="516.17,104.14 515.50,102.56 515.89,102.78 516.73,101.89 519.22,102.39" fill="none" stroke="#440154" stroke-width="0.5" stroke-linejoin="round" />
<polyline points="519.22,102.39 518.87,104.18 518.03,105.28 516.89,105.47 515.50,105.90 515.62,102.98 515.87,101.98" fill="none" stroke="#21918c" stroke-width="0.5" stroke-linejoin="round" />
<polyline points="515.87,101.98 515.50,100.05 516.31,100.79 515.75,101.45 515.50,102.10 517.41,102.35 517.55,104.47 519.79,103.23" fill="none" stroke="#21918c" stroke-width="0.5" stroke-linejoin="round" />
<polyline points="519.79,103.23 519.98,101.35 520.22,100.43 521.33,101.74" fill="none" stroke="#21918c" stroke-width="0.5" stroke-linejoin="round" />
<polyline points="521.33,101.74 522.39,101.20 524.23,101.42 524.79,100.76 524.56,98.23 524.88,96.38 523.49,96.64" fill="none" stroke="#3b528b" stroke-width="0.5" stroke-linejoin="round" />
<polyline points="523.49,96.64 523.17,98.31 523.67,98.66 525.61,98.39 524.34,96.45 525.20,96.00 524.85,96.38" fill="none" stroke="#440154" stroke-width="0.5" stroke-linejoin="round" />
<polyline points="524.85,96.38 524.05,96.00 522.96,96.00 522.82,96.00 520.34,96.00" fill="none" stroke="#3b528b" stroke-width="0.5" stroke-linejoin="round" />
<polyline points="520.34,96.00 519.84,96.00 519.64,98.04 519.89,98.06" fill="none" stroke="#21918c" stroke-width="0.5" stroke-linejoin="round" />
<polyline points="519.89,98.06 522.11,96.29 520.19,96.00 519.17,96.00 519.13,97.52" fill="none" stroke="#440154" stroke-width="0.5" stroke-linejoin="round" />
<polyline points="519.13,97.52 517.52,96.47 515.91,96.07 516.17,97.90 517.59,97.85" fill="none" stroke="#5ec962" stroke-width="0.5" stroke-linejoin="round" />
<polyline points="517.59,97.85 517.02,96.76 516.21,96.00 519.95,97.71 521.40,98.61 520.61,98.98 519.20,99.82 521.17,101.08" fill="none" stroke="#21918c" stroke-width="0.5" stroke-linejoin="round" />
<polyline points="521.17,101.08 522.75,101.43 522.41,104.53 522.20,106.66" fill="none" stroke="#3b528b" stroke-width="0.5" stroke-linejoin="round" />
<polyline points="522.20,106.66 523.66,107.53 524.96,106.33 522.88,104.11 521.90,106.34" fill="none" stroke="#440154" stroke-width="0.5" stroke-linejoin="round" />
<polyline points="521.90,106.34 521.26,105.33 519.20,103.99 519.48,103.05 520.73,102.78" fill="none" stroke="#440154" stroke-width="0.5" stroke-linejoin="round" />
<polyline points="520.73,102.78 520.88,101.17 523.76,101.65 524.30,101.32 526.20,101.58 526.23,102.19" fill="none" stroke="#440154" stroke-width="0.5" stroke-linejoin="round" />
<polyline points="526.23,102.19 526.16,103.17 526.72,103.58 525.24,104.72" fill="none" stroke="#21918c" stroke-width="0.5" stroke-linejoin="round" />
<polyline points="525.24,104.72 525.01,103.22 526.43,103.67 525.77,104.91" fill="none" stroke="#21918c" stroke-width="0.5" stroke-linejoin="round" />
<polyline points="525.77,104.91 528.18,106.00 528.26,104.61 527.29,104.45 527.01,103.59 528.62,103.58 528.17,105.17 529.50,104.64" fill="none" stroke="#3b528b" stroke-width="0.5" stroke-linejoin="round" />
<polyline points="529.50,104.64 529.50,103.29 529.50,102.39 529.50,101.54 528.25,101.86" fill="none" stroke="#5ec962" stroke-width="0.5" stroke-linejoin="round" />
<polyline points="528.25,101.86 528.15,100.83 528.80,100.51 527.35,99.52 527.24,100.43" fill="none" stroke="#440154" stroke-width="0.5" stroke-linejoin="round" />
<polyline points="527.24,100.43 526.12,100.26 524.47,99.06 524.96,97.00 525.93,96.00 524.42,96.76 525.02,97.45 524.29,98.65" fill="none" stroke="#21918c" stroke-width="0.5" stroke-linejoin="round" />
<polyline points="524.29,98.65 524.76,100.27 522.38,99.80 522.41,102.15" fill="none" stroke="#3b528b" stroke-width="0.5" stroke-linejoin="round" />
<polyline points="522.41,102.15 520.17,101.90 519.87,101.85 519.46,99.71 517.78,100.69 517.55,101.95 517.09,101.90 516.66,104.07" fill="none" stroke="#5ec962" stroke-width="0.5" stroke-linejoin="round" />
<polyline points="516.66,104.07 515.50,103.59 517.38,103.01 517.43,102.93 518.62,102.84" fill="none" stroke="#3b528b" stroke-width="0.5" stroke-linejoin="round" />
<polyline points="518.62,102.84 517.83,101.86 516.18,100.07 516.44,98.78 515.50,97.79 516.04,98.43" fill="none" stroke="#5ec962" stroke-width="0.5" stroke-linejoin="round" />
<polyline points="516.04,98.43 515.50,98.76 516.40,99.50 517.11,99.41 517.10,99.45 518.41,100.87 517.01,102.05 516.64,102.56" fill="none" stroke="#440154" stroke-width="0.5" stroke-linejoin="round" />
<polyline points="516.64,102.56 518.03,103.53 518.25,104.42 520.12,103.86 520.99,105.43 523.02,104.69 524.22,104.67" fill="none" stroke="#3b528b" stroke-width="0.5" stroke-linejoin="round" />
<polyline points="524.22,104.67 525.29,103.81 525.91,102.58 527.32,104.07 529.50,104.21" fill="none" stroke="#21918c" stroke-width="0.5" stroke-linejoin="round" />
<polyline points="529.50,104.21 528.46,105.60 527.65,104.20 529.26,102.99 529.34,103.34 529.50,103.21 528.46,102.67 529.50,101.51" fill="none" stroke="#5ec962" stroke-width="0.5" stroke-linejoin="round" />
<polyline points="529.50,101.51 529.33,101.75 528.31,102.04 527.79,101.92 527.92,100.86 527.02,97.83 527.39,96.00 528.15,96.51" fill="none" stroke="#21918c" stroke-width="0.5" stroke-linejoin="round" />
<polyline points="528.15,96.51 529.09,96.00 526.75,96.87 526.58,96.00 524.55,96.00 523.68,97.23 524.84,98.42" fill="none" stroke="#21918c" stroke-width="0.5" stroke-linejoin="round" />
<polyline points="524.84,98.42 525.55,99.45 526.17,99.70" fill="none" stroke="#5ec962" stroke-width="0.5" stroke-linejoin="round" />
<polyline points="459.70,111.65 460.03,108.84 463.50,110.64 463.17,108.05" fill="none" stroke="#5ec962" stroke-width="0.5" stroke-linejoin="round" />
<polyline points="463.17,108.05 463.70,106.38 465.51,105.83 467.08,107.13 467.48,108.16 468.12,110.48 469.05,111.26" fill="none" stroke="#3b528b" stroke-width="0.5" stroke-linejoin="round" />
<polyline points="469.05,111.26 468.64,113.06 468.90,114.44 472.63,113.09 471.43,116.39 469.28,115.41 467.26,115.72 466.62,114.63" fill="none" stroke="#b0dd2f" stroke-width="0.5" stroke-linejoin="round" />
<polyline points="466.62,114.63 465.13,114.37 463.53,115.00 462.00,114.00" fill="none" stroke="#b0dd2f" stroke-width="0.5" stroke-linejoin="round" />
<polyline points="483.73,27.80 482.63,29.50 481.78,28.14 482.19,27.53 481.18,25.25 482.37,24.50 482.96,25.13 482.85,27.05" fill="none" stroke="#3b528b" stroke-width="0.9" stroke-linejoin="round" />
<polyline points="482.85,27.05 480.50,27.47 481.78,25.98 482.23,26.33 484.90,26.14 485.50,28.35" fill="none" stroke="#3b528b" stroke-width="0.9" stroke-linejoin="round" />
<polyline points="485.50,28.35 485.38,29.50 485.50,27.90 483.00,27.60 482.53,28.83 482.06,29.09 481.25,26.32 481.05,25.43" fill="none" stroke="#440154" stroke-width="0.9" stroke-linejoin="round" />
<polyline points="481.05,25.43 481.70,25.11 481.53,27.38" fill="none" stroke="#440154" stroke-width="0.9" stroke-linejoin="round" />
<polyline points="510.82,115.68 508.88,117.18 508.13,115.73 507.64,116.18" fill="none" stroke="#3b528b" stroke-width="0.5" stroke-linejoin="round" />
<polyline points="507.64,116.18 508.82,116.64 510.18,116.42 510.75,117.04 512.01,116.02" fill="none" stroke="#3b528b" stroke-width="0.5" stroke-linejoin="round" />
<polyline points="512.01,116.02 513.56,114.84 513.76,115.36 514.47,115.96" fill="none" stroke="#21918c" stroke-width="0.5" stroke-linejoin="round" />
<polyline points="514.47,115.96 514.03,117.99 512.40,118.50 512.42,117.17 510.94,116.25 509.93,117.13 511.24,118.50 512.70,118.50" fill="none" stroke="#3b528b" stroke-width="0.5" stroke-linejoin="round" />
<polyline points="512.70,118.50 513.31,117.20 514.23,115.04 515.62,116.03 516.00,114.88 515.81,113.50" fill="none" stroke="#3b528b" stroke-width="0.5" stroke-linejoin="round" />
<polyline points="515.81,113.50 516.00,113.55 516.00,115.17 515.14,116.87" fill="none" stroke="#21918c" stroke-width="0.5" stroke-linejoin="round" />
<polyline points="515.14,116.87 514.42,118.33 513.71,117.69" fill="none" stroke="#3b528b" stroke-width="0.5" stroke-linejoin="round" />
<polyline points="482.32,85.23 481.67,86.52 481.86,87.69 482.51,89.24" fill="none" stroke="#5ec962" stroke-width="0.5" stroke-linejoin="round" />
<polyline points="482.51,89.24 482.42,90.75 482.47,91.98 483.29,93.77 481.63,95.92 481.50,97.00" fill="none" stroke="#5ec962" stroke-width="0.5" stroke-linejoin="round" />
<rect x="566.10" y="22.10" width="93.20" height="96.60" fill="#ffffff" />
<line x1="566.10" y1="33.29" x2="659.30" y2="33.29" stroke="#b4b4b4" stroke-width="0.6" />
<line x1="564.30" y1="33.29" x2="566.10" y2="33.29" stroke="#555" stroke-width="0.5" />
<line x1="566.10" y1="45.04" x2="659.30" y2="45.04" stroke="#d6d6d6" stroke-width="0.6" />
<line x1="564.30" y1="45.04" x2="566.10" y2="45.04" stroke="#555" stroke-width="0.5" />
<line x1="566.10" y1="56.60" x2="659.30" y2="56.60" stroke="#b4b4b4" stroke-width="0.6" />
<line x1="564.30" y1="56.60" x2="566.10" y2="56.60" stroke="#555" stroke-width="0.5" />
<line x1="566.10" y1="67.97" x2="659.30" y2="67.97" stroke="#d6d6d6" stroke-width="0.6" />
<line x1="564.30" y1="67.97" x2="566.10" y2="67.97" stroke="#555" stroke-width="0.5" />
<line x1="566.10" y1="79.53" x2="659.30" y2="79.53" stroke="#b4b4b4" stroke-width="0.6" />
<line x1="564.30" y1="79.53" x2="566.10" y2="79.53" stroke="#555" stroke-width="0.5" />
<line x1="566.10" y1="91.09" x2="659.30" y2="91.09" stroke="#d6d6d6" stroke-width="0.6" />
<line x1="564.30" y1="91.09" x2="566.10" y2="91.09" stroke="#555" stroke-width="0.5" />
<line x1="566.10" y1="102.84" x2="659.30" y2="102.84" stroke="#b4b4b4" stroke-width="0.6" />
<line x1="564.30" y1="102.84" x2="566.10" y2="102.84" stroke="#555" stroke-width="0.5" />
<line x1="566.10" y1="114.40" x2="659.30" y2="114.40" stroke="#d6d6d6" stroke-width="0.6" />
<line x1="564.30" y1="114.40" x2="566.10" y2="114.40" stroke="#555" stroke-width="0.5" />
<line x1="570.39" y1="22.10" x2="570.39" y2="118.70" stroke="#c6c6c6" stroke-width="0.6" />
<line x1="570.39" y1="118.70" x2="570.39" y2="120.30" stroke="#555" stroke-width="0.5" />
<line x1="581.58" y1="22.10" x2="581.58" y2="118.70" stroke="#dcdcdc" stroke-width="0.6" />
<line x1="581.58" y1="118.70" x2="581.58" y2="120.30" stroke="#555" stroke-width="0.5" />
<line x1="592.39" y1="22.10" x2="592.39" y2="118.70" stroke="#c6c6c6" stroke-width="0.6" />
<line x1="592.39" y1="118.70" x2="592.39" y2="120.30" stroke="#555" stroke-width="0.5" />
<line x1="603.39" y1="22.10" x2="603.39" y2="118.70" stroke="#dcdcdc" stroke-width="0.6" />
<line x1="603.39" y1="118.70" x2="603.39" y2="120.30" stroke="#555" stroke-width="0.5" />
<line x1="614.58" y1="22.10" x2="614.58" y2="118.70" stroke="#c6c6c6" stroke-width="0.6" />
<line x1="614.58" y1="118.70" x2="614.58" y2="120.30" stroke="#555" stroke-width="0.5" />
<line x1="625.40" y1="22.10" x2="625.40" y2="118.70" stroke="#dcdcdc" stroke-width="0.6" />
<line x1="625.40" y1="118.70" x2="625.40" y2="120.30" stroke="#555" stroke-width="0.5" />
<line x1="636.59" y1="22.10" x2="636.59" y2="118.70" stroke="#c6c6c6" stroke-width="0.6" />
<line x1="636.59" y1="118.70" x2="636.59" y2="120.30" stroke="#555" stroke-width="0.5" />
<line x1="647.77" y1="22.10" x2="647.77" y2="118.70" stroke="#dcdcdc" stroke-width="0.6" />
<line x1="647.77" y1="118.70" x2="647.77" y2="120.30" stroke="#555" stroke-width="0.5" />
<rect x="566.10" y="22.10" width="93.20" height="96.60" fill="none" stroke="#999" stroke-width="0.7"/>
<rect x="665.50" y="22.10" width="4.30" height="96.60" fill="url(#vir)"/>
<line x1="669.80" y1="22.10" x2="671.00" y2="22.10" stroke="#555" stroke-width="0.4" />
<text x="671.90" y="23.60" font-size="4.2" text-anchor="start" font-weight="normal" fill="#333" stroke="#333" stroke-width="0" >30</text>
<line x1="669.80" y1="38.20" x2="671.00" y2="38.20" stroke="#555" stroke-width="0.4" />
<text x="671.90" y="39.70" font-size="4.2" text-anchor="start" font-weight="normal" fill="#333" stroke="#333" stroke-width="0" >25</text>
<line x1="669.80" y1="54.30" x2="671.00" y2="54.30" stroke="#555" stroke-width="0.4" />
<text x="671.90" y="55.80" font-size="4.2" text-anchor="start" font-weight="normal" fill="#333" stroke="#333" stroke-width="0" >20</text>
<line x1="669.80" y1="70.40" x2="671.00" y2="70.40" stroke="#555" stroke-width="0.4" />
<text x="671.90" y="71.90" font-size="4.2" text-anchor="start" font-weight="normal" fill="#333" stroke="#333" stroke-width="0" >15</text>
<line x1="669.80" y1="86.50" x2="671.00" y2="86.50" stroke="#555" stroke-width="0.4" />
<text x="671.90" y="88.00" font-size="4.2" text-anchor="start" font-weight="normal" fill="#333" stroke="#333" stroke-width="0" >10</text>
<line x1="669.80" y1="102.60" x2="671.00" y2="102.60" stroke="#555" stroke-width="0.4" />
<text x="671.90" y="104.10" font-size="4.2" text-anchor="start" font-weight="normal" fill="#333" stroke="#333" stroke-width="0" >5</text>
<line x1="669.80" y1="118.70" x2="671.00" y2="118.70" stroke="#555" stroke-width="0.4" />
<text x="671.90" y="120.20" font-size="4.2" text-anchor="start" font-weight="normal" fill="#333" stroke="#333" stroke-width="0" >0</text>
<text transform="translate(666.30,70.40) rotate(90)" x="0" y="0" font-size="5.4" text-anchor="middle" fill="#1a1a1a" opacity="0.85">speed (cm/s)</text>
<text x="623.00" y="20.30" font-size="9.1" text-anchor="middle" font-weight="normal" fill="#222" stroke="#222" stroke-width="0.22" >LED ON</text>
<text x="574.80" y="31.20" font-size="10.1" text-anchor="start" font-weight="normal" fill="#222" stroke="#222" stroke-width="0.22" >Food Port</text>
<polyline points="598.43,91.10 602.77,87.68 608.43,82.95 610.18,79.31 604.12,78.23 594.16,78.24 586.78,77.29 584.63,73.81 585.04,69.36 586.50,66.62 589.07,66.77 592.67,68.63 595.57,71.28 596.60,74.48 596.93,78.46 598.28,83.00 602.01,88.82 606.75,95.20 610.17,99.72" fill="none" stroke="#f0e03c" stroke-width="0.6" stroke-linejoin="round" />
<polyline points="658.47,97.85 657.39,100.45 655.93,104.15 655.08,107.77 655.36,111.63 656.23,115.41 657.08,117.00 658.53,114.65 659.94,110.11 658.80,106.46 653.00,105.16 644.64,104.75 637.50,103.99 632.98,102.79 629.69,101.23 627.18,98.37 625.47,92.78 624.54,85.89 623.97,80.93" fill="none" stroke="#f0e03c" stroke-width="0.6" stroke-linejoin="round" />
<polyline points="621.54,49.11 625.29,52.42 630.60,57.23 635.55,62.58 639.34,69.12 642.78,76.21 646.39,80.84 650.87,80.22 655.52,77.15 658.80,77.13 659.72,83.88 659.26,93.68 658.80,100.84" fill="none" stroke="#f0e03c" stroke-width="0.6" stroke-linejoin="round" />
<polyline points="614.55,61.99 615.61,65.77 616.90,71.09 616.73,75.91 613.97,79.20 609.75,81.98 605.75,85.30 602.45,89.78 599.38,94.79 596.78,99.48 594.92,104.25 593.54,108.69 592.06,110.76 589.70,108.81 587.24,104.50 586.50,100.76 589.01,98.59 593.23,96.99 596.36,95.93" fill="none" stroke="#f0e03c" stroke-width="0.6" stroke-linejoin="round" />
<polyline points="624.25,81.22 622.32,84.36 619.37,88.79 615.10,92.94 608.41,96.05 600.40,98.87 594.02,102.09 590.54,106.55 588.69,111.40 587.55,114.84" fill="none" stroke="#f0e03c" stroke-width="0.6" stroke-linejoin="round" />
<polyline points="591.25,101.44 592.42,97.18 594.17,91.08 596.38,84.95 599.27,79.13 602.64,73.28 605.75,68.18 608.18,63.31 610.35,59.19 612.85,58.15 616.55,62.06 620.58,69.05 622.92,75.88 622.11,82.01 619.61,87.99 617.69,92.15" fill="none" stroke="#f0e03c" stroke-width="0.6" stroke-linejoin="round" />
<polyline points="654.19,54.03 651.86,49.67 648.39,43.84 643.99,40.73 638.24,43.12 631.56,48.24 625.39,51.94 620.43,52.49 615.99,51.61 611.43,50.32 606.33,48.90 601.12,47.06 596.46,45.03 591.58,42.70 587.26,40.17 586.50,37.93 592.32,36.09 601.70,34.55 608.62,33.50" fill="none" stroke="#f0e03c" stroke-width="0.6" stroke-linejoin="round" />
<polyline points="604.74,113.57 601.95,113.86 598.00,114.15 594.34,113.50 590.99,110.55 587.93,106.66 586.50,105.04 588.21,108.56 591.56,114.35 593.38,117.00 591.85,113.85 588.79,107.56 586.50,100.67 585.99,93.50 586.25,85.74 586.50,78.92 586.50,73.36 586.50,68.74 586.50,65.60" fill="none" stroke="#f0e03c" stroke-width="0.6" stroke-linejoin="round" />
<polyline points="587.24,90.72 590.20,88.94 594.55,86.63 599.86,85.95 606.53,89.04 614.16,93.76 621.07,95.80 627.02,92.31 632.27,86.16 635.87,81.58" fill="none" stroke="#f0e03c" stroke-width="0.6" stroke-linejoin="round" />
<polyline points="596.51,45.35 592.74,44.37 587.85,42.98 586.50,41.59 591.64,40.40 600.32,39.23 608.34,37.97 614.15,36.35 619.31,34.65 624.31,33.50 629.80,33.34 635.13,33.73 638.84,34.07" fill="none" stroke="#f0e03c" stroke-width="0.6" stroke-linejoin="round" />
<polyline points="599.80,65.05 598.91,59.66 597.55,52.28 595.64,47.07 591.78,46.11 587.36,47.33 586.50,48.62 592.61,49.41 602.27,50.28 609.40,50.90" fill="none" stroke="#f0e03c" stroke-width="0.6" stroke-linejoin="round" />
<polyline points="627.49,104.85 622.86,107.71 616.24,111.68 609.63,114.79 603.24,116.94 596.85,118.22 591.85,117.00 588.36,111.37 586.25,103.24 586.50,96.72 590.97,94.17 597.80,93.24 602.36,91.00 602.19,85.41 599.76,78.51 597.83,73.56" fill="none" stroke="#f0e03c" stroke-width="0.6" stroke-linejoin="round" />
<polyline points="609.92,76.66 609.87,79.61 609.62,83.75 608.05,87.39 603.38,89.77 597.41,91.63 594.39,93.52 596.97,95.53 602.52,97.55 607.40,99.82 610.45,102.81 612.84,106.05 614.45,108.35" fill="none" stroke="#f0e03c" stroke-width="0.6" stroke-linejoin="round" />
<polyline points="645.38,96.95 642.05,100.63 637.61,105.79 635.41,110.22 637.37,113.46 641.57,115.97 645.52,117.00 648.62,115.53 651.47,112.57 653.45,110.35" fill="none" stroke="#f0e03c" stroke-width="0.6" stroke-linejoin="round" />
<polyline points="589.54,56.51 588.53,55.54 587.18,53.99 586.50,51.34 587.26,46.58 588.68,40.72 589.44,36.23 588.45,34.07 586.80,33.28 586.50,33.50 588.35,35.41 591.55,38.32 595.74,39.83 601.10,37.97 607.45,34.71 613.88,33.50 620.83,36.63 627.86,41.81 632.78,45.65" fill="none" stroke="#f0e03c" stroke-width="0.6" stroke-linejoin="round" />
<polyline points="634.80,105.22 631.31,105.67 626.33,106.11 621.36,105.10 617.20,101.49 613.05,96.43 608.12,92.04 600.73,89.04 592.56,86.71 587.76,84.98 588.82,84.33 593.25,84.27 597.70,83.28 601.47,80.15 605.25,76.09 607.91,73.15" fill="none" stroke="#f0e03c" stroke-width="0.6" stroke-linejoin="round" />
<polyline points="626.50,40.14 621.54,41.91 614.51,44.59 607.80,48.27 601.94,53.49 596.40,59.73 592.00,65.51 588.79,70.13 586.73,74.30 586.50,78.72 589.48,83.57 594.29,88.66 597.53,94.17 597.41,100.90 595.72,108.06 594.37,113.46 594.08,115.94 594.13,116.67 594.20,117.00" fill="none" stroke="#f0e03c" stroke-width="0.6" stroke-linejoin="round" />
<polyline points="647.62,46.31 646.13,42.51 643.92,37.30 641.09,33.50 637.42,32.10 633.14,32.11 628.99,33.50 625.55,36.95 622.23,41.77 618.07,45.80 611.75,48.26 604.58,49.94 599.47,51.04" fill="none" stroke="#f0e03c" stroke-width="0.6" stroke-linejoin="round" />
<polyline points="593.65,114.93 599.70,115.54 608.08,116.39 614.64,117.00 617.62,117.78 618.78,118.33 619.25,117.00 618.45,112.31 616.97,105.75 617.63,100.06 622.24,96.22 629.00,93.26 635.27,91.06 640.47,89.71 645.19,89.12 648.43,88.78" fill="none" stroke="#f0e03c" stroke-width="0.6" stroke-linejoin="round" />
<polyline points="608.84,71.42 612.27,69.73 616.83,67.26 618.95,64.36 616.95,60.54 612.52,56.30 607.11,53.53 599.32,53.63 590.55,55.21 586.50,55.97 591.04,54.38 600.28,51.96 608.30,51.00 613.08,53.03 616.63,56.52 619.00,59.10" fill="none" stroke="#f0e03c" stroke-width="0.6" stroke-linejoin="round" />
<polyline points="620.32,99.61 617.21,99.59 612.90,99.28 609.50,97.00 608.31,90.99 608.03,83.00 606.86,76.54 603.49,73.02 599.24,71.03 596.17,69.79" fill="none" stroke="#f0e03c" stroke-width="0.6" stroke-linejoin="round" />
<polyline points="631.35,72.84 633.55,70.82 636.83,67.98 641.01,65.49 647.24,63.95 654.39,62.76 658.80,61.21 658.23,59.11 654.93,56.66 652.02,53.68 650.96,49.54 650.28,44.89 648.71,41.52 645.10,40.43 640.60,40.64 637.35,40.91" fill="none" stroke="#f0e03c" stroke-width="0.6" stroke-linejoin="round" />
<polyline points="598.22,82.37 600.80,85.06 604.14,88.87 605.03,92.51 601.12,96.20 594.75,99.72 589.73,101.09 587.45,99.15 586.52,95.06 586.50,90.32 587.91,84.79 590.22,78.62 591.44,73.69 589.96,70.95 587.38,69.45 586.50,68.31 589.19,67.24 593.58,66.52 596.82,66.05" fill="none" stroke="#f0e03c" stroke-width="0.6" stroke-linejoin="round" />
<polyline points="625.00,85.96 629.94,88.97 636.95,93.27 643.58,97.58 649.88,102.15 655.80,106.73 658.80,109.25 657.39,107.94 653.05,104.58 647.68,102.44 641.43,103.74 634.15,106.26 627.22,106.67 620.59,102.62 614.30,96.46 609.94,91.93" fill="none" stroke="#f0e03c" stroke-width="0.6" stroke-linejoin="round" />
<polyline points="614.71,112.14 619.06,113.84 625.28,116.07 631.54,117.00 637.50,115.48 643.50,112.65 648.72,110.14 653.46,108.04 657.42,106.26 658.80,106.13 655.97,109.05 650.57,113.63 645.67,117.00 642.17,117.81 639.18,117.40 637.13,117.00" fill="none" stroke="#f0e03c" stroke-width="0.6" stroke-linejoin="round" />
<polyline points="626.62,98.26 629.15,94.03 632.66,88.00 635.43,82.12 637.15,77.06 638.13,72.14 637.57,67.35 634.91,61.61 630.72,55.99 625.85,53.66 619.99,58.08 613.47,65.79 608.03,69.62 604.34,65.18 601.75,56.87 600.04,50.66" fill="none" stroke="#f0e03c" stroke-width="0.6" stroke-linejoin="round" />
<polyline points="640.01,95.44 637.97,97.82 635.17,101.26 633.20,104.97 633.55,109.59 634.72,114.48 633.76,117.00 628.68,115.77 621.47,112.17 615.20,107.62 611.32,101.99 608.37,95.41 605.14,89.74 600.64,85.51 595.84,82.19 592.45,79.95" fill="none" stroke="#f0e03c" stroke-width="0.6" stroke-linejoin="round" />
<polyline points="621.90,55.67 618.14,53.43 613.10,50.18 610.40,46.50 612.02,41.63 615.98,36.33 619.91,33.50 623.22,34.84 626.49,38.65 629.17,42.72 630.86,46.08 631.95,49.70 633.01,54.32 634.38,60.45 635.72,67.58 636.65,74.89 636.87,82.97 636.68,91.22 636.51,97.02" fill="none" stroke="#f0e03c" stroke-width="0.6" stroke-linejoin="round" />
<polyline points="621.64,106.13 623.54,100.50 626.26,92.88 629.08,88.20 631.85,88.89 634.72,92.52 637.35,96.68 639.24,101.01 640.89,105.86 643.50,110.00 648.32,113.00 654.09,115.28 658.27,116.82 659.52,117.77 659.19,117.98 658.80,117.00 658.84,113.89 658.82,109.59 658.80,106.46" fill="none" stroke="#f0e03c" stroke-width="0.6" stroke-linejoin="round" />
<polyline points="639.59,71.81 645.92,72.15 654.38,72.77 658.80,74.34 655.77,77.40 648.70,81.41 641.62,85.42 636.08,89.44 630.52,93.45 624.33,96.48 616.24,97.94 607.51,98.42 601.34,98.66" fill="none" stroke="#f0e03c" stroke-width="0.6" stroke-linejoin="round" />
<polyline points="615.90,31.00 617.53,31.32 619.84,31.76 622.52,32.28 625.31,32.84 627.90,33.40 630.38,33.98 632.94,34.61 635.45,35.26 637.81,35.87 639.90,36.40 641.59,36.88 642.97,37.35 644.22,37.75 645.50,38.05 647.00,38.20 648.91,38.13 651.12,37.88 653.33,37.54 655.25,37.21 656.60,37.00" fill="none" stroke="#f0e03c" stroke-width="0.65" stroke-linejoin="round" />
<polyline points="593.00,37.00 592.82,38.78 592.55,41.31 592.27,44.25 592.06,47.26 592.00,50.00 592.19,52.45 592.56,54.82 593.00,57.18 593.35,59.55 593.50,62.00 593.38,64.50 593.09,67.03 592.71,69.61 592.32,72.26 592.00,75.00 591.73,77.87 591.44,80.86 591.20,83.90 591.03,86.97 591.00,90.00 591.19,93.06 591.56,96.19 592.00,99.29 592.35,102.26 592.50,105.00 592.37,107.63 592.04,110.22 591.64,112.58 591.25,114.57 591.00,116.00" fill="none" stroke="#f0e03c" stroke-width="0.65" stroke-linejoin="round" />
<polyline points="596.00,40.00 596.18,42.04 596.47,44.92 596.77,48.28 596.98,51.76 597.00,55.00 596.74,58.00 596.25,61.00 595.69,64.00 595.22,67.00 595.00,70.00 595.12,73.00 595.49,76.00 595.95,79.00 596.34,82.00 596.50,85.00 596.34,88.02 595.95,91.05 595.49,94.07 595.12,97.06 595.00,100.00 595.21,103.09 595.64,106.34 596.18,109.46 596.67,112.11 597.00,114.00" fill="none" stroke="#f0e03c" stroke-width="0.65" stroke-linejoin="round" />
<polyline points="612.00,30.00 611.82,32.04 611.53,34.92 611.23,38.28 611.02,41.76 611.00,45.00 611.26,48.00 611.75,51.00 612.31,54.00 612.78,57.00 613.00,60.00 612.88,62.97 612.53,65.90 612.09,68.86 611.70,71.87 611.50,75.00 611.58,78.29 611.84,81.70 612.16,85.18 612.42,88.63 612.50,92.00 612.34,95.52 612.01,99.24 611.61,102.80 611.24,105.84 611.00,108.00" fill="none" stroke="#f0e03c" stroke-width="0.65" stroke-linejoin="round" />
<polyline points="616.00,32.00 616.18,34.18 616.47,37.25 616.77,40.83 616.98,44.54 617.00,48.00 616.74,51.20 616.25,54.40 615.69,57.60 615.22,60.80 615.00,64.00 615.10,67.46 615.42,71.17 615.84,74.75 616.24,77.82 616.50,80.00" fill="none" stroke="#f0e03c" stroke-width="0.65" stroke-linejoin="round" />
<polyline points="647.00,39.40 646.75,40.75 646.44,42.67 646.01,44.88 645.42,47.09 644.60,49.00 643.52,50.58 642.22,52.02 640.75,53.37 639.16,54.71 637.50,56.10 635.74,57.59 633.84,59.15 631.86,60.67 629.86,62.09 627.90,63.30 625.83,64.31 623.60,65.17 621.45,65.89 619.61,66.47 618.30,66.90" fill="none" stroke="#f0e03c" stroke-width="0.65" stroke-linejoin="round" />
<polyline points="655.00,49.00 654.82,50.72 654.53,53.12 654.23,55.96 654.02,59.00 654.00,62.00 654.26,64.99 654.73,68.14 655.27,71.38 655.74,74.69 656.00,78.00 655.94,81.30 655.67,84.63 655.33,88.01 655.06,91.46 655.00,95.00 655.24,98.98 655.68,103.37 656.20,107.67 656.68,111.38 657.00,114.00" fill="none" stroke="#f0e03c" stroke-width="0.65" stroke-linejoin="round" />
<polyline points="595.60,54.90 596.71,56.30 598.26,58.34 600.09,60.63 602.02,62.81 603.90,64.50 605.70,65.60 607.53,66.37 609.42,66.95 611.41,67.48 613.50,68.10 615.94,68.88 618.70,69.71 621.45,70.52 623.83,71.21 625.50,71.70" fill="none" stroke="#f0e03c" stroke-width="0.65" stroke-linejoin="round" />
<polyline points="636.30,51.30 636.73,52.50 637.31,54.23 638.04,56.20 638.90,58.12 639.90,59.70 641.21,60.97 642.83,62.11 644.50,63.10 645.98,63.90 647.00,64.50" fill="none" stroke="#f0e03c" stroke-width="0.65" stroke-linejoin="round" />
<polyline points="588.00,116.00 590.26,115.53 593.43,114.82 597.17,114.06 601.14,113.39 605.00,113.00 608.81,112.99 612.78,113.26 616.86,113.62 620.95,113.93 625.00,114.00 629.11,113.71 633.34,113.18 637.50,112.58 641.45,112.13 645.00,112.00 648.26,112.33 651.33,112.98 654.07,113.78 656.34,114.51 658.00,115.00" fill="none" stroke="#f0e03c" stroke-width="0.65" stroke-linejoin="round" />
<polyline points="595.52,44.60 596.04,44.22 595.38,42.82 595.10,42.15 594.55,42.53 594.28,45.22 592.41,46.56 595.43,48.23" fill="none" stroke="#b0dd2f" stroke-width="0.5" stroke-linejoin="round" />
<polyline points="595.43,48.23 595.95,49.52 595.75,51.18 595.34,52.83 597.12,52.61 595.91,50.90" fill="none" stroke="#3b528b" stroke-width="0.5" stroke-linejoin="round" />
<polyline points="595.91,50.90 595.69,50.68 594.34,49.06 594.30,48.53 593.88,46.98 590.12,45.69" fill="none" stroke="#5ec962" stroke-width="0.5" stroke-linejoin="round" />
<polyline points="590.12,45.69 590.52,44.17 591.80,43.63 592.30,41.62 590.63,41.75" fill="none" stroke="#21918c" stroke-width="0.5" stroke-linejoin="round" />
<polyline points="590.63,41.75 590.53,40.88 588.81,38.48 588.42,39.65 590.28,40.97 589.21,41.44 587.58,43.35 586.00,42.63" fill="none" stroke="#21918c" stroke-width="0.5" stroke-linejoin="round" />
<polyline points="586.00,42.63 586.42,40.51 587.94,41.71 587.48,43.66 589.44,43.75 588.90,42.11" fill="none" stroke="#b0dd2f" stroke-width="0.5" stroke-linejoin="round" />
<polyline points="588.90,42.11 588.84,40.94 588.26,39.00 586.00,39.90 587.21,41.69 589.23,41.09 589.99,38.31" fill="none" stroke="#21918c" stroke-width="0.5" stroke-linejoin="round" />
<polyline points="589.99,38.31 589.23,37.18 590.81,36.37 591.88,38.41 591.41,41.73 594.00,42.98" fill="none" stroke="#b0dd2f" stroke-width="0.5" stroke-linejoin="round" />
<polyline points="594.00,42.98 595.38,42.01 595.44,41.05 593.11,41.63 592.70,43.70 592.07,44.55" fill="none" stroke="#21918c" stroke-width="0.5" stroke-linejoin="round" />
<polyline points="592.07,44.55 591.07,42.62 590.90,42.36 590.02,42.70 590.89,45.27 591.76,45.40 592.27,44.00" fill="none" stroke="#21918c" stroke-width="0.5" stroke-linejoin="round" />
<polyline points="592.27,44.00 592.18,43.94 594.13,42.67 594.69,41.92 591.67,40.37" fill="none" stroke="#b0dd2f" stroke-width="0.5" stroke-linejoin="round" />
<polyline points="591.67,40.37 590.08,41.65 588.58,41.31 586.23,39.53 586.00,40.08" fill="none" stroke="#5ec962" stroke-width="0.5" stroke-linejoin="round" />
<polyline points="586.00,40.08 586.00,37.46 586.00,37.34 587.08,37.40 588.33,35.81" fill="none" stroke="#21918c" stroke-width="0.5" stroke-linejoin="round" />
<polyline points="588.33,35.81 586.98,35.66 586.14,36.74 587.31,37.96 588.53,38.25" fill="none" stroke="#b0dd2f" stroke-width="0.5" stroke-linejoin="round" />
<polyline points="588.53,38.25 589.86,37.72 590.45,40.30 589.60,41.50 588.16,42.45 589.74,43.19" fill="none" stroke="#3b528b" stroke-width="0.5" stroke-linejoin="round" />
<polyline points="589.74,43.19 589.10,44.01 589.25,44.03 589.58,44.32" fill="none" stroke="#5ec962" stroke-width="0.5" stroke-linejoin="round" />
<polyline points="589.58,44.32 591.31,44.22 590.02,46.25 588.01,46.17 588.35,44.70" fill="none" stroke="#3b528b" stroke-width="0.5" stroke-linejoin="round" />
<polyline points="588.35,44.70 588.83,44.68 588.64,45.61 586.35,44.65 586.57,44.21 588.54,45.25 589.31,46.04" fill="none" stroke="#b0dd2f" stroke-width="0.5" stroke-linejoin="round" />
<polyline points="589.31,46.04 589.74,47.06 589.54,49.55 587.91,48.23 588.96,47.16 589.83,47.38" fill="none" stroke="#21918c" stroke-width="0.5" stroke-linejoin="round" />
<polyline points="589.83,47.38 590.09,47.56 590.79,45.57 593.33,45.24 595.07,44.85 595.29,43.54" fill="none" stroke="#b0dd2f" stroke-width="0.5" stroke-linejoin="round" />
<polyline points="614.83,37.42 612.85,38.57 612.77,40.22 611.54,40.41 610.85,40.34 609.42,38.84" fill="none" stroke="#5ec962" stroke-width="0.5" stroke-linejoin="round" />
<polyline points="609.42,38.84 608.50,40.22 608.50,42.01 609.27,40.08 610.41,39.63" fill="none" stroke="#5ec962" stroke-width="0.5" stroke-linejoin="round" />
<polyline points="610.41,39.63 611.34,41.65 613.06,39.09 614.35,37.32" fill="none" stroke="#21918c" stroke-width="0.5" stroke-linejoin="round" />
<polyline points="614.35,37.32 611.27,36.02 610.89,37.42 611.03,39.43" fill="none" stroke="#5ec962" stroke-width="0.5" stroke-linejoin="round" />
<polyline points="611.03,39.43 610.11,41.28 611.41,42.08 612.27,41.01 613.15,41.48 614.38,43.10" fill="none" stroke="#5ec962" stroke-width="0.5" stroke-linejoin="round" />
<polyline points="614.38,43.10 615.39,44.16 614.98,45.00 617.55,45.00 618.47,43.89" fill="none" stroke="#b0dd2f" stroke-width="0.5" stroke-linejoin="round" />
<polyline points="618.47,43.89 618.58,42.69 617.99,42.71 617.61,43.68 615.39,43.32 612.51,42.85 610.69,43.12" fill="none" stroke="#5ec962" stroke-width="0.5" stroke-linejoin="round" />
<polyline points="610.69,43.12 608.96,43.23 608.50,44.47 608.50,45.00 608.50,44.29" fill="none" stroke="#b0dd2f" stroke-width="0.5" stroke-linejoin="round" />
<polyline points="608.50,44.29 610.37,45.00 610.98,43.38 612.91,42.03 612.32,40.26" fill="none" stroke="#b0dd2f" stroke-width="0.5" stroke-linejoin="round" />
<polyline points="612.32,40.26 612.13,40.21 610.30,39.82 611.74,37.89 611.88,34.88 610.34,34.49" fill="none" stroke="#21918c" stroke-width="0.5" stroke-linejoin="round" />
<polyline points="610.34,34.49 610.35,34.50 612.00,34.83 612.56,34.07 609.99,33.96 611.03,32.44 611.53,33.79 612.97,34.47" fill="none" stroke="#5ec962" stroke-width="0.5" stroke-linejoin="round" />
<polyline points="612.97,34.47 612.69,36.56 613.30,36.91 613.78,37.26 615.38,36.57 615.41,38.51 616.48,39.30" fill="none" stroke="#b0dd2f" stroke-width="0.5" stroke-linejoin="round" />
<polyline points="616.48,39.30 615.64,40.28 613.33,42.64 611.87,42.54 611.16,43.40 611.59,44.47 612.12,44.22 612.46,45.00" fill="none" stroke="#b0dd2f" stroke-width="0.5" stroke-linejoin="round" />
<polyline points="612.46,45.00 612.50,43.14 613.06,43.50 612.15,44.32 611.71,42.73" fill="none" stroke="#5ec962" stroke-width="0.5" stroke-linejoin="round" />
<polyline points="611.71,42.73 611.81,41.88 613.55,42.44 614.19,42.20 615.08,40.98 614.41,40.93 612.98,38.69" fill="none" stroke="#21918c" stroke-width="0.5" stroke-linejoin="round" />
<polyline points="612.98,38.69 613.78,38.35 613.84,38.71 614.67,39.74 615.45,38.79" fill="none" stroke="#5ec962" stroke-width="0.5" stroke-linejoin="round" />
<polyline points="615.45,38.79 616.54,40.59 616.36,41.19 617.67,41.47 618.96,41.95 619.62,41.32 620.06,40.30 617.68,39.30" fill="none" stroke="#b0dd2f" stroke-width="0.5" stroke-linejoin="round" />
<polyline points="617.68,39.30 617.48,40.46 614.95,41.14 612.93,40.20 613.01,41.52 613.14,42.69 612.11,44.12" fill="none" stroke="#b0dd2f" stroke-width="0.5" stroke-linejoin="round" />
<polyline points="651.67,42.20 653.30,41.42 652.44,39.53 650.88,39.64 649.66,39.55 649.14,40.84 647.50,40.16 649.64,40.55" fill="none" stroke="#5ec962" stroke-width="0.5" stroke-linejoin="round" />
<polyline points="649.64,40.55 649.96,38.93 651.97,39.46 651.92,39.85 649.30,40.86" fill="none" stroke="#3b528b" stroke-width="0.5" stroke-linejoin="round" />
<polyline points="649.30,40.86 649.14,42.05 648.75,42.01 647.50,41.38 648.35,40.68" fill="none" stroke="#5ec962" stroke-width="0.5" stroke-linejoin="round" />
<polyline points="648.35,40.68 648.47,38.50 647.50,38.62 647.50,38.97 647.50,39.43" fill="none" stroke="#3b528b" stroke-width="0.5" stroke-linejoin="round" />
<polyline points="647.50,39.43 648.66,39.13 649.68,39.72 650.92,38.47 652.15,37.47 654.49,36.94 656.17,35.58" fill="none" stroke="#21918c" stroke-width="0.5" stroke-linejoin="round" />
<polyline points="656.17,35.58 655.57,34.50 657.00,35.66 657.82,34.50" fill="none" stroke="#21918c" stroke-width="0.5" stroke-linejoin="round" />
<polyline points="657.82,34.50 657.17,36.69 655.84,37.13 655.88,35.14 657.55,34.79 657.93,36.06" fill="none" stroke="#3b528b" stroke-width="0.5" stroke-linejoin="round" />
<polyline points="657.93,36.06 658.50,37.06 656.56,35.36 655.94,35.77" fill="none" stroke="#5ec962" stroke-width="0.5" stroke-linejoin="round" />
<polyline points="655.94,35.77 655.49,35.12 653.54,36.53 653.45,35.86 652.57,35.70" fill="none" stroke="#5ec962" stroke-width="0.5" stroke-linejoin="round" />
<polyline points="652.57,35.70 651.98,35.21 650.85,35.13 650.25,34.50 652.00,35.67" fill="none" stroke="#5ec962" stroke-width="0.5" stroke-linejoin="round" />
<polyline points="652.00,35.67 652.34,37.63 654.04,36.71 654.79,36.81 654.38,35.59 653.59,34.50 655.45,34.50" fill="none" stroke="#3b528b" stroke-width="0.5" stroke-linejoin="round" />
<polyline points="655.45,34.50 654.22,36.13 654.96,38.01 654.82,40.33 655.82,42.04 654.00,43.36 652.70,44.33 652.59,43.55" fill="none" stroke="#21918c" stroke-width="0.5" stroke-linejoin="round" />
<polyline points="652.59,43.55 653.44,42.30 652.73,39.97 654.50,39.87 655.35,41.15 653.15,42.71 653.26,43.73 654.44,44.14" fill="none" stroke="#3b528b" stroke-width="0.5" stroke-linejoin="round" />
<polyline points="654.44,44.14 655.92,43.13 653.96,42.04 651.33,41.88 649.37,40.82 649.56,42.48 649.78,43.59 649.73,44.90" fill="none" stroke="#3b528b" stroke-width="0.5" stroke-linejoin="round" />
<polyline points="649.73,44.90 650.24,46.95 652.00,46.46 652.54,47.50" fill="none" stroke="#5ec962" stroke-width="0.5" stroke-linejoin="round" />
<polyline points="652.54,47.50 651.54,46.57 650.94,47.50 649.90,47.50 650.79,45.49" fill="none" stroke="#5ec962" stroke-width="0.5" stroke-linejoin="round" />
<polyline points="650.79,45.49 652.12,47.50 650.51,46.60 650.76,45.71" fill="none" stroke="#5ec962" stroke-width="0.5" stroke-linejoin="round" />
<polyline points="645.82,87.32 647.30,86.94 648.83,88.45 648.94,89.69 650.00,91.94 648.06,91.55 648.81,89.75" fill="none" stroke="#3b528b" stroke-width="0.5" stroke-linejoin="round" />
<polyline points="648.81,89.75 648.46,88.28 649.45,85.56 648.90,85.34 648.32,86.46 646.44,87.32" fill="none" stroke="#5ec962" stroke-width="0.5" stroke-linejoin="round" />
<polyline points="646.44,87.32 647.75,88.90 649.87,87.95 649.63,89.43 649.68,89.89 649.23,90.40 649.84,90.81 650.00,90.03" fill="none" stroke="#21918c" stroke-width="0.5" stroke-linejoin="round" />
<polyline points="650.00,90.03 648.73,91.84 649.39,92.50 650.00,90.90 648.57,88.42 647.25,89.54 647.37,90.85" fill="none" stroke="#21918c" stroke-width="0.5" stroke-linejoin="round" />
<polyline points="647.37,90.85 648.67,89.95 649.77,89.36 649.44,88.98 648.52,87.50 647.95,86.90" fill="none" stroke="#21918c" stroke-width="0.5" stroke-linejoin="round" />
<polyline points="647.95,86.90 647.40,85.32 646.48,85.88 645.66,84.41 647.61,84.12 648.90,85.31 650.00,87.69 648.91,86.34" fill="none" stroke="#3b528b" stroke-width="0.5" stroke-linejoin="round" />
<polyline points="602.33,77.56 600.59,77.60 600.72,76.01 603.38,75.00" fill="none" stroke="#21918c" stroke-width="0.5" stroke-linejoin="round" />
<polyline points="603.38,75.00 604.04,75.00 605.00,75.00 604.73,76.00 605.00,77.51" fill="none" stroke="#21918c" stroke-width="0.5" stroke-linejoin="round" />
<polyline points="605.00,77.51 604.64,77.23 602.62,78.47 602.82,79.66 603.29,80.92 603.41,82.65 603.47,82.73 603.52,83.62" fill="none" stroke="#21918c" stroke-width="0.5" stroke-linejoin="round" />
<polyline points="603.52,83.62 604.93,85.00 605.00,84.84 605.00,84.77 604.73,85.00 605.00,85.00 604.61,85.00" fill="none" stroke="#3b528b" stroke-width="0.5" stroke-linejoin="round" />
<polyline points="604.61,85.00 603.22,83.77 602.43,84.91 602.68,84.96 604.38,85.00 605.00,84.13 605.00,83.65 603.43,84.19" fill="none" stroke="#3b528b" stroke-width="0.5" stroke-linejoin="round" />
<polyline points="603.43,84.19 602.42,82.22 600.37,81.60 599.14,81.55 599.84,84.13 600.17,84.96 600.96,84.53" fill="none" stroke="#3b528b" stroke-width="0.5" stroke-linejoin="round" />
<polyline points="600.96,84.53 601.85,85.00 602.84,85.00 601.86,84.76" fill="none" stroke="#21918c" stroke-width="0.5" stroke-linejoin="round" />
<polyline points="588.31,112.92 587.79,113.41 588.32,115.51 587.57,117.00" fill="none" stroke="#5ec962" stroke-width="0.5" stroke-linejoin="round" />
<polyline points="587.57,117.00 586.13,116.22 585.38,117.00 586.07,116.30" fill="none" stroke="#21918c" stroke-width="0.5" stroke-linejoin="round" />
<polyline points="586.07,116.30 586.61,117.00 589.71,117.00 591.68,117.00 593.41,116.93" fill="none" stroke="#5ec962" stroke-width="0.5" stroke-linejoin="round" />
<polyline points="593.41,116.93 594.00,115.56 591.81,115.83 591.32,114.77 591.76,112.60 593.03,113.47" fill="none" stroke="#3b528b" stroke-width="0.5" stroke-linejoin="round" />
<polyline points="593.03,113.47 591.41,114.27 590.44,112.73 589.69,112.85 589.84,114.17" fill="none" stroke="#5ec962" stroke-width="0.5" stroke-linejoin="round" />
<polyline points="589.84,114.17 591.96,113.15 593.40,113.81 592.87,115.20" fill="none" stroke="#3b528b" stroke-width="0.5" stroke-linejoin="round" />
<polyline points="592.87,115.20 592.13,117.00 593.12,116.32 593.79,115.64 592.77,115.39 592.36,117.00 590.65,115.41 589.92,114.45" fill="none" stroke="#3b528b" stroke-width="0.5" stroke-linejoin="round" />
<polyline points="589.92,114.45 588.94,114.33 586.18,113.84 585.37,112.91" fill="none" stroke="#3b528b" stroke-width="0.5" stroke-linejoin="round" />
<polyline points="585.37,112.91 586.41,111.63 584.69,110.77 584.00,113.20 584.00,113.36" fill="none" stroke="#21918c" stroke-width="0.5" stroke-linejoin="round" />
<polyline points="616.07,26.61 616.73,25.03 617.16,24.82 615.85,24.00 614.14,24.00" fill="none" stroke="#3b528b" stroke-width="0.9" stroke-linejoin="round" />
<polyline points="614.14,24.00 613.80,24.91 613.00,24.42 613.00,24.93 615.82,24.00 615.38,25.84" fill="none" stroke="#3b528b" stroke-width="0.9" stroke-linejoin="round" />
<polyline points="615.38,25.84 614.19,26.39 613.00,26.74 614.38,27.24 613.84,28.00 613.00,28.00" fill="none" stroke="#440154" stroke-width="0.9" stroke-linejoin="round" />
<polyline points="613.00,28.00 613.69,27.64 613.00,25.88 615.14,26.51 615.11,26.41 613.09,24.55" fill="none" stroke="#440154" stroke-width="0.9" stroke-linejoin="round" />
<polyline points="613.09,24.55 613.00,24.34 613.00,25.02 613.00,25.75 613.06,25.68 613.78,25.03 614.10,24.00 616.96,24.00" fill="none" stroke="#3b528b" stroke-width="0.9" stroke-linejoin="round" />
<polyline points="616.96,24.00 617.63,24.33" fill="none" stroke="#440154" stroke-width="0.9" stroke-linejoin="round" />
<polyline points="653.73,109.13 654.27,109.66 655.55,110.71 656.91,111.45 657.39,113.55 658.25,114.10 657.98,114.49 657.08,113.10" fill="none" stroke="#5ec962" stroke-width="0.5" stroke-linejoin="round" />
<polyline points="657.08,113.10 658.02,111.19 659.00,109.84 659.00,108.11 659.00,106.70 658.26,108.77 657.08,107.38 655.68,105.03" fill="none" stroke="#21918c" stroke-width="0.5" stroke-linejoin="round" />
<polyline points="655.68,105.03 655.65,104.75 656.08,103.45 654.92,101.56 656.99,101.01 656.69,101.00 657.33,101.21 658.07,101.00" fill="none" stroke="#3b528b" stroke-width="0.5" stroke-linejoin="round" />
<polyline points="658.07,101.00 658.82,101.47 659.00,102.60 656.74,102.77" fill="none" stroke="#5ec962" stroke-width="0.5" stroke-linejoin="round" />
<polyline points="656.74,102.77 655.84,102.71 655.64,101.00 655.12,102.87 656.85,103.43 656.88,102.37" fill="none" stroke="#21918c" stroke-width="0.5" stroke-linejoin="round" />
<polyline points="656.88,102.37 656.05,102.11 656.41,101.49 657.04,101.72 657.22,102.14 658.35,101.59 659.00,102.40" fill="none" stroke="#21918c" stroke-width="0.5" stroke-linejoin="round" />
<polyline points="659.00,102.40 658.45,101.50 657.42,101.92 656.16,103.32 654.15,103.21 654.16,101.10 651.70,101.00 651.00,102.61" fill="none" stroke="#5ec962" stroke-width="0.5" stroke-linejoin="round" />
<polyline points="651.00,102.61 651.00,101.38 651.00,101.21 651.69,102.15" fill="none" stroke="#21918c" stroke-width="0.5" stroke-linejoin="round" />
<polyline points="637.53,63.14 637.22,63.08 634.94,65.20 635.97,66.00 635.90,63.84" fill="none" stroke="#3b528b" stroke-width="0.5" stroke-linejoin="round" />
<polyline points="635.90,63.84 634.07,62.81 634.00,63.43 635.37,64.41 636.81,63.23 637.43,62.89 639.01,64.64" fill="none" stroke="#3b528b" stroke-width="0.5" stroke-linejoin="round" />
<polyline points="639.01,64.64 640.00,65.76 638.21,64.34 636.97,64.08 637.46,63.10 639.39,63.84 639.48,63.75 640.00,62.91" fill="none" stroke="#21918c" stroke-width="0.5" stroke-linejoin="round" />
<polyline points="640.00,62.91 639.69,62.87" fill="none" stroke="#21918c" stroke-width="0.5" stroke-linejoin="round" />
<polyline points="623.22,70.75 624.68,71.22 623.37,73.49 622.36,72.82" fill="none" stroke="#21918c" stroke-width="0.5" stroke-linejoin="round" />
<polyline points="622.36,72.82 620.99,72.53 622.50,71.07 623.20,72.93 624.16,74.00 625.00,74.00" fill="none" stroke="#3b528b" stroke-width="0.5" stroke-linejoin="round" />
<polyline points="625.00,74.00 624.31,73.94 624.02,71.92 623.60,69.54 621.96,70.78 623.48,72.09" fill="none" stroke="#21918c" stroke-width="0.5" stroke-linejoin="round" />
<polyline points="623.48,72.09 625.00,71.44 624.16,69.86 623.15,71.48 621.24,71.69" fill="none" stroke="#21918c" stroke-width="0.5" stroke-linejoin="round" />
<polyline points="621.24,71.69 620.88,72.84" fill="none" stroke="#21918c" stroke-width="0.5" stroke-linejoin="round" />
<rect x="436.20" y="288.10" width="93.70" height="96.50" fill="#ffffff" />
<line x1="436.20" y1="299.27" x2="529.90" y2="299.27" stroke="#b4b4b4" stroke-width="0.6" />
<line x1="434.40" y1="299.27" x2="436.20" y2="299.27" stroke="#555" stroke-width="0.5" />
<line x1="436.20" y1="311.36" x2="529.90" y2="311.36" stroke="#d6d6d6" stroke-width="0.6" />
<line x1="434.40" y1="311.36" x2="436.20" y2="311.36" stroke="#555" stroke-width="0.5" />
<line x1="436.20" y1="322.68" x2="529.90" y2="322.68" stroke="#b4b4b4" stroke-width="0.6" />
<line x1="434.40" y1="322.68" x2="436.20" y2="322.68" stroke="#555" stroke-width="0.5" />
<line x1="436.20" y1="334.19" x2="529.90" y2="334.19" stroke="#d6d6d6" stroke-width="0.6" />
<line x1="434.40" y1="334.19" x2="436.20" y2="334.19" stroke="#555" stroke-width="0.5" />
<line x1="436.20" y1="345.32" x2="529.90" y2="345.32" stroke="#b4b4b4" stroke-width="0.6" />
<line x1="434.40" y1="345.32" x2="436.20" y2="345.32" stroke="#555" stroke-width="0.5" />
<line x1="436.20" y1="357.21" x2="529.90" y2="357.21" stroke="#d6d6d6" stroke-width="0.6" />
<line x1="434.40" y1="357.21" x2="436.20" y2="357.21" stroke="#555" stroke-width="0.5" />
<line x1="436.20" y1="368.72" x2="529.90" y2="368.72" stroke="#b4b4b4" stroke-width="0.6" />
<line x1="434.40" y1="368.72" x2="436.20" y2="368.72" stroke="#555" stroke-width="0.5" />
<line x1="436.20" y1="379.85" x2="529.90" y2="379.85" stroke="#d6d6d6" stroke-width="0.6" />
<line x1="434.40" y1="379.85" x2="436.20" y2="379.85" stroke="#555" stroke-width="0.5" />
<line x1="440.63" y1="288.10" x2="440.63" y2="384.60" stroke="#c6c6c6" stroke-width="0.6" />
<line x1="440.63" y1="384.60" x2="440.63" y2="386.20" stroke="#555" stroke-width="0.5" />
<line x1="452.15" y1="288.10" x2="452.15" y2="384.60" stroke="#dcdcdc" stroke-width="0.6" />
<line x1="452.15" y1="384.60" x2="452.15" y2="386.20" stroke="#555" stroke-width="0.5" />
<line x1="463.27" y1="288.10" x2="463.27" y2="384.60" stroke="#c6c6c6" stroke-width="0.6" />
<line x1="463.27" y1="384.60" x2="463.27" y2="386.20" stroke="#555" stroke-width="0.5" />
<line x1="474.59" y1="288.10" x2="474.59" y2="384.60" stroke="#dcdcdc" stroke-width="0.6" />
<line x1="474.59" y1="384.60" x2="474.59" y2="386.20" stroke="#555" stroke-width="0.5" />
<line x1="486.11" y1="288.10" x2="486.11" y2="384.60" stroke="#c6c6c6" stroke-width="0.6" />
<line x1="486.11" y1="384.60" x2="486.11" y2="386.20" stroke="#555" stroke-width="0.5" />
<line x1="497.23" y1="288.10" x2="497.23" y2="384.60" stroke="#dcdcdc" stroke-width="0.6" />
<line x1="497.23" y1="384.60" x2="497.23" y2="386.20" stroke="#555" stroke-width="0.5" />
<line x1="508.75" y1="288.10" x2="508.75" y2="384.60" stroke="#c6c6c6" stroke-width="0.6" />
<line x1="508.75" y1="384.60" x2="508.75" y2="386.20" stroke="#555" stroke-width="0.5" />
<line x1="520.26" y1="288.10" x2="520.26" y2="384.60" stroke="#dcdcdc" stroke-width="0.6" />
<line x1="520.26" y1="384.60" x2="520.26" y2="386.20" stroke="#555" stroke-width="0.5" />
<rect x="436.20" y="288.10" width="93.70" height="96.50" fill="none" stroke="#999" stroke-width="0.7"/>
<rect x="535.60" y="288.10" width="4.80" height="96.00" fill="url(#vir)"/>
<line x1="540.40" y1="288.10" x2="541.60" y2="288.10" stroke="#555" stroke-width="0.4" />
<text x="542.50" y="289.60" font-size="4.2" text-anchor="start" font-weight="normal" fill="#333" stroke="#333" stroke-width="0" >30</text>
<line x1="540.40" y1="304.10" x2="541.60" y2="304.10" stroke="#555" stroke-width="0.4" />
<text x="542.50" y="305.60" font-size="4.2" text-anchor="start" font-weight="normal" fill="#333" stroke="#333" stroke-width="0" >25</text>
<line x1="540.40" y1="320.10" x2="541.60" y2="320.10" stroke="#555" stroke-width="0.4" />
<text x="542.50" y="321.60" font-size="4.2" text-anchor="start" font-weight="normal" fill="#333" stroke="#333" stroke-width="0" >20</text>
<line x1="540.40" y1="336.10" x2="541.60" y2="336.10" stroke="#555" stroke-width="0.4" />
<text x="542.50" y="337.60" font-size="4.2" text-anchor="start" font-weight="normal" fill="#333" stroke="#333" stroke-width="0" >15</text>
<line x1="540.40" y1="352.10" x2="541.60" y2="352.10" stroke="#555" stroke-width="0.4" />
<text x="542.50" y="353.60" font-size="4.2" text-anchor="start" font-weight="normal" fill="#333" stroke="#333" stroke-width="0" >10</text>
<line x1="540.40" y1="368.10" x2="541.60" y2="368.10" stroke="#555" stroke-width="0.4" />
<text x="542.50" y="369.60" font-size="4.2" text-anchor="start" font-weight="normal" fill="#333" stroke="#333" stroke-width="0" >5</text>
<line x1="540.40" y1="384.10" x2="541.60" y2="384.10" stroke="#555" stroke-width="0.4" />
<text x="542.50" y="385.60" font-size="4.2" text-anchor="start" font-weight="normal" fill="#333" stroke="#333" stroke-width="0" >0</text>
<text transform="translate(536.40,336.10) rotate(90)" x="0" y="0" font-size="5.4" text-anchor="middle" fill="#1a1a1a" opacity="0.85">speed (cm/s)</text>
<text x="492.10" y="286.50" font-size="9.1" text-anchor="middle" font-weight="normal" fill="#222" stroke="#222" stroke-width="0.22" >LED OFF</text>
<text x="438.80" y="296.80" font-size="10.1" text-anchor="start" font-weight="normal" fill="#222" stroke="#222" stroke-width="0.22" >Food Port</text>
<polyline points="459.82,303.11 459.74,305.42 459.62,308.68 459.49,312.50 459.36,316.52 459.24,320.37 459.14,324.09 459.04,327.91 458.95,331.79 458.89,335.69 458.86,339.56 458.89,343.49 458.95,347.51 459.04,351.49 459.14,355.28 459.24,358.75 459.35,361.83 459.46,364.62 459.58,367.22 459.70,369.71 459.82,372.18 459.94,374.79 460.08,377.47 460.21,380.00 460.32,382.15 460.40,383.69" fill="none" stroke="#f0e03c" stroke-width="0.7" stroke-linejoin="round" />
<polyline points="460.78,303.11 461.53,302.68 462.58,302.07 463.82,301.38 465.17,300.73 466.54,300.23 467.98,299.88 469.56,299.61 471.19,299.42 472.77,299.31 474.21,299.27 475.50,299.28 476.70,299.33 477.83,299.48 478.91,299.76 479.97,300.23 481.02,300.89 482.05,301.73 483.03,302.71 483.94,303.82 484.76,305.02 485.45,306.37 486.01,307.89 486.51,309.49 487.03,311.12 487.64,312.70 488.36,314.31 489.15,316.00 489.97,317.65 490.76,319.15 491.48,320.37 492.08,321.16 492.61,321.59 493.11,321.92 493.67,322.38 494.36,323.25 495.18,324.56 496.09,326.15 497.07,327.95 498.10,329.88 499.15,331.88 500.27,334.00 501.48,336.28 502.70,338.65 503.86,341.05 504.91,343.40 505.84,345.70 506.69,348.00 507.47,350.30 508.16,352.61 508.75,354.91 509.22,357.30 509.58,359.79 509.86,362.23 510.08,364.49 510.28,366.42 510.44,368.03 510.54,369.41 510.59,370.56 510.63,371.49 510.66,372.18" fill="none" stroke="#f0e03c" stroke-width="0.7" stroke-linejoin="round" />
<polyline points="479.97,300.23 481.21,301.03 482.93,302.11 484.99,303.45 487.24,305.06 489.56,306.94 492.06,309.29 494.84,312.11 497.71,315.09 500.49,317.95 502.99,320.37 505.18,322.21 507.20,323.67 509.07,324.98 510.85,326.36 512.58,328.05 514.27,330.07 515.88,332.28 517.42,334.63 518.88,337.07 520.26,339.56 521.59,342.15 522.88,344.89 524.08,347.66 525.14,350.40 526.01,352.99 526.66,355.48 527.10,357.92 527.42,360.27 527.67,362.48 527.93,364.50 528.20,366.41 528.43,368.22 528.62,369.84 528.78,371.19 528.89,372.18" fill="none" stroke="#f0e03c" stroke-width="0.7" stroke-linejoin="round" />
<polyline points="519.30,310.78 519.43,311.93 519.61,313.47 519.83,315.38 520.05,317.69 520.26,320.37 520.45,323.66 520.64,327.54 520.83,331.70 521.03,335.81 521.22,339.56 521.41,342.87 521.60,345.98 521.79,348.95 521.98,351.90 522.18,354.91 522.38,358.22 522.61,361.79 522.82,365.22 523.01,368.17 523.14,370.26" fill="none" stroke="#f0e03c" stroke-width="0.7" stroke-linejoin="round" />
<polyline points="527.93,310.78 527.79,313.39 527.57,317.07 527.33,321.37 527.12,325.82 526.97,329.97 526.88,333.80 526.81,337.64 526.79,341.48 526.83,345.32 526.97,349.15 527.26,353.30 527.69,357.75 528.17,362.05 528.60,365.73 528.89,368.34" fill="none" stroke="#f0e03c" stroke-width="0.7" stroke-linejoin="round" />
<polyline points="460.78,372.18 461.93,372.41 463.47,372.71 465.38,373.10 467.69,373.56 470.37,374.10 473.60,374.76 477.36,375.54 481.42,376.37 485.57,377.20 489.56,377.93 493.52,378.62 497.60,379.29 501.62,379.91 505.40,380.43 508.75,380.81 511.72,380.99 514.46,381.02 516.85,380.95 518.82,380.86 520.26,380.81" fill="none" stroke="#f0e03c" stroke-width="0.7" stroke-linejoin="round" />
<polyline points="460.78,377.93 463.39,378.55 467.07,379.47 471.37,380.47 475.82,381.31 479.97,381.77 483.65,381.72 487.18,381.32 490.79,380.76 494.70,380.20 499.15,379.85 504.76,379.73 511.36,379.71 518.03,379.76 523.86,379.82 527.93,379.85" fill="none" stroke="#f0e03c" stroke-width="0.7" stroke-linejoin="round" />
<polyline points="510.66,372.18 511.03,372.53 511.46,373.08 512.09,373.65 513.06,374.05 514.50,374.10 516.79,373.63 519.83,372.79 523.07,371.79 525.95,370.87 527.93,370.26" fill="none" stroke="#f0e03c" stroke-width="0.7" stroke-linejoin="round" />
<polyline points="459.82,320.37 459.50,321.32 459.01,322.67 458.49,324.22 458.07,325.76 457.90,327.09 458.07,328.25 458.49,329.38 459.01,330.40 459.50,331.26 459.82,331.88" fill="none" stroke="#f0e03c" stroke-width="0.7" stroke-linejoin="round" />
<polyline points="459.56,304.06 457.75,303.81 457.00,305.43 457.00,307.33 457.00,309.86 457.83,309.75 459.07,309.04 458.90,310.75" fill="none" stroke="#3b528b" stroke-width="0.5" stroke-linejoin="round" />
<polyline points="458.90,310.75 457.40,310.01 457.00,309.96 458.79,308.66 459.12,310.35 458.75,311.00" fill="none" stroke="#21918c" stroke-width="0.5" stroke-linejoin="round" />
<polyline points="458.75,311.00 458.83,308.08 458.15,307.09 457.00,308.00 457.00,307.75" fill="none" stroke="#3b528b" stroke-width="0.5" stroke-linejoin="round" />
<polyline points="457.00,307.75 459.14,306.89 459.10,306.06 460.57,305.59 461.65,305.93 462.98,304.14" fill="none" stroke="#440154" stroke-width="0.5" stroke-linejoin="round" />
<polyline points="462.98,304.14 462.82,302.38 462.42,301.72 462.93,301.67 461.71,304.27 462.33,305.69 463.25,305.44" fill="none" stroke="#440154" stroke-width="0.5" stroke-linejoin="round" />
<polyline points="463.25,305.44 464.10,305.90 464.70,303.82 466.78,301.49 467.00,301.53 467.00,301.00 465.41,302.34" fill="none" stroke="#3b528b" stroke-width="0.5" stroke-linejoin="round" />
<polyline points="465.41,302.34 464.43,303.57 464.06,303.40 462.50,302.10 460.69,304.82" fill="none" stroke="#440154" stroke-width="0.5" stroke-linejoin="round" />
<polyline points="460.69,304.82 463.17,306.12 463.83,305.34 465.81,306.99 466.09,307.18" fill="none" stroke="#3b528b" stroke-width="0.5" stroke-linejoin="round" />
<polyline points="466.09,307.18 467.00,306.56 466.19,306.70 466.74,307.46 467.00,305.82 467.00,303.34" fill="none" stroke="#3b528b" stroke-width="0.5" stroke-linejoin="round" />
<polyline points="467.00,303.34 467.00,304.08 466.20,303.40 467.00,302.94 465.36,303.36 464.75,304.94" fill="none" stroke="#440154" stroke-width="0.5" stroke-linejoin="round" />
<polyline points="464.75,304.94 466.48,305.45 465.67,307.86 467.00,308.94 467.00,310.67" fill="none" stroke="#440154" stroke-width="0.5" stroke-linejoin="round" />
<polyline points="467.00,310.67 467.00,311.00 465.78,310.54 466.07,309.82 466.04,309.35" fill="none" stroke="#21918c" stroke-width="0.5" stroke-linejoin="round" />
<polyline points="466.04,309.35 465.71,307.96 466.53,307.04 465.18,306.04 465.66,304.57 465.77,304.52 467.00,304.37" fill="none" stroke="#3b528b" stroke-width="0.5" stroke-linejoin="round" />
<polyline points="467.00,304.37 467.00,307.18 467.00,309.14 467.00,310.97 466.69,311.00 465.98,310.85 465.78,309.39" fill="none" stroke="#21918c" stroke-width="0.5" stroke-linejoin="round" />
<polyline points="465.78,309.39 465.57,309.54" fill="none" stroke="#21918c" stroke-width="0.5" stroke-linejoin="round" />
<polyline points="460.86,313.96 462.14,312.36 462.50,312.10 461.28,312.41 459.97,311.61 459.17,311.00 458.50,311.00 461.89,311.00" fill="none" stroke="#21918c" stroke-width="0.5" stroke-linejoin="round" />
<polyline points="461.89,311.00 461.75,312.11 462.50,311.88 460.86,312.78 458.99,311.98 458.58,311.32 458.50,311.00 460.28,311.13" fill="none" stroke="#3b528b" stroke-width="0.5" stroke-linejoin="round" />
<polyline points="460.28,311.13 462.50,311.00 462.40,311.00 462.50,311.00 461.58,312.21 462.50,313.76" fill="none" stroke="#21918c" stroke-width="0.5" stroke-linejoin="round" />
<polyline points="462.50,313.76 462.13,313.16 460.78,313.46" fill="none" stroke="#21918c" stroke-width="0.5" stroke-linejoin="round" />
<polyline points="475.25,298.43 474.86,298.20 474.33,299.74 473.56,301.00 474.43,301.00 474.28,301.00" fill="none" stroke="#21918c" stroke-width="0.5" stroke-linejoin="round" />
<polyline points="474.28,301.00 475.66,300.16 474.06,297.91 475.36,297.00" fill="none" stroke="#3b528b" stroke-width="0.5" stroke-linejoin="round" />
<polyline points="475.36,297.00 474.21,298.71 475.59,299.17 476.02,297.27 474.54,297.00" fill="none" stroke="#21918c" stroke-width="0.5" stroke-linejoin="round" />
<polyline points="474.54,297.00 475.87,298.20 477.52,298.35 477.70,297.37 474.68,297.00 473.99,297.00 473.50,297.46" fill="none" stroke="#21918c" stroke-width="0.5" stroke-linejoin="round" />
<polyline points="473.50,297.46 472.45,297.00 471.94,298.23 472.02,298.32 474.49,299.73 474.55,299.44 474.47,297.65" fill="none" stroke="#3b528b" stroke-width="0.5" stroke-linejoin="round" />
<polyline points="474.47,297.65 475.83,297.00 476.07,298.72 477.23,298.00" fill="none" stroke="#3b528b" stroke-width="0.5" stroke-linejoin="round" />
<polyline points="477.23,298.00 476.50,297.00 479.84,297.00 480.78,298.38" fill="none" stroke="#3b528b" stroke-width="0.5" stroke-linejoin="round" />
<polyline points="480.78,298.38 480.60,298.42 480.33,297.00 479.86,297.59 480.60,298.85 481.93,299.58 481.42,300.59 481.16,301.00" fill="none" stroke="#3b528b" stroke-width="0.5" stroke-linejoin="round" />
<polyline points="481.16,301.00 481.26,300.22 479.67,300.04 480.31,301.00 480.32,301.00 480.83,301.00 481.89,297.99 482.08,297.00" fill="none" stroke="#21918c" stroke-width="0.5" stroke-linejoin="round" />
<polyline points="482.08,297.00 483.38,297.00" fill="none" stroke="#3b528b" stroke-width="0.5" stroke-linejoin="round" />
<polyline points="523.92,374.79 523.54,374.18 523.88,374.06 523.74,373.05 523.64,372.27 524.42,372.56 523.44,373.64 522.07,373.97" fill="none" stroke="#440154" stroke-width="0.5" stroke-linejoin="round" />
<polyline points="522.07,373.97 519.96,374.52 520.37,375.06 521.09,375.55 519.83,377.62 518.66,377.89 519.82,380.00" fill="none" stroke="#440154" stroke-width="0.5" stroke-linejoin="round" />
<polyline points="519.82,380.00 518.50,378.12 517.50,378.88 517.69,378.02" fill="none" stroke="#21918c" stroke-width="0.5" stroke-linejoin="round" />
<polyline points="517.69,378.02 517.50,376.65 517.50,376.72 518.85,376.91 519.57,374.75 517.50,374.20 518.67,375.70 519.41,377.44" fill="none" stroke="#440154" stroke-width="0.5" stroke-linejoin="round" />
<polyline points="519.41,377.44 521.06,376.53 521.61,374.46 520.05,373.56 519.27,374.40" fill="none" stroke="#3b528b" stroke-width="0.5" stroke-linejoin="round" />
<polyline points="519.27,374.40 518.72,375.17 518.72,375.54 519.68,376.41 520.04,375.58 521.72,375.70 521.60,374.02 521.78,372.51" fill="none" stroke="#21918c" stroke-width="0.5" stroke-linejoin="round" />
<polyline points="521.78,372.51 521.65,371.53 523.70,369.36 523.29,368.90 522.71,370.43 523.37,370.51" fill="none" stroke="#21918c" stroke-width="0.5" stroke-linejoin="round" />
<polyline points="523.37,370.51 524.28,370.47 525.24,370.07 525.71,371.58 524.27,371.35 522.72,371.81" fill="none" stroke="#3b528b" stroke-width="0.5" stroke-linejoin="round" />
<polyline points="522.72,371.81 521.99,370.57 520.20,371.21 519.22,370.56 518.72,369.48 520.62,368.00" fill="none" stroke="#440154" stroke-width="0.5" stroke-linejoin="round" />
<polyline points="520.62,368.00 521.72,368.71 520.69,371.42 519.75,371.51 519.56,371.46 518.54,370.36" fill="none" stroke="#440154" stroke-width="0.5" stroke-linejoin="round" />
<polyline points="518.54,370.36 518.92,368.76 517.57,368.00 517.50,368.48" fill="none" stroke="#440154" stroke-width="0.5" stroke-linejoin="round" />
<polyline points="517.50,368.48 518.31,368.00 517.50,368.66 517.87,370.94 517.50,373.59 518.63,372.50 518.72,372.71 517.50,374.07" fill="none" stroke="#440154" stroke-width="0.5" stroke-linejoin="round" />
<polyline points="517.50,374.07 518.44,372.61 520.03,372.99 520.12,374.63" fill="none" stroke="#440154" stroke-width="0.5" stroke-linejoin="round" />
<polyline points="520.12,374.63 521.29,376.20 520.34,377.38 520.28,377.23 521.37,375.98" fill="none" stroke="#21918c" stroke-width="0.5" stroke-linejoin="round" />
<polyline points="521.37,375.98 519.89,375.81 520.05,374.69 518.88,374.60 517.98,375.31 517.50,377.10 519.34,376.27" fill="none" stroke="#21918c" stroke-width="0.5" stroke-linejoin="round" />
<polyline points="519.34,376.27 518.47,374.64 517.50,375.44 517.50,377.08" fill="none" stroke="#21918c" stroke-width="0.5" stroke-linejoin="round" />
<polyline points="517.50,377.08 517.64,377.66 519.47,377.98 518.71,375.94 517.50,374.85 517.50,373.74 517.50,375.03" fill="none" stroke="#21918c" stroke-width="0.5" stroke-linejoin="round" />
<polyline points="517.50,375.03 518.63,375.31 519.29,377.19 521.30,377.23 520.40,378.68" fill="none" stroke="#21918c" stroke-width="0.5" stroke-linejoin="round" />
<polyline points="520.40,378.68 520.78,380.00 522.78,377.92 523.12,378.81" fill="none" stroke="#21918c" stroke-width="0.5" stroke-linejoin="round" />
<polyline points="523.12,378.81 525.00,376.81 524.29,375.11 524.87,374.62 525.53,372.94 526.63,372.08 525.72,370.23 523.63,368.05" fill="none" stroke="#21918c" stroke-width="0.5" stroke-linejoin="round" />
<polyline points="523.63,368.05 524.41,368.00 521.88,369.04 520.20,368.75 521.66,368.00 521.04,368.68 522.62,369.64 522.33,371.49" fill="none" stroke="#21918c" stroke-width="0.5" stroke-linejoin="round" />
<polyline points="522.33,371.49 524.24,370.84 524.02,369.88 521.88,370.08 520.40,370.74 520.97,371.89 521.99,374.62" fill="none" stroke="#3b528b" stroke-width="0.5" stroke-linejoin="round" />
<polyline points="521.99,374.62 522.03,375.31 525.09,374.43 525.09,374.44" fill="none" stroke="#21918c" stroke-width="0.5" stroke-linejoin="round" />
<polyline points="525.09,374.44 525.05,375.33 522.88,375.89 523.14,375.19 522.38,373.74 522.07,372.75" fill="none" stroke="#440154" stroke-width="0.5" stroke-linejoin="round" />
<polyline points="522.07,372.75 521.40,371.48 523.00,371.10 524.00,369.20 525.02,369.74 522.95,371.73 521.84,370.37" fill="none" stroke="#440154" stroke-width="0.5" stroke-linejoin="round" />
<polyline points="521.84,370.37 520.93,369.66 521.74,368.24 523.89,369.66 522.79,370.50" fill="none" stroke="#440154" stroke-width="0.5" stroke-linejoin="round" />
<polyline points="522.79,370.50 524.52,371.28 525.48,370.89 526.20,372.13 526.12,372.75" fill="none" stroke="#3b528b" stroke-width="0.5" stroke-linejoin="round" />
<polyline points="526.12,372.75 526.51,373.29 526.47,374.54 528.54,374.36 529.20,375.97 528.40,377.23" fill="none" stroke="#21918c" stroke-width="0.5" stroke-linejoin="round" />
<polyline points="528.40,377.23 529.43,377.45 528.67,379.21 528.56,380.00 527.11,379.43 525.86,380.00" fill="none" stroke="#3b528b" stroke-width="0.5" stroke-linejoin="round" />
<polyline points="525.86,380.00 524.94,378.64 525.52,377.44 526.09,378.39 526.78,377.65" fill="none" stroke="#21918c" stroke-width="0.5" stroke-linejoin="round" />
<polyline points="526.78,377.65 525.63,376.18 527.12,375.87 527.05,374.64 528.19,374.34" fill="none" stroke="#440154" stroke-width="0.5" stroke-linejoin="round" />
<polyline points="528.19,374.34 529.01,372.47 528.64,371.47 528.70,370.20 528.06,370.40 527.42,371.63 525.21,370.36 524.08,370.20" fill="none" stroke="#440154" stroke-width="0.5" stroke-linejoin="round" />
<polyline points="524.08,370.20 523.81,371.35 524.92,371.73" fill="none" stroke="#440154" stroke-width="0.5" stroke-linejoin="round" />
<polyline points="463.14,377.51 464.66,378.98 463.61,379.42 462.50,380.41 461.02,381.61 461.87,382.78 460.44,383.00" fill="none" stroke="#3b528b" stroke-width="0.5" stroke-linejoin="round" />
<polyline points="460.44,383.00 461.35,381.42 460.44,379.95 459.71,377.79 460.22,377.79 461.33,378.27 462.38,377.80" fill="none" stroke="#21918c" stroke-width="0.5" stroke-linejoin="round" />
<polyline points="462.38,377.80 462.29,377.17 462.54,375.81 462.22,374.74 463.86,373.89 465.44,373.70 465.58,373.45 464.39,372.99" fill="none" stroke="#21918c" stroke-width="0.5" stroke-linejoin="round" />
<polyline points="464.39,372.99 464.65,371.00 465.48,372.50 464.63,372.92 465.58,374.06 465.94,374.27 467.81,374.96" fill="none" stroke="#3b528b" stroke-width="0.5" stroke-linejoin="round" />
<polyline points="467.81,374.96 468.00,373.49 465.85,373.66 466.32,375.46 466.48,376.62" fill="none" stroke="#3b528b" stroke-width="0.5" stroke-linejoin="round" />
<polyline points="466.48,376.62 464.65,376.17 464.56,376.23 463.44,375.57 463.85,375.32 463.32,374.90 463.48,373.64" fill="none" stroke="#21918c" stroke-width="0.5" stroke-linejoin="round" />
<polyline points="463.48,373.64 465.56,373.09 466.40,373.98 468.00,373.62 468.00,372.59 467.56,371.44 466.46,372.44 465.90,371.00" fill="none" stroke="#21918c" stroke-width="0.5" stroke-linejoin="round" />
<polyline points="465.90,371.00 465.48,371.00 465.18,372.20 463.38,373.12 463.17,371.54" fill="none" stroke="#5ec962" stroke-width="0.5" stroke-linejoin="round" />
<polyline points="463.17,371.54 463.81,371.84 461.64,373.21 461.98,373.78 460.74,375.10 461.19,376.65 460.73,376.78" fill="none" stroke="#21918c" stroke-width="0.5" stroke-linejoin="round" />
<polyline points="460.73,376.78 459.11,375.25 458.61,374.57" fill="none" stroke="#21918c" stroke-width="0.5" stroke-linejoin="round" />
<polyline points="522.24,313.75 523.43,313.77 526.68,314.82 526.96,316.00" fill="none" stroke="#21918c" stroke-width="0.5" stroke-linejoin="round" />
<polyline points="526.96,316.00 526.92,315.96 525.53,315.74 525.33,315.10" fill="none" stroke="#21918c" stroke-width="0.5" stroke-linejoin="round" />
<polyline points="525.33,315.10 523.99,314.05 524.10,312.49 522.86,310.13 521.74,311.50" fill="none" stroke="#21918c" stroke-width="0.5" stroke-linejoin="round" />
<polyline points="521.74,311.50 522.39,312.74 524.22,312.00 523.09,310.64 521.98,311.42" fill="none" stroke="#5ec962" stroke-width="0.5" stroke-linejoin="round" />
<polyline points="521.98,311.42 523.84,312.87 523.30,313.84 522.84,313.09 521.44,312.27 521.40,312.29 520.91,312.55 518.80,310.97" fill="none" stroke="#21918c" stroke-width="0.5" stroke-linejoin="round" />
<polyline points="518.80,310.97 518.67,310.26 518.74,310.00 517.00,310.10 518.34,310.00 519.26,310.59 520.75,310.00" fill="none" stroke="#21918c" stroke-width="0.5" stroke-linejoin="round" />
<polyline points="491.16,376.45 491.13,378.00 490.99,378.00 490.40,376.49 489.50,374.32 490.05,373.91 490.99,374.88" fill="none" stroke="#21918c" stroke-width="0.5" stroke-linejoin="round" />
<polyline points="490.99,374.88 490.15,375.07 489.94,372.40 489.50,372.00 489.50,373.79" fill="none" stroke="#5ec962" stroke-width="0.5" stroke-linejoin="round" />
<polyline points="489.50,373.79 490.49,375.59 493.01,376.35 492.16,378.00 490.21,376.53" fill="none" stroke="#21918c" stroke-width="0.5" stroke-linejoin="round" />
<rect x="568.70" y="288.10" width="92.70" height="96.20" fill="#ffffff" />
<line x1="568.70" y1="299.27" x2="661.40" y2="299.27" stroke="#b4b4b4" stroke-width="0.6" />
<line x1="566.90" y1="299.27" x2="568.70" y2="299.27" stroke="#555" stroke-width="0.5" />
<line x1="568.70" y1="311.36" x2="661.40" y2="311.36" stroke="#d6d6d6" stroke-width="0.6" />
<line x1="566.90" y1="311.36" x2="568.70" y2="311.36" stroke="#555" stroke-width="0.5" />
<line x1="568.70" y1="322.68" x2="661.40" y2="322.68" stroke="#b4b4b4" stroke-width="0.6" />
<line x1="566.90" y1="322.68" x2="568.70" y2="322.68" stroke="#555" stroke-width="0.5" />
<line x1="568.70" y1="334.19" x2="661.40" y2="334.19" stroke="#d6d6d6" stroke-width="0.6" />
<line x1="566.90" y1="334.19" x2="568.70" y2="334.19" stroke="#555" stroke-width="0.5" />
<line x1="568.70" y1="345.32" x2="661.40" y2="345.32" stroke="#b4b4b4" stroke-width="0.6" />
<line x1="566.90" y1="345.32" x2="568.70" y2="345.32" stroke="#555" stroke-width="0.5" />
<line x1="568.70" y1="357.21" x2="661.40" y2="357.21" stroke="#d6d6d6" stroke-width="0.6" />
<line x1="566.90" y1="357.21" x2="568.70" y2="357.21" stroke="#555" stroke-width="0.5" />
<line x1="568.70" y1="368.72" x2="661.40" y2="368.72" stroke="#b4b4b4" stroke-width="0.6" />
<line x1="566.90" y1="368.72" x2="568.70" y2="368.72" stroke="#555" stroke-width="0.5" />
<line x1="568.70" y1="379.85" x2="661.40" y2="379.85" stroke="#d6d6d6" stroke-width="0.6" />
<line x1="566.90" y1="379.85" x2="568.70" y2="379.85" stroke="#555" stroke-width="0.5" />
<line x1="573.90" y1="288.10" x2="573.90" y2="384.30" stroke="#c6c6c6" stroke-width="0.6" />
<line x1="573.90" y1="384.30" x2="573.90" y2="385.90" stroke="#555" stroke-width="0.5" />
<line x1="584.64" y1="288.10" x2="584.64" y2="384.30" stroke="#dcdcdc" stroke-width="0.6" />
<line x1="584.64" y1="384.30" x2="584.64" y2="385.90" stroke="#555" stroke-width="0.5" />
<line x1="595.58" y1="288.10" x2="595.58" y2="384.30" stroke="#c6c6c6" stroke-width="0.6" />
<line x1="595.58" y1="384.30" x2="595.58" y2="385.90" stroke="#555" stroke-width="0.5" />
<line x1="606.51" y1="288.10" x2="606.51" y2="384.30" stroke="#dcdcdc" stroke-width="0.6" />
<line x1="606.51" y1="384.30" x2="606.51" y2="385.90" stroke="#555" stroke-width="0.5" />
<line x1="617.64" y1="288.10" x2="617.64" y2="384.30" stroke="#c6c6c6" stroke-width="0.6" />
<line x1="617.64" y1="384.30" x2="617.64" y2="385.90" stroke="#555" stroke-width="0.5" />
<line x1="628.77" y1="288.10" x2="628.77" y2="384.30" stroke="#dcdcdc" stroke-width="0.6" />
<line x1="628.77" y1="384.30" x2="628.77" y2="385.90" stroke="#555" stroke-width="0.5" />
<line x1="639.71" y1="288.10" x2="639.71" y2="384.30" stroke="#c6c6c6" stroke-width="0.6" />
<line x1="639.71" y1="384.30" x2="639.71" y2="385.90" stroke="#555" stroke-width="0.5" />
<line x1="650.64" y1="288.10" x2="650.64" y2="384.30" stroke="#dcdcdc" stroke-width="0.6" />
<line x1="650.64" y1="384.30" x2="650.64" y2="385.90" stroke="#555" stroke-width="0.5" />
<rect x="568.70" y="288.10" width="92.70" height="96.20" fill="none" stroke="#999" stroke-width="0.7"/>
<rect x="667.10" y="288.10" width="4.60" height="96.00" fill="url(#vir)"/>
<line x1="671.70" y1="288.10" x2="672.90" y2="288.10" stroke="#555" stroke-width="0.4" />
<text x="673.80" y="289.60" font-size="4.2" text-anchor="start" font-weight="normal" fill="#333" stroke="#333" stroke-width="0" >30</text>
<line x1="671.70" y1="304.10" x2="672.90" y2="304.10" stroke="#555" stroke-width="0.4" />
<text x="673.80" y="305.60" font-size="4.2" text-anchor="start" font-weight="normal" fill="#333" stroke="#333" stroke-width="0" >25</text>
<line x1="671.70" y1="320.10" x2="672.90" y2="320.10" stroke="#555" stroke-width="0.4" />
<text x="673.80" y="321.60" font-size="4.2" text-anchor="start" font-weight="normal" fill="#333" stroke="#333" stroke-width="0" >20</text>
<line x1="671.70" y1="336.10" x2="672.90" y2="336.10" stroke="#555" stroke-width="0.4" />
<text x="673.80" y="337.60" font-size="4.2" text-anchor="start" font-weight="normal" fill="#333" stroke="#333" stroke-width="0" >15</text>
<line x1="671.70" y1="352.10" x2="672.90" y2="352.10" stroke="#555" stroke-width="0.4" />
<text x="673.80" y="353.60" font-size="4.2" text-anchor="start" font-weight="normal" fill="#333" stroke="#333" stroke-width="0" >10</text>
<line x1="671.70" y1="368.10" x2="672.90" y2="368.10" stroke="#555" stroke-width="0.4" />
<text x="673.80" y="369.60" font-size="4.2" text-anchor="start" font-weight="normal" fill="#333" stroke="#333" stroke-width="0" >5</text>
<line x1="671.70" y1="384.10" x2="672.90" y2="384.10" stroke="#555" stroke-width="0.4" />
<text x="673.80" y="385.60" font-size="4.2" text-anchor="start" font-weight="normal" fill="#333" stroke="#333" stroke-width="0" >0</text>
<text transform="translate(667.90,336.10) rotate(90)" x="0" y="0" font-size="5.4" text-anchor="middle" fill="#1a1a1a" opacity="0.85">speed (cm/s)</text>
<text x="623.60" y="286.20" font-size="9.1" text-anchor="middle" font-weight="normal" fill="#222" stroke="#222" stroke-width="0.22" >LED ON</text>
<text x="575.80" y="296.60" font-size="10.1" text-anchor="start" font-weight="normal" fill="#222" stroke="#222" stroke-width="0.22" >Food Port</text>
<polyline points="592.70,303.11 592.57,305.42 592.38,308.68 592.17,312.50 591.95,316.52 591.74,320.37 591.54,324.09 591.33,327.91 591.12,331.79 590.93,335.69 590.78,339.56 590.65,343.46 590.55,347.42 590.47,351.35 590.41,355.15 590.40,358.75 590.41,362.18 590.47,365.53 590.55,368.69 590.65,371.58 590.78,374.10 590.95,376.24 591.17,378.09 591.40,379.62 591.60,380.85 591.74,381.77" fill="none" stroke="#f0e03c" stroke-width="0.7" stroke-linejoin="round" />
<polyline points="606.13,301.19 607.92,301.16 610.44,301.09 613.40,301.05 616.54,301.06 619.56,301.19 622.57,301.42 625.75,301.72 628.95,302.11 632.05,302.57 634.91,303.11 637.43,303.80 639.70,304.64 641.86,305.52 644.06,306.33 646.42,306.94 649.20,307.33 652.30,307.58 655.35,307.73 657.99,307.82 659.85,307.90" fill="none" stroke="#f0e03c" stroke-width="0.7" stroke-linejoin="round" />
<polyline points="600.37,306.94 599.66,308.80 598.62,311.44 597.45,314.49 596.37,317.59 595.58,320.37 595.03,322.86 594.59,325.30 594.33,327.65 594.32,329.86 594.62,331.88 595.28,333.54 596.25,334.86 597.47,336.12 598.87,337.59 600.37,339.56 602.05,342.20 603.93,345.33 605.94,348.68 607.99,351.96 609.97,354.91 611.85,357.52 613.71,359.97 615.58,362.28 617.52,364.43 619.56,366.42 621.74,368.23 624.03,369.86 626.37,371.35 628.74,372.74 631.07,374.10 633.37,375.45 635.68,376.77 637.98,377.99 640.28,379.04 642.58,379.85 645.07,380.37 647.74,380.63 650.32,380.73 652.53,380.76 654.10,380.81" fill="none" stroke="#f0e03c" stroke-width="0.7" stroke-linejoin="round" />
<polyline points="594.62,331.88 595.01,333.71 595.56,336.29 596.21,339.30 596.87,342.41 597.50,345.32 598.19,348.03 599.01,350.78 599.77,353.51 600.29,356.18 600.37,358.75 599.87,361.17 598.91,363.49 597.73,365.75 596.54,367.99 595.58,370.26 594.83,372.74 594.15,375.42 593.55,377.99 593.06,380.20 592.70,381.77" fill="none" stroke="#f0e03c" stroke-width="0.7" stroke-linejoin="round" />
<polyline points="640.66,308.86 641.42,310.10 642.46,311.82 643.70,313.88 645.05,316.14 646.42,318.45 647.89,320.93 649.54,323.64 651.21,326.47 652.78,329.26 654.10,331.88 655.12,334.31 655.95,336.63 656.65,338.88 657.29,341.13 657.93,343.40 658.63,345.67 659.34,347.91 659.98,350.17 660.50,352.48 660.81,354.91 660.85,357.69 660.66,360.79 660.35,363.84 660.04,366.48 659.85,368.34" fill="none" stroke="#f0e03c" stroke-width="0.7" stroke-linejoin="round" />
<polyline points="659.85,306.94 659.90,309.98 659.97,314.22 660.05,319.24 660.14,324.62 660.23,329.97 660.35,335.81 660.48,342.45 660.61,349.03 660.73,354.74 660.81,358.75" fill="none" stroke="#f0e03c" stroke-width="0.7" stroke-linejoin="round" />
<polyline points="592.70,381.77 595.02,381.90 598.27,382.08 602.09,382.30 606.11,382.52 609.97,382.73 613.68,382.97 617.50,383.25 621.39,383.51 625.28,383.68 629.15,383.69 633.11,383.46 637.20,383.04 641.22,382.54 644.99,382.08 648.34,381.77 651.32,381.65 654.05,381.63 656.44,381.68 658.41,381.74 659.85,381.77" fill="none" stroke="#f0e03c" stroke-width="0.7" stroke-linejoin="round" />
<polyline points="604.21,375.05 605.75,375.48 607.89,376.09 610.43,376.78 613.11,377.43 615.72,377.93 618.29,378.25 620.96,378.45 623.69,378.60 626.44,378.73 629.15,378.89 632.05,379.10 635.17,379.32 638.18,379.54 640.76,379.72 642.58,379.85" fill="none" stroke="#f0e03c" stroke-width="0.7" stroke-linejoin="round" />
<polyline points="595.57,299.65 594.97,299.83 593.89,299.87 592.62,300.66 592.11,300.24" fill="none" stroke="#21918c" stroke-width="0.5" stroke-linejoin="round" />
<polyline points="592.11,300.24 591.75,298.26 590.81,298.38 590.96,299.90 590.31,300.88 587.82,302.10 589.48,303.31" fill="none" stroke="#3b528b" stroke-width="0.5" stroke-linejoin="round" />
<polyline points="589.48,303.31 588.31,304.77 587.14,304.66 586.12,302.53 585.00,303.73 585.00,304.33 585.10,304.08" fill="none" stroke="#3b528b" stroke-width="0.5" stroke-linejoin="round" />
<polyline points="585.10,304.08 585.00,303.27 585.00,302.77 585.83,304.53 586.83,304.07 587.51,304.29" fill="none" stroke="#3b528b" stroke-width="0.5" stroke-linejoin="round" />
<polyline points="587.51,304.29 589.61,304.89 591.56,304.53 593.10,303.94 593.54,304.26 595.01,305.81" fill="none" stroke="#21918c" stroke-width="0.5" stroke-linejoin="round" />
<polyline points="595.01,305.81 594.02,306.00 593.38,306.00 591.71,306.00" fill="none" stroke="#5ec962" stroke-width="0.5" stroke-linejoin="round" />
<polyline points="591.71,306.00 593.40,305.04 595.41,306.00 594.03,304.20 594.84,303.74 595.44,303.72" fill="none" stroke="#5ec962" stroke-width="0.5" stroke-linejoin="round" />
<polyline points="595.44,303.72 597.90,302.70 597.91,302.59 597.56,301.15 597.25,300.73 595.63,299.30 594.36,300.07" fill="none" stroke="#5ec962" stroke-width="0.5" stroke-linejoin="round" />
<polyline points="594.36,300.07 593.07,299.71 590.33,301.19 590.23,300.69 592.30,299.07 593.89,299.67" fill="none" stroke="#5ec962" stroke-width="0.5" stroke-linejoin="round" />
<polyline points="593.89,299.67 593.61,297.66 592.15,297.62 591.56,298.86 590.23,300.31" fill="none" stroke="#3b528b" stroke-width="0.5" stroke-linejoin="round" />
<polyline points="590.23,300.31 591.17,302.22 590.10,305.48 587.84,306.00" fill="none" stroke="#21918c" stroke-width="0.5" stroke-linejoin="round" />
<polyline points="587.84,306.00 587.99,305.21 589.02,306.00 589.86,306.00 591.00,305.12 591.29,306.00 592.05,305.45" fill="none" stroke="#21918c" stroke-width="0.5" stroke-linejoin="round" />
<polyline points="592.05,305.45 591.39,304.18 591.14,304.43 590.38,305.15 589.16,305.09" fill="none" stroke="#21918c" stroke-width="0.5" stroke-linejoin="round" />
<polyline points="589.16,305.09 589.85,303.09 588.68,302.64 588.88,302.10 589.54,302.39" fill="none" stroke="#21918c" stroke-width="0.5" stroke-linejoin="round" />
<polyline points="589.54,302.39 590.46,301.82 591.39,302.70 591.36,304.35 590.32,306.00" fill="none" stroke="#3b528b" stroke-width="0.5" stroke-linejoin="round" />
<polyline points="590.32,306.00 588.39,306.00 589.02,306.00 589.73,303.24" fill="none" stroke="#3b528b" stroke-width="0.5" stroke-linejoin="round" />
<polyline points="589.73,303.24 588.63,303.39 588.26,302.08 587.91,302.43 586.00,301.72 585.00,302.89" fill="none" stroke="#21918c" stroke-width="0.5" stroke-linejoin="round" />
<polyline points="585.00,302.89 587.25,302.52 587.78,299.69 588.94,300.00 589.86,301.26 591.25,303.83" fill="none" stroke="#21918c" stroke-width="0.5" stroke-linejoin="round" />
<polyline points="591.25,303.83 593.08,303.95 592.32,302.41 591.95,302.15" fill="none" stroke="#3b528b" stroke-width="0.5" stroke-linejoin="round" />
<polyline points="591.95,302.15 591.48,302.61 590.04,302.52 589.49,302.51" fill="none" stroke="#21918c" stroke-width="0.5" stroke-linejoin="round" />
<polyline points="589.49,302.51 589.24,303.60" fill="none" stroke="#3b528b" stroke-width="0.5" stroke-linejoin="round" />
<polyline points="652.39,302.63 653.71,303.36 653.39,303.77 654.71,304.36 655.86,303.13 657.31,301.65" fill="none" stroke="#3b528b" stroke-width="0.5" stroke-linejoin="round" />
<polyline points="657.31,301.65 658.97,301.42 660.74,301.53 661.00,304.04" fill="none" stroke="#3b528b" stroke-width="0.5" stroke-linejoin="round" />
<polyline points="661.00,304.04 661.00,303.18 660.46,303.31 660.90,305.50 661.00,304.92 660.54,307.04 659.74,307.04 659.59,306.80" fill="none" stroke="#3b528b" stroke-width="0.5" stroke-linejoin="round" />
<polyline points="659.59,306.80 658.55,306.27 656.96,304.94 657.44,304.39" fill="none" stroke="#5ec962" stroke-width="0.5" stroke-linejoin="round" />
<polyline points="657.44,304.39 658.78,303.64 658.59,302.27 656.79,301.27 656.20,303.02 656.90,303.93 657.92,304.30" fill="none" stroke="#3b528b" stroke-width="0.5" stroke-linejoin="round" />
<polyline points="657.92,304.30 658.77,303.16 661.00,302.25 659.44,300.76 657.47,302.49 656.64,304.98 655.81,306.27 653.56,306.69" fill="none" stroke="#3b528b" stroke-width="0.5" stroke-linejoin="round" />
<polyline points="653.56,306.69 653.45,307.24 654.77,306.84 654.77,304.72 656.67,305.48" fill="none" stroke="#5ec962" stroke-width="0.5" stroke-linejoin="round" />
<polyline points="656.67,305.48 657.24,306.50 659.11,307.80 660.20,307.30 660.23,306.23 660.77,304.95 661.00,305.60" fill="none" stroke="#5ec962" stroke-width="0.5" stroke-linejoin="round" />
<polyline points="661.00,305.60 661.00,303.70 661.00,301.91 659.30,302.17 657.65,301.45" fill="none" stroke="#21918c" stroke-width="0.5" stroke-linejoin="round" />
<polyline points="657.65,301.45 657.60,302.32 658.70,304.55 657.12,304.48 657.28,301.74 658.56,300.64 659.83,300.00 660.88,300.00" fill="none" stroke="#5ec962" stroke-width="0.5" stroke-linejoin="round" />
<polyline points="660.88,300.00 660.95,300.08 659.22,301.30 659.32,302.45 657.74,302.19 658.03,300.93 659.68,300.00" fill="none" stroke="#3b528b" stroke-width="0.5" stroke-linejoin="round" />
<polyline points="659.68,300.00 661.00,300.00 660.41,300.00 658.38,300.95 659.71,301.84 657.68,303.43" fill="none" stroke="#5ec962" stroke-width="0.5" stroke-linejoin="round" />
<polyline points="652.23,374.96 652.97,375.63 653.38,375.87 655.42,377.06 657.11,377.00" fill="none" stroke="#440154" stroke-width="0.5" stroke-linejoin="round" />
<polyline points="657.11,377.00 657.13,377.44 657.56,378.62 659.90,378.14 660.28,377.78 659.66,377.35" fill="none" stroke="#21918c" stroke-width="0.5" stroke-linejoin="round" />
<polyline points="659.66,377.35 660.03,375.86 660.44,375.34 660.65,373.79 657.58,374.69" fill="none" stroke="#440154" stroke-width="0.5" stroke-linejoin="round" />
<polyline points="657.58,374.69 656.79,372.59 654.62,371.90 654.48,372.92 654.33,372.90 653.87,372.30 653.42,372.83" fill="none" stroke="#21918c" stroke-width="0.5" stroke-linejoin="round" />
<polyline points="653.42,372.83 652.97,372.28 652.48,372.20 652.13,373.56 650.52,373.21 649.40,372.42" fill="none" stroke="#3b528b" stroke-width="0.5" stroke-linejoin="round" />
<polyline points="649.40,372.42 649.00,372.36 649.00,374.60 649.51,376.77 649.00,377.94" fill="none" stroke="#21918c" stroke-width="0.5" stroke-linejoin="round" />
<polyline points="649.00,377.94 649.00,378.77 649.00,379.47 650.08,381.06 651.27,379.72" fill="none" stroke="#440154" stroke-width="0.5" stroke-linejoin="round" />
<polyline points="651.27,379.72 653.59,379.44 652.87,376.86 652.70,375.45" fill="none" stroke="#3b528b" stroke-width="0.5" stroke-linejoin="round" />
<polyline points="652.70,375.45 651.46,376.58 650.47,374.88 651.21,373.52 652.54,376.03 653.24,376.30" fill="none" stroke="#440154" stroke-width="0.5" stroke-linejoin="round" />
<polyline points="653.24,376.30 653.26,376.39 652.29,377.68 650.58,376.55 650.53,375.50 649.00,376.05 652.19,375.56 653.06,376.24" fill="none" stroke="#3b528b" stroke-width="0.5" stroke-linejoin="round" />
<polyline points="653.06,376.24 653.74,377.41 652.50,377.77 652.71,379.94 654.83,380.07 654.52,380.59 652.52,381.19 652.66,382.65" fill="none" stroke="#440154" stroke-width="0.5" stroke-linejoin="round" />
<polyline points="652.66,382.65 652.68,382.66 654.37,380.12 655.07,378.51 656.02,377.14" fill="none" stroke="#440154" stroke-width="0.5" stroke-linejoin="round" />
<polyline points="656.02,377.14 656.02,377.14 656.67,378.48 655.56,378.52 655.68,379.84 654.24,380.63 652.69,380.02" fill="none" stroke="#3b528b" stroke-width="0.5" stroke-linejoin="round" />
<polyline points="652.69,380.02 652.32,381.22 652.37,382.48 653.31,381.84 653.15,379.79 652.54,379.86 652.40,380.95 653.80,380.51" fill="none" stroke="#21918c" stroke-width="0.5" stroke-linejoin="round" />
<polyline points="653.80,380.51 654.52,377.90 656.59,376.31 655.31,374.65 653.88,375.10 653.13,374.85 652.07,375.62 651.26,376.31" fill="none" stroke="#440154" stroke-width="0.5" stroke-linejoin="round" />
<polyline points="651.26,376.31 649.75,378.46 649.04,379.12 649.00,378.62 649.66,378.06 651.51,377.36 654.63,378.14 654.51,379.61" fill="none" stroke="#21918c" stroke-width="0.5" stroke-linejoin="round" />
<polyline points="654.51,379.61 656.01,379.50 655.96,380.62 655.85,380.59 654.42,382.75 652.91,382.70" fill="none" stroke="#440154" stroke-width="0.5" stroke-linejoin="round" />
<polyline points="652.91,382.70 651.35,382.54 649.00,382.70 649.80,381.84 649.17,379.68 649.00,380.21" fill="none" stroke="#21918c" stroke-width="0.5" stroke-linejoin="round" />
<polyline points="649.00,380.21 649.92,379.93 650.70,381.03 651.55,381.13 651.81,382.77 653.37,383.00 653.80,383.00" fill="none" stroke="#21918c" stroke-width="0.5" stroke-linejoin="round" />
<polyline points="653.80,383.00 654.74,380.61 652.51,380.70 651.52,377.91 649.19,377.98 649.00,376.87" fill="none" stroke="#440154" stroke-width="0.5" stroke-linejoin="round" />
<polyline points="649.00,376.87 650.72,378.03 651.79,378.74 650.44,379.96 649.21,378.24 650.15,377.47 651.26,378.56" fill="none" stroke="#21918c" stroke-width="0.5" stroke-linejoin="round" />
<polyline points="651.26,378.56 652.88,378.46 652.86,377.41 653.64,376.70" fill="none" stroke="#440154" stroke-width="0.5" stroke-linejoin="round" />
<polyline points="653.64,376.70 654.73,374.98 654.95,374.45 653.20,374.05 653.05,373.82" fill="none" stroke="#440154" stroke-width="0.5" stroke-linejoin="round" />
<polyline points="653.05,373.82 651.35,373.71 650.01,372.35 650.06,369.68 650.09,369.53 649.36,367.86 649.00,368.79" fill="none" stroke="#3b528b" stroke-width="0.5" stroke-linejoin="round" />
<polyline points="649.00,368.79 649.00,370.00 649.00,371.60 651.36,370.67 651.87,371.96 651.51,373.65" fill="none" stroke="#3b528b" stroke-width="0.5" stroke-linejoin="round" />
<polyline points="651.51,373.65 654.41,373.50 654.93,373.75 656.21,372.73 655.19,371.77 652.29,372.08" fill="none" stroke="#440154" stroke-width="0.5" stroke-linejoin="round" />
<polyline points="652.29,372.08 650.48,370.75 651.02,369.55 650.40,368.56 650.25,366.70 649.77,366.30 650.09,365.63" fill="none" stroke="#440154" stroke-width="0.5" stroke-linejoin="round" />
<polyline points="650.09,365.63 652.05,366.50 652.33,367.11 654.15,366.80 655.96,365.94 655.22,365.47 655.87,363.89" fill="none" stroke="#21918c" stroke-width="0.5" stroke-linejoin="round" />
<polyline points="655.87,363.89 657.04,363.00 656.09,364.98 655.51,367.00 656.71,367.23 657.33,368.27 657.87,369.20 656.97,370.43" fill="none" stroke="#21918c" stroke-width="0.5" stroke-linejoin="round" />
<polyline points="656.97,370.43 658.44,370.50 658.06,368.63 657.12,369.57 658.35,370.53 659.65,371.02" fill="none" stroke="#3b528b" stroke-width="0.5" stroke-linejoin="round" />
<polyline points="659.65,371.02 660.23,372.04 660.94,374.71 659.99,374.38 658.01,374.99 657.63,376.11 657.66,378.85 659.37,378.42" fill="none" stroke="#440154" stroke-width="0.5" stroke-linejoin="round" />
<polyline points="659.37,378.42 661.00,378.99 660.56,380.81 659.43,380.00 657.24,380.50" fill="none" stroke="#440154" stroke-width="0.5" stroke-linejoin="round" />
<polyline points="657.24,380.50 657.61,381.67 658.69,381.95 659.39,381.51 658.76,378.96" fill="none" stroke="#21918c" stroke-width="0.5" stroke-linejoin="round" />
<polyline points="658.76,378.96 657.67,379.33 656.99,381.65 657.44,381.72 656.52,383.00 655.89,381.98" fill="none" stroke="#440154" stroke-width="0.5" stroke-linejoin="round" />
<polyline points="655.89,381.98 656.25,380.24 657.67,379.64 656.25,377.45 654.98,377.23 652.80,375.39 652.24,374.88 650.71,373.67" fill="none" stroke="#3b528b" stroke-width="0.5" stroke-linejoin="round" />
<polyline points="650.71,373.67 649.00,374.54 649.47,374.49 650.97,373.61" fill="none" stroke="#3b528b" stroke-width="0.5" stroke-linejoin="round" />
<polyline points="650.97,373.61 652.20,374.53 653.46,373.19 655.60,372.59 655.97,371.95 657.03,373.01" fill="none" stroke="#3b528b" stroke-width="0.5" stroke-linejoin="round" />
<polyline points="657.03,373.01 657.65,374.34 658.14,376.91 659.52,377.69 658.19,378.39" fill="none" stroke="#440154" stroke-width="0.5" stroke-linejoin="round" />
<polyline points="590.27,380.17 589.20,378.94 588.01,380.26 590.06,380.56 588.52,382.29 587.45,382.28" fill="none" stroke="#5ec962" stroke-width="0.5" stroke-linejoin="round" />
<polyline points="587.45,382.28 586.06,380.69 583.23,380.45 583.00,379.20 583.00,377.80 583.65,379.41 583.87,379.28 583.66,379.14" fill="none" stroke="#5ec962" stroke-width="0.5" stroke-linejoin="round" />
<polyline points="583.66,379.14 583.65,379.14 583.19,380.91 584.35,382.02 584.43,383.85 583.05,384.00" fill="none" stroke="#3b528b" stroke-width="0.5" stroke-linejoin="round" />
<polyline points="583.05,384.00 583.00,382.46 584.22,382.32 584.47,383.36" fill="none" stroke="#5ec962" stroke-width="0.5" stroke-linejoin="round" />
<polyline points="584.47,383.36 584.19,384.00 583.08,383.94 583.00,384.00 583.38,383.60" fill="none" stroke="#5ec962" stroke-width="0.5" stroke-linejoin="round" />
<polyline points="583.38,383.60 584.80,384.00 584.09,382.77 583.00,383.26 584.17,384.00 586.00,382.66 585.41,381.20" fill="none" stroke="#3b528b" stroke-width="0.5" stroke-linejoin="round" />
<polyline points="585.41,381.20 584.66,381.63 583.00,381.77 583.00,380.45 584.28,379.34 583.00,377.92 584.92,379.57 585.35,380.82" fill="none" stroke="#21918c" stroke-width="0.5" stroke-linejoin="round" />
<polyline points="585.35,380.82 587.88,381.42 587.37,380.08 587.88,377.44 585.74,376.51 585.35,376.76 585.18,376.00" fill="none" stroke="#5ec962" stroke-width="0.5" stroke-linejoin="round" />
<polyline points="585.18,376.00 584.89,377.84 584.04,377.67 583.00,377.52 583.64,376.31" fill="none" stroke="#21918c" stroke-width="0.5" stroke-linejoin="round" />
<polyline points="583.64,376.31 585.10,376.00 583.10,376.64 583.23,376.00 583.00,377.86 583.00,379.81" fill="none" stroke="#3b528b" stroke-width="0.5" stroke-linejoin="round" />
<polyline points="583.00,379.81 583.00,379.23 584.31,381.22" fill="none" stroke="#5ec962" stroke-width="0.5" stroke-linejoin="round" />
<polyline points="594.43,327.92 596.09,327.59 596.77,326.09 595.67,325.73 596.10,328.40 595.17,330.66 592.63,331.01 592.50,333.24" fill="none" stroke="#21918c" stroke-width="0.5" stroke-linejoin="round" />
<polyline points="592.50,333.24 593.10,332.95 593.81,332.11 593.78,332.07 592.50,332.55 592.51,332.33" fill="none" stroke="#3b528b" stroke-width="0.5" stroke-linejoin="round" />
<polyline points="592.51,332.33 592.50,332.64 593.43,332.35 593.77,333.88 593.24,333.97 592.50,332.49 593.08,332.22" fill="none" stroke="#21918c" stroke-width="0.5" stroke-linejoin="round" />
<polyline points="593.08,332.22 592.50,330.18 592.61,329.44 594.19,327.58" fill="none" stroke="#3b528b" stroke-width="0.5" stroke-linejoin="round" />
<text x="412.90" y="10.00" font-size="12.6" text-anchor="start" font-weight="bold" fill="#231f20" stroke="#231f20" stroke-width="0.22" >f</text>
<text x="411.50" y="288.00" font-size="12.6" text-anchor="start" font-weight="bold" fill="#231f20" stroke="#231f20" stroke-width="0.22" >n</text>
<g clip-path="url(#clipB)">
<rect x="173.10" y="17.10" width="92.80" height="91.80" fill="#3c0805" />
<ellipse cx="230" cy="30" rx="38" ry="14" fill="#c81a0c" opacity="0.3" filter="url(#blur2)"/>
<ellipse cx="250" cy="55" rx="16" ry="20" fill="#c81a0c" opacity="0.2" filter="url(#blur2)"/>
<ellipse cx="205" cy="75" rx="22" ry="14" fill="#c81a0c" opacity="0.15" filter="url(#blur2)"/>
<ellipse cx="190" cy="100" rx="18" ry="8" fill="#c81a0c" opacity="0.2" filter="url(#blur2)"/>
<ellipse cx="255" cy="90" rx="12" ry="14" fill="#c81a0c" opacity="0.15" filter="url(#blur2)"/>
<ellipse cx="215" cy="45" rx="15" ry="10" fill="#c81a0c" opacity="0.2" filter="url(#blur2)"/>
<rect x="173.10" y="17.10" width="92.80" height="91.80" fill="#ff2a10" filter="url(#turbR)" opacity="0.6"/>
<rect x="173.10" y="17.10" width="92.80" height="91.80" fill="#ff2a10" filter="url(#veinR)" opacity="0.75"/>
<ellipse cx="177" cy="21" rx="5" ry="5" fill="#7fb030" opacity="0.6" filter="url(#blur2)"/>
<ellipse cx="205" cy="55" rx="9" ry="3" fill="#7fb030" opacity="0.4" filter="url(#blur2)"/>
<ellipse cx="228" cy="57" rx="4" ry="5" fill="#7fb030" opacity="0.35" filter="url(#blur2)"/>
<ellipse cx="176" cy="80" rx="3" ry="14" fill="#7fb030" opacity="0.3" filter="url(#blur2)"/>
<rect x="173.1" y="17.1" width="62" height="91.8" fill="#60c030" filter="url(#veinG)" opacity="0.5"/>
<ellipse cx="187.1" cy="34.1" rx="8" ry="12" fill="#120202" opacity="0.9" filter="url(#blur2)"/>
<ellipse cx="253.1" cy="95.1" rx="12" ry="14" fill="#1e0403" opacity="0.45" filter="url(#blur2)"/>
<ellipse cx="203.1" cy="77.1" rx="9" ry="8" fill="#1e0403" opacity="0.6" filter="url(#blur2)"/>
<ellipse cx="233.1" cy="62.1" rx="8" ry="8" fill="#1e0403" opacity="0.5" filter="url(#blur2)"/>
<ellipse cx="251.1" cy="87.1" rx="9" ry="10" fill="#1e0403" opacity="0.5" filter="url(#blur2)"/>
<ellipse cx="193.1" cy="102.1" rx="10" ry="6" fill="#1e0403" opacity="0.45" filter="url(#blur2)"/>
<path d="M178.1,95.1 C188.1,96.1 201.1,98.1 213.1,101.1" stroke="#ff2a14" stroke-width="1.5" fill="none" opacity="0.8" filter="url(#blur05)"/>
<path d="M223.1,72.1 C228.1,67.1 231.1,61.1 237.1,57.1" stroke="#ff2a14" stroke-width="1.0" fill="none" opacity="0.5" filter="url(#blur05)"/>
<path d="M203.1,25.1 C209.1,27.1 215.1,29.1 221.1,27.1" stroke="#ff2a14" stroke-width="1.2" fill="none" opacity="0.6" filter="url(#blur05)"/>
<ellipse cx="185.1" cy="56.1" rx="5.5" ry="4.8" fill="#ff6a1a" opacity="0.9" filter="url(#blur1)"/>
<path d="M213.1,105.1 C223.1,101.1 231.1,96.1 235.1,89.1 C237.1,81.1 239.1,75.1 243.1,71.1 C247.1,68.1 250.1,66.1 254.1,63.1" stroke="#ff2a1a" stroke-width="2.2" fill="none" filter="url(#blur05)"/>
<path d="M233.1,79.1 C240.1,81.1 242.1,89.1 240.1,95.1 C238.1,99.1 234.1,99.1 232.1,95.1 C230.1,89.1 230.1,83.1 233.1,79.1 Z" fill="#ff2a1a" filter="url(#blur05)"/>
<path d="M191.1,67.1 L199.1,75.1 M197.1,67.1 L193.1,75.1" stroke="#ff3a1a" stroke-width="1.3" fill="none" opacity="0.8" filter="url(#blur05)"/>
<path d="M215.1,67.1 L220.1,69.1 L224.1,63.1 M218.1,64.1 L222.1,73.1" stroke="#ff3a1a" stroke-width="1.5" fill="none" opacity="0.9" filter="url(#blur05)"/>
</g>
<line x1="238.70" y1="105.80" x2="263.00" y2="105.80" stroke="#ffffff" stroke-width="1.1" />
<text x="241.30" y="102.10" font-size="6.5" text-anchor="start" font-weight="normal" fill="#ffffff" stroke="#ffffff" stroke-width="0.22" textLength="17.3" lengthAdjust="spacingAndGlyphs" >20µm</text>
<text x="157.60" y="10.20" font-size="12.6" text-anchor="start" font-weight="bold" fill="#231f20" stroke="#231f20" stroke-width="0.22" >b</text>
<g clip-path="url(#clipJ)">
<rect x="170.70" y="289.80" width="94.80" height="94.70" fill="#353535" />
<rect x="170.70" y="289.80" width="94.80" height="94.70" fill="#ffffff" filter="url(#turbJ)" opacity="0.08"/>
<ellipse cx="242.7" cy="297.8" rx="7" ry="4" fill="#4a4a4a" filter="url(#blur2)"/>
<path d="M180.7,383.8 C188.7,369.8 196.7,355.8 204.7,345.8 C210.7,339.8 214.7,329.8 218.7,319.8" stroke="#3f3f3f" stroke-width="4" fill="none" filter="url(#blur2)"/>
<ellipse cx="205.7" cy="344.8" rx="4.5" ry="6" fill="#555" filter="url(#blur1)" transform="rotate(30 205.7 344.8)"/>
<circle cx="203.7" cy="339.8" r="0.5" fill="#8a8a8a"/>
<circle cx="206.7" cy="338.8" r="0.5" fill="#8a8a8a"/>
<circle cx="208.7" cy="340.8" r="0.5" fill="#8a8a8a"/>
<circle cx="201.7" cy="345.8" r="0.5" fill="#8a8a8a"/>
<circle cx="204.7" cy="349.8" r="0.5" fill="#8a8a8a"/>
<circle cx="206.7" cy="346.8" r="0.5" fill="#8a8a8a"/>
<circle cx="200.7" cy="350.8" r="0.5" fill="#8a8a8a"/>
</g>
<line x1="212.8" y1="340.6" x2="265.5" y2="324.9" stroke="#e6e6e6" stroke-width="1.2" stroke-dasharray="3.3,2.2"/>
<line x1="212.8" y1="343.5" x2="265.5" y2="345.5" stroke="#e6e6e6" stroke-width="1.2" stroke-dasharray="3.3,2.2"/>
<line x1="239.10" y1="379.60" x2="262.60" y2="379.60" stroke="#ffffff" stroke-width="1.1" />
<text x="241.50" y="375.80" font-size="6.5" text-anchor="start" font-weight="normal" fill="#ffffff" stroke="#ffffff" stroke-width="0.22" textLength="17.3" lengthAdjust="spacingAndGlyphs" >20µm</text>
<text x="153.70" y="287.60" font-size="12.6" text-anchor="start" font-weight="bold" fill="#231f20" stroke="#231f20" stroke-width="0.22" >j</text>
</svg>
</body></html>
